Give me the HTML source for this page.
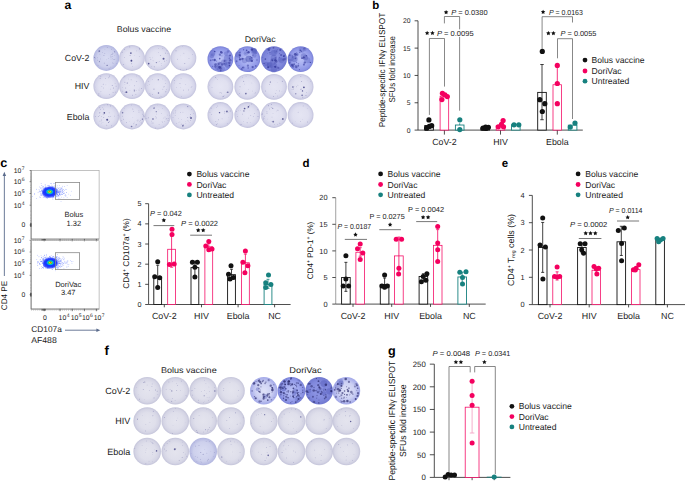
<!DOCTYPE html>
<html><head><meta charset="utf-8"><style>
html,body{margin:0;padding:0;background:#fff;width:685px;height:482px;overflow:hidden}
</style></head><body>
<svg width="685" height="482" viewBox="0 0 685 482" style="display:block">
<defs>
<radialGradient id="gL" cx="50%" cy="50%" r="50%">
 <stop offset="0" stop-color="#e4e4ee"/><stop offset="0.6" stop-color="#dfdfeb"/><stop offset="0.85" stop-color="#d5d5e5"/><stop offset="0.96" stop-color="#c9c9dd"/><stop offset="1" stop-color="#c3c3d9"/>
</radialGradient>
<radialGradient id="gLa" cx="50%" cy="50%" r="50%">
 <stop offset="0" stop-color="#e5e5f3"/><stop offset="0.6" stop-color="#e0e0f0"/><stop offset="0.85" stop-color="#d5d5ea"/><stop offset="0.96" stop-color="#c7c7e0"/><stop offset="1" stop-color="#c1c1dc"/>
</radialGradient>
<radialGradient id="gL2" cx="50%" cy="50%" r="50%">
 <stop offset="0" stop-color="#d8dbf2"/><stop offset="0.7" stop-color="#cdd0ec"/><stop offset="1" stop-color="#b2b6e0"/>
</radialGradient>
<radialGradient id="gB" cx="50%" cy="50%" r="50%">
 <stop offset="0" stop-color="#bcc3f6"/><stop offset="0.5" stop-color="#a3abef"/><stop offset="0.85" stop-color="#8d95e6"/><stop offset="1" stop-color="#7880d6"/>
</radialGradient>
<radialGradient id="gB1" cx="50%" cy="50%" r="50%">
 <stop offset="0" stop-color="#dfe2f8"/><stop offset="0.6" stop-color="#ccd0f3"/><stop offset="1" stop-color="#a2a8e8"/>
</radialGradient>
<radialGradient id="gB3" cx="50%" cy="50%" r="50%">
 <stop offset="0" stop-color="#949ce8"/><stop offset="0.7" stop-color="#8088dc"/><stop offset="1" stop-color="#7078d0"/>
</radialGradient>
<radialGradient id="blob" cx="50%" cy="50%" r="50%">
 <stop offset="0" stop-color="#e81010"/><stop offset="0.1" stop-color="#f0d020"/><stop offset="0.2" stop-color="#40d040"/><stop offset="0.33" stop-color="#00b8e8"/><stop offset="0.5" stop-color="#1038ff"/><stop offset="0.75" stop-color="#1a30ff" stop-opacity="0.85"/><stop offset="1" stop-color="#3050ff" stop-opacity="0"/>
</radialGradient>
</defs>
<g font-family='"Liberation Sans", sans-serif' text-rendering="geometricPrecision">
<text x="64.50" y="8.90" font-size="12.2" text-anchor="start" font-weight="bold" fill="#000">a</text>
<text x="144.00" y="31.70" font-size="8.3" text-anchor="middle" fill="#1c1c1c" textLength="54.3" lengthAdjust="spacingAndGlyphs">Bolus vaccine</text>
<text x="260.20" y="42.00" font-size="8.3" text-anchor="middle" fill="#1c1c1c" textLength="31.1" lengthAdjust="spacingAndGlyphs">DoriVac</text>
<text x="89.30" y="61.30" font-size="8.8" text-anchor="end" fill="#1c1c1c">CoV-2</text>
<text x="89.30" y="88.60" font-size="8.8" text-anchor="end" fill="#1c1c1c">HIV</text>
<text x="89.30" y="119.80" font-size="8.8" text-anchor="end" fill="#1c1c1c">Ebola</text>
<circle cx="106.30" cy="58.00" r="12.90" fill="url(#gL2)"/>
<circle cx="117.54" cy="54.81" r="0.21" fill="#40408a" opacity="0.29"/>
<circle cx="111.57" cy="49.16" r="0.37" fill="#40408a" opacity="0.39"/>
<circle cx="98.95" cy="52.23" r="0.35" fill="#40408a" opacity="0.32"/>
<circle cx="99.48" cy="61.18" r="0.38" fill="#40408a" opacity="0.70"/>
<circle cx="114.71" cy="55.23" r="0.31" fill="#40408a" opacity="0.37"/>
<circle cx="108.24" cy="58.44" r="0.32" fill="#40408a" opacity="0.39"/>
<circle cx="98.04" cy="65.75" r="0.33" fill="#40408a" opacity="0.50"/>
<circle cx="106.46" cy="59.85" r="0.28" fill="#40408a" opacity="0.31"/>
<circle cx="94.34" cy="57.23" r="0.37" fill="#40408a" opacity="0.33"/>
<circle cx="114.70" cy="51.36" r="0.38" fill="#40408a" opacity="0.66"/>
<circle cx="107.16" cy="47.37" r="0.29" fill="#40408a" opacity="0.69"/>
<circle cx="110.98" cy="56.86" r="0.39" fill="#40408a" opacity="0.57"/>
<circle cx="97.82" cy="60.10" r="0.32" fill="#40408a" opacity="0.67"/>
<circle cx="95.36" cy="57.94" r="0.29" fill="#40408a" opacity="0.65"/>
<circle cx="112.88" cy="53.20" r="0.34" fill="#40408a" opacity="0.66"/>
<circle cx="104.93" cy="49.74" r="0.26" fill="#40408a" opacity="0.40"/>
<circle cx="104.78" cy="53.35" r="0.43" fill="#40408a" opacity="0.37"/>
<circle cx="111.97" cy="54.47" r="0.44" fill="#40408a" opacity="0.57"/>
<circle cx="97.67" cy="57.77" r="0.36" fill="#40408a" opacity="0.51"/>
<circle cx="104.23" cy="63.06" r="0.33" fill="#40408a" opacity="0.67"/>
<circle cx="103.95" cy="55.70" r="0.41" fill="#40408a" opacity="0.58"/>
<circle cx="110.69" cy="55.12" r="0.39" fill="#40408a" opacity="0.28"/>
<circle cx="102.71" cy="52.86" r="0.26" fill="#40408a" opacity="0.64"/>
<circle cx="113.11" cy="63.37" r="0.41" fill="#40408a" opacity="0.36"/>
<circle cx="109.07" cy="68.91" r="0.31" fill="#40408a" opacity="0.57"/>
<circle cx="113.38" cy="59.44" r="0.24" fill="#40408a" opacity="0.55"/>
<circle cx="116.47" cy="63.83" r="0.21" fill="#40408a" opacity="0.58"/>
<circle cx="112.31" cy="58.80" r="0.40" fill="#40408a" opacity="0.32"/>
<circle cx="110.33" cy="67.12" r="0.30" fill="#40408a" opacity="0.27"/>
<circle cx="110.96" cy="57.71" r="0.21" fill="#40408a" opacity="0.40"/>
<circle cx="98.56" cy="51.15" r="0.23" fill="#40408a" opacity="0.40"/>
<circle cx="114.19" cy="59.55" r="0.39" fill="#40408a" opacity="0.58"/>
<circle cx="114.81" cy="51.98" r="0.42" fill="#40408a" opacity="0.57"/>
<circle cx="100.69" cy="58.97" r="0.37" fill="#40408a" opacity="0.39"/>
<circle cx="112.73" cy="62.80" r="0.42" fill="#40408a" opacity="0.31"/>
<circle cx="99.83" cy="54.17" r="0.33" fill="#40408a" opacity="0.31"/>
<circle cx="112.21" cy="56.47" r="0.35" fill="#40408a" opacity="0.44"/>
<circle cx="115.20" cy="59.01" r="0.24" fill="#40408a" opacity="0.28"/>
<circle cx="111.01" cy="59.01" r="0.22" fill="#40408a" opacity="0.54"/>
<circle cx="94.42" cy="57.38" r="0.43" fill="#40408a" opacity="0.70"/>
<circle cx="107.10" cy="65.27" r="0.63" fill="#30307a" opacity="0.69"/>
<circle cx="99.33" cy="51.10" r="0.85" fill="#30307a" opacity="0.55"/>
<circle cx="99.26" cy="61.70" r="0.50" fill="#30307a" opacity="0.46"/>
<circle cx="132.00" cy="58.00" r="12.90" fill="url(#gLa)"/>
<circle cx="132.67" cy="66.83" r="0.29" fill="#40408a" opacity="0.52"/>
<circle cx="129.84" cy="55.82" r="0.20" fill="#40408a" opacity="0.63"/>
<circle cx="131.66" cy="63.80" r="0.45" fill="#40408a" opacity="0.46"/>
<circle cx="136.28" cy="50.91" r="0.36" fill="#40408a" opacity="0.32"/>
<circle cx="124.60" cy="49.62" r="0.33" fill="#40408a" opacity="0.58"/>
<circle cx="130.56" cy="55.33" r="0.39" fill="#40408a" opacity="0.52"/>
<circle cx="131.33" cy="60.00" r="0.42" fill="#40408a" opacity="0.46"/>
<circle cx="129.81" cy="46.97" r="0.38" fill="#40408a" opacity="0.66"/>
<circle cx="123.52" cy="64.58" r="0.31" fill="#40408a" opacity="0.67"/>
<circle cx="134.71" cy="55.42" r="0.23" fill="#40408a" opacity="0.35"/>
<circle cx="139.74" cy="56.29" r="0.36" fill="#40408a" opacity="0.39"/>
<circle cx="124.56" cy="57.66" r="0.29" fill="#40408a" opacity="0.51"/>
<circle cx="122.15" cy="52.24" r="0.37" fill="#40408a" opacity="0.67"/>
<circle cx="139.40" cy="48.63" r="0.37" fill="#40408a" opacity="0.32"/>
<circle cx="139.55" cy="48.95" r="0.43" fill="#40408a" opacity="0.51"/>
<circle cx="130.86" cy="53.09" r="0.92" fill="#30307a" opacity="0.68"/>
<circle cx="131.40" cy="60.70" r="0.93" fill="#30307a" opacity="0.85"/>
<circle cx="157.70" cy="58.00" r="12.90" fill="url(#gLa)"/>
<circle cx="158.04" cy="61.84" r="0.30" fill="#40408a" opacity="0.32"/>
<circle cx="164.65" cy="61.09" r="0.43" fill="#40408a" opacity="0.61"/>
<circle cx="158.24" cy="52.37" r="0.33" fill="#40408a" opacity="0.37"/>
<circle cx="159.53" cy="61.46" r="0.25" fill="#40408a" opacity="0.67"/>
<circle cx="162.83" cy="48.52" r="0.40" fill="#40408a" opacity="0.34"/>
<circle cx="154.21" cy="66.84" r="0.38" fill="#40408a" opacity="0.63"/>
<circle cx="160.28" cy="55.58" r="0.35" fill="#40408a" opacity="0.55"/>
<circle cx="152.64" cy="57.81" r="0.32" fill="#40408a" opacity="0.29"/>
<circle cx="167.93" cy="53.54" r="0.34" fill="#40408a" opacity="0.39"/>
<circle cx="165.33" cy="53.08" r="0.42" fill="#40408a" opacity="0.63"/>
<circle cx="149.99" cy="57.59" r="0.35" fill="#40408a" opacity="0.44"/>
<circle cx="161.20" cy="63.62" r="0.40" fill="#40408a" opacity="0.27"/>
<circle cx="166.80" cy="60.72" r="0.27" fill="#40408a" opacity="0.49"/>
<circle cx="150.79" cy="59.26" r="0.45" fill="#40408a" opacity="0.34"/>
<circle cx="153.09" cy="60.81" r="0.36" fill="#40408a" opacity="0.37"/>
<circle cx="151.30" cy="66.16" r="0.28" fill="#40408a" opacity="0.50"/>
<circle cx="160.84" cy="55.84" r="0.22" fill="#40408a" opacity="0.35"/>
<circle cx="158.60" cy="48.63" r="0.26" fill="#40408a" opacity="0.40"/>
<circle cx="161.27" cy="65.30" r="0.21" fill="#40408a" opacity="0.56"/>
<circle cx="167.00" cy="50.87" r="0.38" fill="#40408a" opacity="0.68"/>
<circle cx="163.56" cy="58.67" r="0.98" fill="#30307a" opacity="0.76"/>
<circle cx="148.69" cy="63.68" r="0.81" fill="#30307a" opacity="0.78"/>
<circle cx="156.41" cy="62.62" r="0.72" fill="#30307a" opacity="0.50"/>
<circle cx="183.40" cy="58.00" r="12.90" fill="url(#gLa)"/>
<circle cx="176.00" cy="50.79" r="0.40" fill="#40408a" opacity="0.67"/>
<circle cx="182.67" cy="46.50" r="0.21" fill="#40408a" opacity="0.46"/>
<circle cx="192.46" cy="54.63" r="0.43" fill="#40408a" opacity="0.30"/>
<circle cx="177.55" cy="59.15" r="0.34" fill="#40408a" opacity="0.51"/>
<circle cx="188.97" cy="58.46" r="0.27" fill="#40408a" opacity="0.66"/>
<circle cx="183.87" cy="53.23" r="0.40" fill="#40408a" opacity="0.31"/>
<circle cx="180.24" cy="55.13" r="0.20" fill="#40408a" opacity="0.64"/>
<circle cx="184.80" cy="63.39" r="0.45" fill="#40408a" opacity="0.64"/>
<circle cx="180.52" cy="69.41" r="0.33" fill="#40408a" opacity="0.56"/>
<circle cx="186.66" cy="69.17" r="0.37" fill="#40408a" opacity="0.68"/>
<circle cx="106.30" cy="86.10" r="12.90" fill="url(#gLa)"/>
<circle cx="109.23" cy="75.62" r="0.32" fill="#40408a" opacity="0.37"/>
<circle cx="116.07" cy="86.13" r="0.32" fill="#40408a" opacity="0.59"/>
<circle cx="98.94" cy="93.63" r="0.27" fill="#40408a" opacity="0.61"/>
<circle cx="105.32" cy="78.44" r="0.33" fill="#40408a" opacity="0.56"/>
<circle cx="109.43" cy="94.46" r="0.40" fill="#40408a" opacity="0.37"/>
<circle cx="109.57" cy="76.72" r="0.41" fill="#40408a" opacity="0.40"/>
<circle cx="115.25" cy="92.03" r="0.40" fill="#40408a" opacity="0.45"/>
<circle cx="110.73" cy="89.06" r="0.36" fill="#40408a" opacity="0.38"/>
<circle cx="115.08" cy="83.33" r="0.25" fill="#40408a" opacity="0.54"/>
<circle cx="98.89" cy="95.01" r="0.43" fill="#40408a" opacity="0.48"/>
<circle cx="100.14" cy="78.20" r="0.40" fill="#40408a" opacity="0.69"/>
<circle cx="113.40" cy="87.38" r="0.35" fill="#40408a" opacity="0.39"/>
<circle cx="103.26" cy="84.19" r="0.42" fill="#40408a" opacity="0.49"/>
<circle cx="113.55" cy="92.64" r="0.28" fill="#40408a" opacity="0.34"/>
<circle cx="101.86" cy="86.55" r="0.25" fill="#40408a" opacity="0.64"/>
<circle cx="105.87" cy="84.83" r="0.39" fill="#40408a" opacity="0.26"/>
<circle cx="100.62" cy="96.00" r="0.36" fill="#40408a" opacity="0.39"/>
<circle cx="100.93" cy="91.31" r="0.23" fill="#40408a" opacity="0.70"/>
<circle cx="113.66" cy="88.69" r="0.39" fill="#40408a" opacity="0.43"/>
<circle cx="112.20" cy="85.39" r="0.44" fill="#40408a" opacity="0.65"/>
<circle cx="100.86" cy="76.18" r="0.31" fill="#40408a" opacity="0.62"/>
<circle cx="108.76" cy="77.84" r="0.32" fill="#40408a" opacity="0.57"/>
<circle cx="103.34" cy="88.00" r="0.39" fill="#40408a" opacity="0.37"/>
<circle cx="95.71" cy="86.92" r="0.24" fill="#40408a" opacity="0.26"/>
<circle cx="112.87" cy="92.55" r="0.29" fill="#40408a" opacity="0.37"/>
<circle cx="132.00" cy="86.10" r="12.90" fill="url(#gLa)"/>
<circle cx="129.92" cy="90.27" r="0.36" fill="#40408a" opacity="0.28"/>
<circle cx="124.93" cy="84.48" r="0.21" fill="#40408a" opacity="0.48"/>
<circle cx="139.68" cy="87.94" r="0.22" fill="#40408a" opacity="0.29"/>
<circle cx="122.29" cy="91.08" r="0.23" fill="#40408a" opacity="0.35"/>
<circle cx="123.87" cy="77.72" r="0.34" fill="#40408a" opacity="0.43"/>
<circle cx="134.56" cy="85.72" r="0.41" fill="#40408a" opacity="0.38"/>
<circle cx="134.54" cy="89.34" r="0.28" fill="#40408a" opacity="0.62"/>
<circle cx="135.86" cy="94.40" r="0.36" fill="#40408a" opacity="0.42"/>
<circle cx="129.13" cy="85.21" r="0.21" fill="#40408a" opacity="0.34"/>
<circle cx="128.68" cy="78.99" r="0.28" fill="#40408a" opacity="0.51"/>
<circle cx="125.71" cy="88.00" r="0.40" fill="#40408a" opacity="0.56"/>
<circle cx="132.34" cy="95.19" r="0.33" fill="#40408a" opacity="0.64"/>
<circle cx="131.17" cy="79.72" r="0.45" fill="#40408a" opacity="0.30"/>
<circle cx="122.91" cy="91.24" r="0.24" fill="#40408a" opacity="0.47"/>
<circle cx="141.51" cy="88.49" r="0.39" fill="#40408a" opacity="0.51"/>
<circle cx="136.77" cy="81.36" r="0.37" fill="#40408a" opacity="0.52"/>
<circle cx="124.90" cy="82.20" r="0.41" fill="#40408a" opacity="0.68"/>
<circle cx="122.35" cy="87.68" r="0.22" fill="#40408a" opacity="0.57"/>
<circle cx="124.80" cy="76.56" r="0.41" fill="#40408a" opacity="0.38"/>
<circle cx="124.61" cy="92.55" r="0.21" fill="#40408a" opacity="0.46"/>
<circle cx="134.02" cy="89.67" r="0.21" fill="#40408a" opacity="0.60"/>
<circle cx="136.10" cy="90.43" r="0.30" fill="#40408a" opacity="0.64"/>
<circle cx="139.03" cy="90.00" r="0.34" fill="#40408a" opacity="0.65"/>
<circle cx="136.70" cy="75.99" r="0.27" fill="#40408a" opacity="0.44"/>
<circle cx="124.88" cy="94.85" r="0.44" fill="#40408a" opacity="0.32"/>
<circle cx="134.36" cy="90.82" r="0.62" fill="#30307a" opacity="0.64"/>
<circle cx="127.24" cy="83.11" r="0.50" fill="#30307a" opacity="0.62"/>
<circle cx="126.38" cy="92.14" r="0.98" fill="#30307a" opacity="0.73"/>
<circle cx="157.70" cy="86.10" r="12.90" fill="url(#gLa)"/>
<circle cx="159.42" cy="97.74" r="0.23" fill="#40408a" opacity="0.57"/>
<circle cx="162.83" cy="89.14" r="0.45" fill="#40408a" opacity="0.34"/>
<circle cx="152.59" cy="79.78" r="0.31" fill="#40408a" opacity="0.47"/>
<circle cx="161.58" cy="96.32" r="0.22" fill="#40408a" opacity="0.36"/>
<circle cx="163.85" cy="86.88" r="0.30" fill="#40408a" opacity="0.66"/>
<circle cx="154.77" cy="88.89" r="0.26" fill="#40408a" opacity="0.70"/>
<circle cx="166.42" cy="89.75" r="0.29" fill="#40408a" opacity="0.55"/>
<circle cx="152.44" cy="94.57" r="0.32" fill="#40408a" opacity="0.54"/>
<circle cx="165.15" cy="80.79" r="0.24" fill="#40408a" opacity="0.28"/>
<circle cx="165.61" cy="83.31" r="0.25" fill="#40408a" opacity="0.68"/>
<circle cx="148.69" cy="81.22" r="0.42" fill="#40408a" opacity="0.38"/>
<circle cx="150.72" cy="94.91" r="0.23" fill="#40408a" opacity="0.59"/>
<circle cx="165.85" cy="91.84" r="0.38" fill="#40408a" opacity="0.68"/>
<circle cx="162.42" cy="79.01" r="0.25" fill="#40408a" opacity="0.32"/>
<circle cx="149.27" cy="84.56" r="0.22" fill="#40408a" opacity="0.66"/>
<circle cx="147.66" cy="85.63" r="0.25" fill="#40408a" opacity="0.36"/>
<circle cx="164.71" cy="86.63" r="0.27" fill="#40408a" opacity="0.44"/>
<circle cx="149.86" cy="93.75" r="0.42" fill="#40408a" opacity="0.33"/>
<circle cx="153.81" cy="89.07" r="0.37" fill="#40408a" opacity="0.69"/>
<circle cx="160.83" cy="96.13" r="0.28" fill="#40408a" opacity="0.26"/>
<circle cx="158.28" cy="79.72" r="0.59" fill="#30307a" opacity="0.62"/>
<circle cx="158.50" cy="93.08" r="0.72" fill="#30307a" opacity="0.62"/>
<circle cx="183.40" cy="86.10" r="12.90" fill="url(#gLa)"/>
<circle cx="176.27" cy="87.79" r="0.23" fill="#40408a" opacity="0.64"/>
<circle cx="191.90" cy="86.44" r="0.42" fill="#40408a" opacity="0.29"/>
<circle cx="174.52" cy="82.95" r="0.21" fill="#40408a" opacity="0.42"/>
<circle cx="181.08" cy="78.38" r="0.38" fill="#40408a" opacity="0.32"/>
<circle cx="183.70" cy="90.08" r="0.33" fill="#40408a" opacity="0.67"/>
<circle cx="174.50" cy="80.42" r="0.30" fill="#40408a" opacity="0.59"/>
<circle cx="188.60" cy="89.96" r="0.37" fill="#40408a" opacity="0.58"/>
<circle cx="180.27" cy="87.78" r="0.27" fill="#40408a" opacity="0.34"/>
<circle cx="181.30" cy="96.69" r="0.25" fill="#40408a" opacity="0.65"/>
<circle cx="185.44" cy="84.17" r="0.29" fill="#40408a" opacity="0.47"/>
<circle cx="191.13" cy="87.25" r="0.43" fill="#40408a" opacity="0.30"/>
<circle cx="179.97" cy="83.71" r="0.34" fill="#40408a" opacity="0.65"/>
<circle cx="106.30" cy="116.50" r="12.90" fill="url(#gLa)"/>
<circle cx="99.22" cy="113.09" r="0.34" fill="#40408a" opacity="0.34"/>
<circle cx="110.52" cy="106.46" r="0.36" fill="#40408a" opacity="0.32"/>
<circle cx="99.49" cy="115.61" r="0.26" fill="#40408a" opacity="0.68"/>
<circle cx="108.83" cy="116.45" r="0.42" fill="#40408a" opacity="0.52"/>
<circle cx="101.60" cy="120.83" r="0.37" fill="#40408a" opacity="0.46"/>
<circle cx="102.47" cy="107.52" r="0.23" fill="#40408a" opacity="0.60"/>
<circle cx="118.04" cy="115.20" r="0.35" fill="#40408a" opacity="0.27"/>
<circle cx="110.69" cy="116.61" r="0.44" fill="#40408a" opacity="0.39"/>
<circle cx="98.72" cy="124.97" r="0.28" fill="#40408a" opacity="0.50"/>
<circle cx="103.49" cy="117.70" r="0.35" fill="#40408a" opacity="0.63"/>
<circle cx="109.45" cy="121.23" r="0.30" fill="#40408a" opacity="0.27"/>
<circle cx="95.45" cy="116.73" r="0.36" fill="#40408a" opacity="0.49"/>
<circle cx="109.15" cy="112.83" r="0.34" fill="#40408a" opacity="0.42"/>
<circle cx="103.06" cy="114.10" r="0.39" fill="#40408a" opacity="0.29"/>
<circle cx="111.71" cy="125.83" r="0.44" fill="#40408a" opacity="0.44"/>
<circle cx="101.20" cy="119.56" r="0.27" fill="#40408a" opacity="0.53"/>
<circle cx="108.10" cy="120.23" r="0.31" fill="#40408a" opacity="0.32"/>
<circle cx="99.84" cy="107.76" r="0.39" fill="#40408a" opacity="0.47"/>
<circle cx="101.75" cy="122.97" r="0.20" fill="#40408a" opacity="0.57"/>
<circle cx="102.97" cy="122.41" r="0.22" fill="#40408a" opacity="0.45"/>
<circle cx="99.80" cy="112.77" r="0.42" fill="#40408a" opacity="0.55"/>
<circle cx="106.77" cy="125.18" r="0.43" fill="#40408a" opacity="0.48"/>
<circle cx="103.89" cy="114.70" r="0.32" fill="#40408a" opacity="0.46"/>
<circle cx="99.97" cy="121.03" r="0.35" fill="#40408a" opacity="0.49"/>
<circle cx="101.42" cy="116.81" r="0.31" fill="#40408a" opacity="0.69"/>
<circle cx="104.36" cy="117.65" r="0.20" fill="#40408a" opacity="0.49"/>
<circle cx="109.77" cy="117.64" r="0.23" fill="#40408a" opacity="0.45"/>
<circle cx="114.65" cy="116.12" r="0.31" fill="#40408a" opacity="0.45"/>
<circle cx="98.28" cy="116.44" r="0.38" fill="#40408a" opacity="0.65"/>
<circle cx="103.79" cy="109.11" r="0.36" fill="#40408a" opacity="0.66"/>
<circle cx="109.63" cy="121.31" r="0.35" fill="#40408a" opacity="0.56"/>
<circle cx="100.55" cy="109.31" r="0.41" fill="#40408a" opacity="0.47"/>
<circle cx="110.47" cy="105.49" r="0.31" fill="#40408a" opacity="0.64"/>
<circle cx="104.06" cy="105.41" r="0.21" fill="#40408a" opacity="0.66"/>
<circle cx="107.54" cy="104.80" r="0.45" fill="#40408a" opacity="0.38"/>
<circle cx="104.31" cy="112.89" r="0.80" fill="#30307a" opacity="0.82"/>
<circle cx="108.61" cy="122.56" r="0.54" fill="#30307a" opacity="0.53"/>
<circle cx="107.19" cy="119.78" r="1.00" fill="#30307a" opacity="0.81"/>
<circle cx="132.00" cy="116.50" r="12.90" fill="url(#gLa)"/>
<circle cx="123.42" cy="119.15" r="0.43" fill="#40408a" opacity="0.46"/>
<circle cx="122.82" cy="116.05" r="0.25" fill="#40408a" opacity="0.48"/>
<circle cx="124.68" cy="108.72" r="0.22" fill="#40408a" opacity="0.39"/>
<circle cx="141.09" cy="122.32" r="0.37" fill="#40408a" opacity="0.27"/>
<circle cx="143.71" cy="115.18" r="0.36" fill="#40408a" opacity="0.53"/>
<circle cx="132.81" cy="117.73" r="0.33" fill="#40408a" opacity="0.28"/>
<circle cx="134.17" cy="121.99" r="0.21" fill="#40408a" opacity="0.46"/>
<circle cx="121.75" cy="120.52" r="0.33" fill="#40408a" opacity="0.54"/>
<circle cx="122.24" cy="116.51" r="0.31" fill="#40408a" opacity="0.38"/>
<circle cx="143.97" cy="116.32" r="0.41" fill="#40408a" opacity="0.57"/>
<circle cx="129.71" cy="121.77" r="0.27" fill="#40408a" opacity="0.28"/>
<circle cx="132.78" cy="108.95" r="0.41" fill="#40408a" opacity="0.42"/>
<circle cx="142.66" cy="113.62" r="0.20" fill="#40408a" opacity="0.34"/>
<circle cx="138.95" cy="112.10" r="0.45" fill="#40408a" opacity="0.43"/>
<circle cx="140.53" cy="120.72" r="0.39" fill="#40408a" opacity="0.37"/>
<circle cx="137.91" cy="120.10" r="0.44" fill="#40408a" opacity="0.59"/>
<circle cx="136.39" cy="120.52" r="0.23" fill="#40408a" opacity="0.28"/>
<circle cx="133.47" cy="111.66" r="0.34" fill="#40408a" opacity="0.45"/>
<circle cx="135.74" cy="126.06" r="0.23" fill="#40408a" opacity="0.54"/>
<circle cx="137.79" cy="121.70" r="0.25" fill="#40408a" opacity="0.37"/>
<circle cx="142.57" cy="114.55" r="0.28" fill="#40408a" opacity="0.65"/>
<circle cx="133.84" cy="123.80" r="0.41" fill="#40408a" opacity="0.54"/>
<circle cx="141.64" cy="123.53" r="0.25" fill="#40408a" opacity="0.37"/>
<circle cx="132.98" cy="109.69" r="0.27" fill="#40408a" opacity="0.28"/>
<circle cx="139.73" cy="121.41" r="0.26" fill="#40408a" opacity="0.52"/>
<circle cx="126.41" cy="122.33" r="0.44" fill="#40408a" opacity="0.47"/>
<circle cx="122.04" cy="111.46" r="0.25" fill="#40408a" opacity="0.32"/>
<circle cx="141.10" cy="110.60" r="0.26" fill="#40408a" opacity="0.34"/>
<circle cx="131.23" cy="104.89" r="0.25" fill="#40408a" opacity="0.68"/>
<circle cx="138.88" cy="110.21" r="0.31" fill="#40408a" opacity="0.30"/>
<circle cx="142.44" cy="119.09" r="0.62" fill="#30307a" opacity="0.73"/>
<circle cx="131.56" cy="126.44" r="0.80" fill="#30307a" opacity="0.57"/>
<circle cx="136.20" cy="124.80" r="0.53" fill="#30307a" opacity="0.54"/>
<circle cx="122.57" cy="112.81" r="0.81" fill="#30307a" opacity="0.56"/>
<circle cx="157.70" cy="116.50" r="12.90" fill="url(#gLa)"/>
<circle cx="148.10" cy="118.05" r="0.37" fill="#40408a" opacity="0.31"/>
<circle cx="165.03" cy="117.00" r="0.27" fill="#40408a" opacity="0.61"/>
<circle cx="154.31" cy="107.84" r="0.34" fill="#40408a" opacity="0.55"/>
<circle cx="162.57" cy="122.80" r="0.24" fill="#40408a" opacity="0.66"/>
<circle cx="167.82" cy="120.42" r="0.22" fill="#40408a" opacity="0.56"/>
<circle cx="153.73" cy="123.02" r="0.41" fill="#40408a" opacity="0.26"/>
<circle cx="168.35" cy="120.78" r="0.33" fill="#40408a" opacity="0.29"/>
<circle cx="169.33" cy="115.56" r="0.23" fill="#40408a" opacity="0.44"/>
<circle cx="162.13" cy="121.53" r="0.36" fill="#40408a" opacity="0.32"/>
<circle cx="156.81" cy="113.93" r="0.24" fill="#40408a" opacity="0.62"/>
<circle cx="151.40" cy="121.04" r="0.35" fill="#40408a" opacity="0.46"/>
<circle cx="156.13" cy="117.89" r="0.38" fill="#40408a" opacity="0.69"/>
<circle cx="167.36" cy="115.05" r="0.29" fill="#40408a" opacity="0.41"/>
<circle cx="154.08" cy="107.34" r="0.23" fill="#40408a" opacity="0.36"/>
<circle cx="152.09" cy="122.99" r="0.40" fill="#40408a" opacity="0.48"/>
<circle cx="168.41" cy="118.41" r="0.31" fill="#40408a" opacity="0.48"/>
<circle cx="159.06" cy="124.22" r="0.30" fill="#40408a" opacity="0.60"/>
<circle cx="164.81" cy="121.85" r="0.24" fill="#40408a" opacity="0.56"/>
<circle cx="163.84" cy="117.95" r="0.29" fill="#40408a" opacity="0.54"/>
<circle cx="165.40" cy="119.11" r="0.25" fill="#40408a" opacity="0.38"/>
<circle cx="146.08" cy="118.25" r="0.32" fill="#40408a" opacity="0.68"/>
<circle cx="163.41" cy="126.52" r="0.29" fill="#40408a" opacity="0.34"/>
<circle cx="157.59" cy="105.04" r="0.20" fill="#40408a" opacity="0.37"/>
<circle cx="158.61" cy="109.55" r="0.26" fill="#40408a" opacity="0.25"/>
<circle cx="166.84" cy="118.85" r="0.45" fill="#40408a" opacity="0.70"/>
<circle cx="155.85" cy="116.46" r="0.28" fill="#40408a" opacity="0.60"/>
<circle cx="162.42" cy="108.15" r="0.26" fill="#40408a" opacity="0.49"/>
<circle cx="148.30" cy="117.85" r="0.27" fill="#40408a" opacity="0.68"/>
<circle cx="161.50" cy="113.52" r="0.27" fill="#40408a" opacity="0.64"/>
<circle cx="155.64" cy="127.97" r="0.33" fill="#40408a" opacity="0.56"/>
<circle cx="156.28" cy="111.63" r="0.64" fill="#30307a" opacity="0.55"/>
<circle cx="153.98" cy="108.16" r="0.57" fill="#30307a" opacity="0.80"/>
<circle cx="152.98" cy="119.08" r="0.72" fill="#30307a" opacity="0.84"/>
<circle cx="183.40" cy="116.50" r="12.90" fill="url(#gLa)"/>
<circle cx="182.84" cy="126.42" r="0.37" fill="#40408a" opacity="0.63"/>
<circle cx="185.66" cy="121.80" r="0.24" fill="#40408a" opacity="0.35"/>
<circle cx="182.97" cy="112.19" r="0.33" fill="#40408a" opacity="0.35"/>
<circle cx="181.22" cy="124.07" r="0.41" fill="#40408a" opacity="0.52"/>
<circle cx="189.67" cy="117.07" r="0.24" fill="#40408a" opacity="0.64"/>
<circle cx="187.35" cy="106.48" r="0.41" fill="#40408a" opacity="0.59"/>
<circle cx="193.55" cy="113.15" r="0.26" fill="#40408a" opacity="0.63"/>
<circle cx="173.01" cy="117.36" r="0.34" fill="#40408a" opacity="0.44"/>
<circle cx="178.23" cy="122.43" r="0.28" fill="#40408a" opacity="0.30"/>
<circle cx="187.94" cy="106.79" r="0.45" fill="#40408a" opacity="0.56"/>
<circle cx="173.62" cy="113.03" r="0.23" fill="#40408a" opacity="0.55"/>
<circle cx="178.67" cy="118.26" r="0.25" fill="#40408a" opacity="0.49"/>
<circle cx="183.23" cy="124.63" r="0.35" fill="#40408a" opacity="0.43"/>
<circle cx="189.12" cy="122.66" r="0.26" fill="#40408a" opacity="0.36"/>
<circle cx="185.88" cy="123.32" r="0.22" fill="#40408a" opacity="0.54"/>
<circle cx="190.57" cy="114.35" r="0.38" fill="#40408a" opacity="0.67"/>
<circle cx="187.75" cy="117.71" r="0.40" fill="#40408a" opacity="0.63"/>
<circle cx="180.32" cy="112.82" r="0.30" fill="#40408a" opacity="0.64"/>
<circle cx="191.52" cy="109.45" r="0.25" fill="#40408a" opacity="0.63"/>
<circle cx="176.23" cy="123.69" r="0.23" fill="#40408a" opacity="0.69"/>
<circle cx="175.28" cy="110.33" r="0.25" fill="#40408a" opacity="0.53"/>
<circle cx="175.34" cy="112.01" r="0.29" fill="#40408a" opacity="0.58"/>
<circle cx="179.86" cy="121.98" r="0.24" fill="#40408a" opacity="0.56"/>
<circle cx="187.74" cy="120.19" r="0.22" fill="#40408a" opacity="0.54"/>
<circle cx="175.10" cy="113.44" r="0.21" fill="#40408a" opacity="0.45"/>
<circle cx="181.38" cy="119.55" r="0.20" fill="#40408a" opacity="0.70"/>
<circle cx="188.16" cy="121.05" r="0.27" fill="#40408a" opacity="0.52"/>
<circle cx="190.67" cy="120.34" r="0.29" fill="#40408a" opacity="0.63"/>
<circle cx="190.34" cy="116.75" r="0.32" fill="#40408a" opacity="0.69"/>
<circle cx="175.18" cy="115.64" r="0.37" fill="#40408a" opacity="0.38"/>
<circle cx="191.01" cy="118.04" r="0.96" fill="#30307a" opacity="0.75"/>
<circle cx="182.93" cy="125.56" r="0.92" fill="#30307a" opacity="0.55"/>
<circle cx="220.40" cy="59.10" r="12.90" fill="url(#gB)"/>
<circle cx="227.60" cy="64.82" r="2.84" fill="#5058b8" opacity="0.44"/>
<circle cx="219.67" cy="64.60" r="2.97" fill="#5058b8" opacity="0.38"/>
<circle cx="217.44" cy="67.67" r="2.43" fill="#5058b8" opacity="0.41"/>
<circle cx="224.21" cy="62.61" r="3.24" fill="#5058b8" opacity="0.32"/>
<circle cx="219.76" cy="68.91" r="2.81" fill="#5058b8" opacity="0.28"/>
<circle cx="211.93" cy="56.27" r="2.06" fill="#5058b8" opacity="0.38"/>
<circle cx="224.96" cy="63.55" r="1.93" fill="#5058b8" opacity="0.29"/>
<circle cx="227.30" cy="58.14" r="3.38" fill="#5058b8" opacity="0.34"/>
<circle cx="212.41" cy="52.69" r="2.90" fill="#5058b8" opacity="0.27"/>
<circle cx="213.00" cy="54.47" r="2.09" fill="#5058b8" opacity="0.27"/>
<circle cx="225.95" cy="53.54" r="2.11" fill="#5058b8" opacity="0.34"/>
<circle cx="222.35" cy="68.70" r="2.60" fill="#5058b8" opacity="0.27"/>
<circle cx="221.87" cy="55.87" r="0.65" fill="#34389a" opacity="0.36"/>
<circle cx="220.16" cy="55.10" r="0.87" fill="#34389a" opacity="0.39"/>
<circle cx="210.65" cy="60.30" r="0.88" fill="#34389a" opacity="0.55"/>
<circle cx="212.59" cy="59.84" r="0.94" fill="#34389a" opacity="0.39"/>
<circle cx="214.71" cy="60.02" r="1.18" fill="#34389a" opacity="0.77"/>
<circle cx="224.51" cy="60.92" r="1.03" fill="#34389a" opacity="0.61"/>
<circle cx="230.29" cy="60.29" r="1.25" fill="#34389a" opacity="0.54"/>
<circle cx="215.25" cy="66.43" r="1.25" fill="#34389a" opacity="0.47"/>
<circle cx="218.74" cy="63.98" r="0.97" fill="#34389a" opacity="0.56"/>
<circle cx="220.12" cy="66.49" r="0.43" fill="#34389a" opacity="0.49"/>
<circle cx="229.43" cy="58.13" r="0.65" fill="#34389a" opacity="0.77"/>
<circle cx="216.66" cy="63.73" r="0.43" fill="#34389a" opacity="0.42"/>
<circle cx="222.19" cy="64.50" r="1.19" fill="#34389a" opacity="0.47"/>
<circle cx="220.48" cy="68.32" r="1.23" fill="#34389a" opacity="0.48"/>
<circle cx="220.92" cy="51.91" r="0.91" fill="#34389a" opacity="0.62"/>
<circle cx="230.06" cy="55.44" r="0.86" fill="#34389a" opacity="0.73"/>
<circle cx="215.49" cy="64.57" r="1.26" fill="#34389a" opacity="0.60"/>
<circle cx="221.38" cy="52.52" r="1.22" fill="#34389a" opacity="0.63"/>
<circle cx="220.59" cy="70.57" r="0.82" fill="#34389a" opacity="0.50"/>
<circle cx="220.09" cy="62.90" r="0.58" fill="#34389a" opacity="0.66"/>
<circle cx="224.23" cy="63.77" r="0.80" fill="#34389a" opacity="0.60"/>
<circle cx="212.71" cy="66.27" r="0.63" fill="#34389a" opacity="0.52"/>
<circle cx="216.60" cy="61.03" r="0.60" fill="#34389a" opacity="0.42"/>
<circle cx="219.70" cy="54.61" r="1.00" fill="#34389a" opacity="0.45"/>
<circle cx="214.60" cy="51.43" r="0.72" fill="#34389a" opacity="0.77"/>
<circle cx="215.50" cy="51.72" r="0.44" fill="#34389a" opacity="0.53"/>
<circle cx="219.58" cy="67.19" r="1.24" fill="#34389a" opacity="0.74"/>
<circle cx="229.46" cy="62.81" r="1.24" fill="#34389a" opacity="0.59"/>
<circle cx="229.47" cy="65.41" r="0.78" fill="#34389a" opacity="0.79"/>
<circle cx="228.01" cy="51.43" r="1.24" fill="#34389a" opacity="0.38"/>
<circle cx="222.18" cy="52.79" r="0.52" fill="#34389a" opacity="0.52"/>
<circle cx="219.70" cy="58.66" r="0.80" fill="#34389a" opacity="0.70"/>
<circle cx="247.30" cy="59.10" r="12.90" fill="url(#gB)"/>
<circle cx="248.46" cy="58.84" r="2.98" fill="#5058b8" opacity="0.28"/>
<circle cx="248.72" cy="58.98" r="3.21" fill="#5058b8" opacity="0.39"/>
<circle cx="254.15" cy="50.54" r="2.18" fill="#5058b8" opacity="0.32"/>
<circle cx="245.79" cy="53.49" r="2.22" fill="#5058b8" opacity="0.30"/>
<circle cx="253.73" cy="51.11" r="3.08" fill="#5058b8" opacity="0.29"/>
<circle cx="254.28" cy="55.53" r="2.17" fill="#5058b8" opacity="0.34"/>
<circle cx="244.60" cy="60.59" r="2.70" fill="#5058b8" opacity="0.32"/>
<circle cx="237.72" cy="54.62" r="2.83" fill="#5058b8" opacity="0.33"/>
<circle cx="254.46" cy="50.83" r="2.58" fill="#5058b8" opacity="0.44"/>
<circle cx="251.38" cy="59.58" r="2.08" fill="#5058b8" opacity="0.44"/>
<circle cx="243.62" cy="49.73" r="0.66" fill="#34389a" opacity="0.57"/>
<circle cx="250.15" cy="56.66" r="0.50" fill="#34389a" opacity="0.37"/>
<circle cx="236.63" cy="61.23" r="0.90" fill="#34389a" opacity="0.53"/>
<circle cx="242.28" cy="59.04" r="1.25" fill="#34389a" opacity="0.51"/>
<circle cx="247.91" cy="65.69" r="1.14" fill="#34389a" opacity="0.49"/>
<circle cx="252.99" cy="55.23" r="0.80" fill="#34389a" opacity="0.38"/>
<circle cx="256.15" cy="53.28" r="0.83" fill="#34389a" opacity="0.40"/>
<circle cx="240.03" cy="59.44" r="1.16" fill="#34389a" opacity="0.77"/>
<circle cx="246.94" cy="52.75" r="0.44" fill="#34389a" opacity="0.75"/>
<circle cx="251.74" cy="57.49" r="0.85" fill="#34389a" opacity="0.57"/>
<circle cx="249.74" cy="58.74" r="0.46" fill="#34389a" opacity="0.73"/>
<circle cx="239.99" cy="55.68" r="1.10" fill="#34389a" opacity="0.62"/>
<circle cx="245.18" cy="53.49" r="0.48" fill="#34389a" opacity="0.35"/>
<circle cx="242.53" cy="67.38" r="0.74" fill="#34389a" opacity="0.51"/>
<circle cx="239.97" cy="52.34" r="0.94" fill="#34389a" opacity="0.49"/>
<circle cx="251.93" cy="49.54" r="1.20" fill="#34389a" opacity="0.75"/>
<circle cx="256.97" cy="60.02" r="0.71" fill="#34389a" opacity="0.52"/>
<circle cx="242.83" cy="58.59" r="0.62" fill="#34389a" opacity="0.79"/>
<circle cx="241.77" cy="69.00" r="1.02" fill="#34389a" opacity="0.49"/>
<circle cx="243.44" cy="67.48" r="1.03" fill="#34389a" opacity="0.50"/>
<circle cx="251.89" cy="60.89" r="1.17" fill="#34389a" opacity="0.68"/>
<circle cx="255.73" cy="65.92" r="0.92" fill="#34389a" opacity="0.50"/>
<circle cx="250.65" cy="56.47" r="0.49" fill="#34389a" opacity="0.50"/>
<circle cx="246.62" cy="50.34" r="0.84" fill="#34389a" opacity="0.76"/>
<circle cx="239.02" cy="65.61" r="0.40" fill="#34389a" opacity="0.70"/>
<circle cx="252.68" cy="67.06" r="1.15" fill="#34389a" opacity="0.65"/>
<circle cx="239.56" cy="54.92" r="1.08" fill="#34389a" opacity="0.52"/>
<circle cx="248.21" cy="67.91" r="0.87" fill="#34389a" opacity="0.40"/>
<circle cx="239.34" cy="57.58" r="0.54" fill="#34389a" opacity="0.67"/>
<circle cx="248.53" cy="52.30" r="1.18" fill="#34389a" opacity="0.79"/>
<circle cx="274.00" cy="59.10" r="12.90" fill="url(#gB3)"/>
<circle cx="269.10" cy="64.91" r="2.47" fill="#5058b8" opacity="0.34"/>
<circle cx="266.51" cy="63.89" r="2.21" fill="#5058b8" opacity="0.38"/>
<circle cx="280.01" cy="59.48" r="2.34" fill="#5058b8" opacity="0.28"/>
<circle cx="273.75" cy="53.00" r="3.06" fill="#5058b8" opacity="0.44"/>
<circle cx="273.77" cy="69.46" r="3.09" fill="#5058b8" opacity="0.38"/>
<circle cx="281.30" cy="60.37" r="2.80" fill="#5058b8" opacity="0.31"/>
<circle cx="274.98" cy="65.12" r="2.21" fill="#5058b8" opacity="0.41"/>
<circle cx="269.89" cy="64.93" r="2.83" fill="#5058b8" opacity="0.44"/>
<circle cx="273.39" cy="61.32" r="3.36" fill="#5058b8" opacity="0.42"/>
<circle cx="275.99" cy="51.42" r="2.18" fill="#5058b8" opacity="0.28"/>
<circle cx="271.51" cy="66.12" r="1.91" fill="#5058b8" opacity="0.39"/>
<circle cx="273.83" cy="57.86" r="3.15" fill="#5058b8" opacity="0.35"/>
<circle cx="281.14" cy="55.10" r="1.12" fill="#34389a" opacity="0.55"/>
<circle cx="267.64" cy="53.63" r="0.42" fill="#34389a" opacity="0.41"/>
<circle cx="274.84" cy="66.62" r="0.73" fill="#34389a" opacity="0.59"/>
<circle cx="269.95" cy="52.78" r="0.69" fill="#34389a" opacity="0.58"/>
<circle cx="284.04" cy="56.03" r="0.99" fill="#34389a" opacity="0.72"/>
<circle cx="274.52" cy="62.83" r="0.48" fill="#34389a" opacity="0.40"/>
<circle cx="283.37" cy="59.64" r="1.23" fill="#34389a" opacity="0.40"/>
<circle cx="269.55" cy="48.49" r="1.09" fill="#34389a" opacity="0.42"/>
<circle cx="270.13" cy="54.52" r="0.56" fill="#34389a" opacity="0.36"/>
<circle cx="262.77" cy="57.29" r="0.49" fill="#34389a" opacity="0.42"/>
<circle cx="272.22" cy="60.60" r="0.82" fill="#34389a" opacity="0.68"/>
<circle cx="271.73" cy="59.67" r="0.43" fill="#34389a" opacity="0.44"/>
<circle cx="268.32" cy="49.20" r="0.85" fill="#34389a" opacity="0.40"/>
<circle cx="275.63" cy="66.58" r="0.50" fill="#34389a" opacity="0.40"/>
<circle cx="264.04" cy="63.48" r="0.61" fill="#34389a" opacity="0.75"/>
<circle cx="279.56" cy="53.62" r="0.60" fill="#34389a" opacity="0.43"/>
<circle cx="268.65" cy="49.73" r="1.17" fill="#34389a" opacity="0.44"/>
<circle cx="272.43" cy="59.88" r="0.67" fill="#34389a" opacity="0.48"/>
<circle cx="276.33" cy="61.40" r="1.29" fill="#34389a" opacity="0.49"/>
<circle cx="265.32" cy="59.16" r="0.82" fill="#34389a" opacity="0.62"/>
<circle cx="265.69" cy="58.97" r="0.47" fill="#34389a" opacity="0.63"/>
<circle cx="269.07" cy="50.29" r="0.68" fill="#34389a" opacity="0.56"/>
<circle cx="277.51" cy="49.60" r="0.45" fill="#34389a" opacity="0.50"/>
<circle cx="278.74" cy="67.91" r="0.76" fill="#34389a" opacity="0.53"/>
<circle cx="275.35" cy="66.98" r="1.05" fill="#34389a" opacity="0.63"/>
<circle cx="275.32" cy="66.44" r="0.96" fill="#34389a" opacity="0.37"/>
<circle cx="275.47" cy="58.07" r="0.96" fill="#34389a" opacity="0.42"/>
<circle cx="283.50" cy="56.42" r="0.60" fill="#34389a" opacity="0.58"/>
<circle cx="280.19" cy="50.05" r="1.00" fill="#34389a" opacity="0.64"/>
<circle cx="273.46" cy="47.76" r="0.86" fill="#34389a" opacity="0.63"/>
<circle cx="276.53" cy="51.01" r="0.60" fill="#34389a" opacity="0.61"/>
<circle cx="268.14" cy="67.24" r="1.07" fill="#34389a" opacity="0.76"/>
<circle cx="275.38" cy="60.22" r="1.24" fill="#34389a" opacity="0.68"/>
<circle cx="284.71" cy="58.93" r="1.26" fill="#34389a" opacity="0.42"/>
<circle cx="277.64" cy="67.65" r="1.08" fill="#34389a" opacity="0.40"/>
<circle cx="279.39" cy="57.28" r="0.58" fill="#34389a" opacity="0.55"/>
<circle cx="300.60" cy="59.10" r="12.90" fill="url(#gB)"/>
<circle cx="290.85" cy="57.74" r="3.34" fill="#5058b8" opacity="0.31"/>
<circle cx="301.53" cy="49.95" r="2.86" fill="#5058b8" opacity="0.27"/>
<circle cx="307.30" cy="60.24" r="2.99" fill="#5058b8" opacity="0.30"/>
<circle cx="294.42" cy="59.04" r="3.15" fill="#5058b8" opacity="0.44"/>
<circle cx="291.67" cy="65.45" r="1.90" fill="#5058b8" opacity="0.41"/>
<circle cx="303.62" cy="56.09" r="2.93" fill="#5058b8" opacity="0.36"/>
<circle cx="305.43" cy="57.70" r="2.66" fill="#5058b8" opacity="0.43"/>
<circle cx="296.68" cy="54.43" r="1.93" fill="#5058b8" opacity="0.44"/>
<circle cx="289.80" cy="60.87" r="2.03" fill="#5058b8" opacity="0.41"/>
<circle cx="304.68" cy="49.41" r="1.83" fill="#5058b8" opacity="0.32"/>
<circle cx="310.35" cy="62.38" r="0.72" fill="#34389a" opacity="0.78"/>
<circle cx="293.22" cy="66.49" r="1.18" fill="#34389a" opacity="0.46"/>
<circle cx="289.72" cy="55.04" r="0.87" fill="#34389a" opacity="0.51"/>
<circle cx="299.46" cy="69.56" r="0.57" fill="#34389a" opacity="0.62"/>
<circle cx="292.30" cy="56.08" r="0.52" fill="#34389a" opacity="0.65"/>
<circle cx="306.40" cy="55.74" r="0.70" fill="#34389a" opacity="0.76"/>
<circle cx="295.14" cy="56.17" r="0.41" fill="#34389a" opacity="0.69"/>
<circle cx="295.91" cy="65.72" r="0.65" fill="#34389a" opacity="0.63"/>
<circle cx="299.73" cy="52.55" r="0.47" fill="#34389a" opacity="0.79"/>
<circle cx="302.04" cy="58.19" r="0.91" fill="#34389a" opacity="0.66"/>
<circle cx="292.28" cy="64.91" r="1.26" fill="#34389a" opacity="0.62"/>
<circle cx="296.52" cy="62.41" r="0.63" fill="#34389a" opacity="0.42"/>
<circle cx="304.81" cy="62.60" r="1.16" fill="#34389a" opacity="0.59"/>
<circle cx="304.45" cy="48.39" r="1.13" fill="#34389a" opacity="0.37"/>
<circle cx="303.83" cy="57.48" r="1.09" fill="#34389a" opacity="0.73"/>
<circle cx="296.46" cy="52.80" r="0.47" fill="#34389a" opacity="0.39"/>
<circle cx="296.78" cy="54.69" r="0.88" fill="#34389a" opacity="0.47"/>
<circle cx="303.94" cy="64.62" r="1.05" fill="#34389a" opacity="0.57"/>
<circle cx="294.13" cy="64.26" r="0.90" fill="#34389a" opacity="0.58"/>
<circle cx="289.62" cy="63.05" r="1.08" fill="#34389a" opacity="0.45"/>
<circle cx="298.46" cy="63.79" r="0.73" fill="#34389a" opacity="0.36"/>
<circle cx="300.29" cy="50.16" r="0.78" fill="#34389a" opacity="0.75"/>
<circle cx="296.31" cy="67.04" r="1.24" fill="#34389a" opacity="0.60"/>
<circle cx="295.14" cy="54.41" r="1.30" fill="#34389a" opacity="0.69"/>
<circle cx="298.27" cy="65.78" r="0.93" fill="#34389a" opacity="0.58"/>
<circle cx="295.45" cy="58.34" r="0.92" fill="#34389a" opacity="0.67"/>
<circle cx="301.35" cy="51.18" r="0.80" fill="#34389a" opacity="0.58"/>
<circle cx="292.63" cy="57.25" r="0.41" fill="#34389a" opacity="0.47"/>
<circle cx="220.40" cy="86.80" r="12.90" fill="url(#gLa)"/>
<circle cx="224.48" cy="95.66" r="0.28" fill="#40408a" opacity="0.34"/>
<circle cx="211.99" cy="87.36" r="0.32" fill="#40408a" opacity="0.46"/>
<circle cx="219.85" cy="92.82" r="0.37" fill="#40408a" opacity="0.40"/>
<circle cx="215.56" cy="77.32" r="0.42" fill="#40408a" opacity="0.67"/>
<circle cx="220.97" cy="92.62" r="0.38" fill="#40408a" opacity="0.51"/>
<circle cx="223.34" cy="96.23" r="0.42" fill="#40408a" opacity="0.63"/>
<circle cx="221.79" cy="93.21" r="0.20" fill="#40408a" opacity="0.69"/>
<circle cx="222.29" cy="96.85" r="0.33" fill="#40408a" opacity="0.52"/>
<circle cx="209.65" cy="84.98" r="0.35" fill="#40408a" opacity="0.39"/>
<circle cx="226.62" cy="92.28" r="0.43" fill="#40408a" opacity="0.32"/>
<circle cx="216.56" cy="78.08" r="0.24" fill="#40408a" opacity="0.34"/>
<circle cx="217.31" cy="79.50" r="0.30" fill="#40408a" opacity="0.47"/>
<circle cx="227.80" cy="92.27" r="0.79" fill="#30307a" opacity="0.66"/>
<circle cx="247.30" cy="86.80" r="12.90" fill="url(#gLa)"/>
<circle cx="242.60" cy="77.27" r="0.33" fill="#40408a" opacity="0.48"/>
<circle cx="237.90" cy="94.23" r="0.27" fill="#40408a" opacity="0.32"/>
<circle cx="246.87" cy="92.91" r="0.28" fill="#40408a" opacity="0.37"/>
<circle cx="252.64" cy="91.08" r="0.28" fill="#40408a" opacity="0.51"/>
<circle cx="248.26" cy="89.85" r="0.25" fill="#40408a" opacity="0.49"/>
<circle cx="239.44" cy="93.42" r="0.40" fill="#40408a" opacity="0.44"/>
<circle cx="255.61" cy="92.78" r="0.39" fill="#40408a" opacity="0.43"/>
<circle cx="243.73" cy="81.30" r="0.43" fill="#40408a" opacity="0.63"/>
<circle cx="250.35" cy="75.49" r="0.26" fill="#40408a" opacity="0.50"/>
<circle cx="246.05" cy="76.13" r="0.30" fill="#40408a" opacity="0.31"/>
<circle cx="244.58" cy="84.03" r="0.38" fill="#40408a" opacity="0.25"/>
<circle cx="239.33" cy="89.14" r="0.23" fill="#40408a" opacity="0.47"/>
<circle cx="240.01" cy="86.80" r="0.42" fill="#40408a" opacity="0.64"/>
<circle cx="251.89" cy="83.03" r="0.21" fill="#40408a" opacity="0.42"/>
<circle cx="254.91" cy="93.40" r="0.27" fill="#40408a" opacity="0.31"/>
<circle cx="245.84" cy="93.61" r="0.87" fill="#30307a" opacity="0.63"/>
<circle cx="274.00" cy="86.80" r="12.90" fill="url(#gLa)"/>
<circle cx="282.24" cy="81.25" r="0.39" fill="#40408a" opacity="0.66"/>
<circle cx="273.41" cy="96.35" r="0.43" fill="#40408a" opacity="0.64"/>
<circle cx="269.57" cy="84.62" r="0.30" fill="#40408a" opacity="0.70"/>
<circle cx="279.40" cy="90.89" r="0.44" fill="#40408a" opacity="0.45"/>
<circle cx="275.73" cy="93.33" r="0.43" fill="#40408a" opacity="0.40"/>
<circle cx="265.47" cy="90.99" r="0.40" fill="#40408a" opacity="0.47"/>
<circle cx="281.92" cy="91.25" r="0.21" fill="#40408a" opacity="0.29"/>
<circle cx="277.66" cy="96.10" r="0.27" fill="#40408a" opacity="0.56"/>
<circle cx="276.13" cy="90.32" r="0.21" fill="#40408a" opacity="0.57"/>
<circle cx="277.56" cy="82.45" r="0.26" fill="#40408a" opacity="0.26"/>
<circle cx="270.31" cy="82.05" r="0.57" fill="#30307a" opacity="0.71"/>
<circle cx="300.60" cy="86.80" r="12.90" fill="url(#gLa)"/>
<circle cx="305.67" cy="95.37" r="0.36" fill="#40408a" opacity="0.47"/>
<circle cx="302.86" cy="97.24" r="0.40" fill="#40408a" opacity="0.48"/>
<circle cx="294.77" cy="86.61" r="0.20" fill="#40408a" opacity="0.42"/>
<circle cx="297.89" cy="85.19" r="0.40" fill="#40408a" opacity="0.35"/>
<circle cx="300.87" cy="89.25" r="0.45" fill="#40408a" opacity="0.58"/>
<circle cx="307.26" cy="80.14" r="0.21" fill="#40408a" opacity="0.40"/>
<circle cx="296.52" cy="86.86" r="0.44" fill="#40408a" opacity="0.42"/>
<circle cx="306.71" cy="95.76" r="0.23" fill="#40408a" opacity="0.67"/>
<circle cx="292.07" cy="89.39" r="0.29" fill="#40408a" opacity="0.47"/>
<circle cx="301.49" cy="88.93" r="0.42" fill="#40408a" opacity="0.36"/>
<circle cx="301.64" cy="81.42" r="0.44" fill="#40408a" opacity="0.65"/>
<circle cx="300.92" cy="76.33" r="0.35" fill="#40408a" opacity="0.58"/>
<circle cx="306.55" cy="92.56" r="0.41" fill="#40408a" opacity="0.34"/>
<circle cx="310.61" cy="81.55" r="0.30" fill="#40408a" opacity="0.41"/>
<circle cx="293.49" cy="89.04" r="0.45" fill="#40408a" opacity="0.42"/>
<circle cx="303.90" cy="87.36" r="0.86" fill="#30307a" opacity="0.85"/>
<circle cx="292.91" cy="86.99" r="0.78" fill="#30307a" opacity="0.75"/>
<circle cx="302.10" cy="95.22" r="0.78" fill="#30307a" opacity="0.70"/>
<circle cx="302.51" cy="90.90" r="0.67" fill="#30307a" opacity="0.82"/>
<circle cx="295.77" cy="93.76" r="0.65" fill="#30307a" opacity="0.49"/>
<circle cx="220.40" cy="115.00" r="12.90" fill="url(#gLa)"/>
<circle cx="224.74" cy="113.83" r="0.21" fill="#40408a" opacity="0.70"/>
<circle cx="222.07" cy="118.82" r="0.36" fill="#40408a" opacity="0.41"/>
<circle cx="224.84" cy="111.31" r="0.44" fill="#40408a" opacity="0.39"/>
<circle cx="211.08" cy="108.12" r="0.37" fill="#40408a" opacity="0.67"/>
<circle cx="219.71" cy="112.45" r="0.42" fill="#40408a" opacity="0.52"/>
<circle cx="218.45" cy="119.86" r="0.41" fill="#40408a" opacity="0.51"/>
<circle cx="230.16" cy="110.99" r="0.44" fill="#40408a" opacity="0.50"/>
<circle cx="217.41" cy="106.10" r="0.26" fill="#40408a" opacity="0.68"/>
<circle cx="216.34" cy="124.80" r="0.44" fill="#40408a" opacity="0.54"/>
<circle cx="227.23" cy="123.49" r="0.37" fill="#40408a" opacity="0.33"/>
<circle cx="228.74" cy="117.66" r="0.21" fill="#40408a" opacity="0.67"/>
<circle cx="211.78" cy="114.66" r="0.30" fill="#40408a" opacity="0.55"/>
<circle cx="226.16" cy="111.67" r="0.29" fill="#40408a" opacity="0.51"/>
<circle cx="217.69" cy="123.85" r="0.34" fill="#40408a" opacity="0.45"/>
<circle cx="216.36" cy="107.28" r="0.22" fill="#40408a" opacity="0.70"/>
<circle cx="215.54" cy="121.21" r="0.30" fill="#40408a" opacity="0.67"/>
<circle cx="228.60" cy="112.46" r="0.30" fill="#40408a" opacity="0.29"/>
<circle cx="224.33" cy="111.97" r="0.34" fill="#40408a" opacity="0.41"/>
<circle cx="217.01" cy="121.32" r="0.25" fill="#40408a" opacity="0.27"/>
<circle cx="209.96" cy="112.64" r="0.36" fill="#40408a" opacity="0.34"/>
<circle cx="219.53" cy="112.65" r="0.71" fill="#30307a" opacity="0.78"/>
<circle cx="226.94" cy="111.46" r="0.92" fill="#30307a" opacity="0.65"/>
<circle cx="247.30" cy="115.00" r="12.90" fill="url(#gLa)"/>
<circle cx="257.71" cy="109.69" r="0.42" fill="#40408a" opacity="0.29"/>
<circle cx="240.76" cy="110.73" r="0.33" fill="#40408a" opacity="0.31"/>
<circle cx="250.15" cy="122.47" r="0.26" fill="#40408a" opacity="0.45"/>
<circle cx="250.77" cy="115.54" r="0.38" fill="#40408a" opacity="0.44"/>
<circle cx="237.05" cy="114.18" r="0.29" fill="#40408a" opacity="0.28"/>
<circle cx="249.20" cy="105.99" r="0.36" fill="#40408a" opacity="0.53"/>
<circle cx="254.40" cy="113.68" r="0.39" fill="#40408a" opacity="0.42"/>
<circle cx="238.53" cy="110.74" r="0.28" fill="#40408a" opacity="0.29"/>
<circle cx="237.27" cy="116.65" r="0.35" fill="#40408a" opacity="0.45"/>
<circle cx="244.10" cy="111.01" r="0.24" fill="#40408a" opacity="0.40"/>
<circle cx="249.43" cy="110.14" r="0.23" fill="#40408a" opacity="0.29"/>
<circle cx="253.41" cy="116.53" r="0.34" fill="#40408a" opacity="0.62"/>
<circle cx="243.75" cy="121.37" r="0.27" fill="#40408a" opacity="0.39"/>
<circle cx="248.83" cy="106.24" r="0.26" fill="#40408a" opacity="0.30"/>
<circle cx="249.43" cy="105.14" r="0.41" fill="#40408a" opacity="0.36"/>
<circle cx="236.27" cy="111.76" r="0.35" fill="#40408a" opacity="0.68"/>
<circle cx="253.18" cy="125.28" r="0.21" fill="#40408a" opacity="0.44"/>
<circle cx="257.98" cy="116.58" r="0.37" fill="#40408a" opacity="0.69"/>
<circle cx="251.26" cy="104.00" r="0.33" fill="#40408a" opacity="0.69"/>
<circle cx="247.26" cy="107.94" r="0.44" fill="#40408a" opacity="0.42"/>
<circle cx="248.45" cy="118.10" r="0.32" fill="#40408a" opacity="0.34"/>
<circle cx="257.99" cy="110.26" r="0.25" fill="#40408a" opacity="0.30"/>
<circle cx="242.44" cy="114.11" r="0.34" fill="#40408a" opacity="0.62"/>
<circle cx="247.15" cy="122.79" r="0.43" fill="#40408a" opacity="0.45"/>
<circle cx="241.06" cy="124.46" r="0.40" fill="#40408a" opacity="0.65"/>
<circle cx="244.61" cy="108.49" r="0.85" fill="#30307a" opacity="0.78"/>
<circle cx="243.87" cy="110.89" r="0.65" fill="#30307a" opacity="0.61"/>
<circle cx="248.41" cy="106.89" r="0.77" fill="#30307a" opacity="0.78"/>
<circle cx="274.00" cy="115.00" r="12.90" fill="url(#gLa)"/>
<circle cx="271.42" cy="104.31" r="0.25" fill="#40408a" opacity="0.70"/>
<circle cx="277.38" cy="124.23" r="0.22" fill="#40408a" opacity="0.59"/>
<circle cx="279.86" cy="123.21" r="0.38" fill="#40408a" opacity="0.59"/>
<circle cx="263.59" cy="119.02" r="0.45" fill="#40408a" opacity="0.30"/>
<circle cx="262.32" cy="113.76" r="0.38" fill="#40408a" opacity="0.45"/>
<circle cx="270.06" cy="126.03" r="0.22" fill="#40408a" opacity="0.59"/>
<circle cx="276.63" cy="111.03" r="0.28" fill="#40408a" opacity="0.39"/>
<circle cx="266.98" cy="113.10" r="0.42" fill="#40408a" opacity="0.67"/>
<circle cx="269.42" cy="125.38" r="0.22" fill="#40408a" opacity="0.29"/>
<circle cx="268.55" cy="105.76" r="0.40" fill="#40408a" opacity="0.70"/>
<circle cx="277.94" cy="110.22" r="0.39" fill="#40408a" opacity="0.67"/>
<circle cx="281.02" cy="119.68" r="0.24" fill="#40408a" opacity="0.31"/>
<circle cx="264.26" cy="116.26" r="0.44" fill="#40408a" opacity="0.31"/>
<circle cx="262.03" cy="114.59" r="0.39" fill="#40408a" opacity="0.49"/>
<circle cx="274.44" cy="124.52" r="0.27" fill="#40408a" opacity="0.54"/>
<circle cx="269.54" cy="108.97" r="0.40" fill="#40408a" opacity="0.43"/>
<circle cx="263.27" cy="117.13" r="0.26" fill="#40408a" opacity="0.33"/>
<circle cx="266.94" cy="111.44" r="0.42" fill="#40408a" opacity="0.36"/>
<circle cx="272.01" cy="117.09" r="0.31" fill="#40408a" opacity="0.39"/>
<circle cx="264.05" cy="118.32" r="0.21" fill="#40408a" opacity="0.70"/>
<circle cx="271.41" cy="104.51" r="0.33" fill="#40408a" opacity="0.51"/>
<circle cx="267.64" cy="119.06" r="0.26" fill="#40408a" opacity="0.39"/>
<circle cx="272.11" cy="121.69" r="0.43" fill="#40408a" opacity="0.61"/>
<circle cx="273.01" cy="113.78" r="0.27" fill="#40408a" opacity="0.49"/>
<circle cx="271.24" cy="107.74" r="0.36" fill="#40408a" opacity="0.66"/>
<circle cx="273.26" cy="121.74" r="0.88" fill="#30307a" opacity="0.58"/>
<circle cx="272.76" cy="108.20" r="0.51" fill="#30307a" opacity="0.64"/>
<circle cx="282.84" cy="119.03" r="0.92" fill="#30307a" opacity="0.66"/>
<circle cx="300.60" cy="115.00" r="12.90" fill="url(#gLa)"/>
<circle cx="292.33" cy="123.07" r="0.41" fill="#40408a" opacity="0.35"/>
<circle cx="307.23" cy="108.09" r="0.21" fill="#40408a" opacity="0.68"/>
<circle cx="300.36" cy="121.63" r="0.31" fill="#40408a" opacity="0.51"/>
<circle cx="307.66" cy="122.00" r="0.41" fill="#40408a" opacity="0.48"/>
<circle cx="303.22" cy="105.88" r="0.41" fill="#40408a" opacity="0.33"/>
<circle cx="295.41" cy="121.38" r="0.23" fill="#40408a" opacity="0.69"/>
<circle cx="298.13" cy="112.16" r="0.35" fill="#40408a" opacity="0.44"/>
<circle cx="302.39" cy="119.47" r="0.32" fill="#40408a" opacity="0.28"/>
<text x="372.30" y="9.30" font-size="11.5" text-anchor="start" font-weight="bold" fill="#000">b</text>
<line x1="418.00" y1="20.80" x2="418.00" y2="130.10" stroke="#222222" stroke-width="0.8"/>
<line x1="418.00" y1="130.10" x2="582.80" y2="130.10" stroke="#222222" stroke-width="0.8"/>
<line x1="414.60" y1="130.10" x2="418.00" y2="130.10" stroke="#222222" stroke-width="0.8"/>
<text x="410.60" y="132.55" font-size="6.8" text-anchor="end" fill="#1c1c1c">0</text>
<line x1="414.60" y1="102.77" x2="418.00" y2="102.77" stroke="#222222" stroke-width="0.8"/>
<text x="410.60" y="105.22" font-size="6.8" text-anchor="end" fill="#1c1c1c">5</text>
<line x1="414.60" y1="75.45" x2="418.00" y2="75.45" stroke="#222222" stroke-width="0.8"/>
<text x="410.60" y="77.90" font-size="6.8" text-anchor="end" fill="#1c1c1c">10</text>
<line x1="414.60" y1="48.12" x2="418.00" y2="48.12" stroke="#222222" stroke-width="0.8"/>
<text x="410.60" y="50.57" font-size="6.8" text-anchor="end" fill="#1c1c1c">15</text>
<line x1="414.60" y1="20.80" x2="418.00" y2="20.80" stroke="#222222" stroke-width="0.8"/>
<text x="410.60" y="23.25" font-size="6.8" text-anchor="end" fill="#1c1c1c">20</text>
<line x1="444.40" y1="130.10" x2="444.40" y2="134.60" stroke="#222222" stroke-width="0.8"/>
<text x="444.40" y="144.80" font-size="8.8" text-anchor="middle" fill="#1c1c1c">CoV-2</text>
<line x1="500.50" y1="130.10" x2="500.50" y2="134.60" stroke="#222222" stroke-width="0.8"/>
<text x="500.50" y="144.80" font-size="8.8" text-anchor="middle" fill="#1c1c1c">HIV</text>
<line x1="557.30" y1="130.10" x2="557.30" y2="134.60" stroke="#222222" stroke-width="0.8"/>
<text x="557.30" y="144.80" font-size="8.8" text-anchor="middle" fill="#1c1c1c">Ebola</text>
<text transform="translate(385.3,70) rotate(-90)" font-size="8.5" text-anchor="middle" fill="#111" textLength="114.5" lengthAdjust="spacingAndGlyphs">Peptide-specific IFNγ ELISPOT</text>
<text transform="translate(395.3,69.3) rotate(-90)" font-size="8.5" text-anchor="middle" fill="#111" textLength="66.5" lengthAdjust="spacingAndGlyphs">SFUs fold increase</text>
<line x1="429.40" y1="38.50" x2="444.50" y2="38.50" stroke="#555" stroke-width="0.7"/>
<line x1="429.40" y1="38.50" x2="429.40" y2="114.90" stroke="#555" stroke-width="0.7"/>
<line x1="444.50" y1="38.50" x2="444.50" y2="86.60" stroke="#555" stroke-width="0.7"/>
<line x1="444.40" y1="16.50" x2="459.60" y2="16.50" stroke="#555" stroke-width="0.7"/>
<line x1="444.40" y1="16.50" x2="444.40" y2="23.40" stroke="#555" stroke-width="0.7"/>
<line x1="459.60" y1="16.50" x2="459.60" y2="110.70" stroke="#555" stroke-width="0.7"/>
<line x1="542.10" y1="16.70" x2="572.50" y2="16.70" stroke="#555" stroke-width="0.7"/>
<line x1="542.10" y1="16.70" x2="542.10" y2="48.80" stroke="#555" stroke-width="0.7"/>
<line x1="572.50" y1="16.70" x2="572.50" y2="22.50" stroke="#555" stroke-width="0.7"/>
<line x1="557.50" y1="38.70" x2="572.50" y2="38.70" stroke="#555" stroke-width="0.7"/>
<line x1="557.50" y1="38.70" x2="557.50" y2="58.30" stroke="#555" stroke-width="0.7"/>
<line x1="572.50" y1="38.70" x2="572.50" y2="119.00" stroke="#555" stroke-width="0.7"/>
<polygon points="446.10,9.95 446.79,11.35 448.33,11.57 447.22,12.66 447.48,14.20 446.10,13.48 444.72,14.20 444.98,12.66 443.87,11.57 445.41,11.35" fill="#111"/>
<text x="451.20" y="15.20" font-size="7.3" text-anchor="start" fill="#1c1c1c" textLength="36.4" lengthAdjust="spacingAndGlyphs"><tspan font-style="italic">P</tspan> = 0.0380</text>
<rect x="436.5" y="29.3" width="37.8" height="7.6" fill="#fff"/>
<polygon points="427.15,30.75 427.84,32.15 429.38,32.37 428.27,33.46 428.53,35.00 427.15,34.27 425.77,35.00 426.03,33.46 424.92,32.37 426.46,32.15" fill="#111"/>
<polygon points="432.45,30.75 433.14,32.15 434.68,32.37 433.57,33.46 433.83,35.00 432.45,34.27 431.07,35.00 431.33,33.46 430.22,32.37 431.76,32.15" fill="#111"/>
<text x="436.90" y="35.70" font-size="7.3" text-anchor="start" fill="#1c1c1c" textLength="36.7" lengthAdjust="spacingAndGlyphs"><tspan font-style="italic">P</tspan> = 0.0095</text>
<polygon points="543.10,9.65 543.79,11.05 545.33,11.27 544.22,12.36 544.48,13.90 543.10,13.18 541.72,13.90 541.98,12.36 540.87,11.27 542.41,11.05" fill="#111"/>
<text x="548.90" y="14.60" font-size="7.3" text-anchor="start" fill="#1c1c1c" textLength="34.0" lengthAdjust="spacingAndGlyphs"><tspan font-style="italic">P</tspan> = 0.0163</text>
<polygon points="548.40,30.95 549.09,32.35 550.63,32.57 549.52,33.66 549.78,35.20 548.40,34.47 547.02,35.20 547.28,33.66 546.17,32.57 547.71,32.35" fill="#111"/>
<polygon points="553.40,30.95 554.09,32.35 555.63,32.57 554.52,33.66 554.78,35.20 553.40,34.47 552.02,35.20 552.28,33.66 551.17,32.57 552.71,32.35" fill="#111"/>
<text x="560.60" y="35.80" font-size="7.3" text-anchor="start" fill="#1c1c1c" textLength="35.8" lengthAdjust="spacingAndGlyphs"><tspan font-style="italic">P</tspan> = 0.0055</text>
<rect x="424.80" y="125.45" width="8.60" height="4.65" fill="#fff" stroke="#111111" stroke-width="0.9"/>
<rect x="440.10" y="96.22" width="8.60" height="33.88" fill="#fff" stroke="#f4005f" stroke-width="0.75"/>
<rect x="455.40" y="125.02" width="8.60" height="5.08" fill="#fff" stroke="#17817f" stroke-width="0.9"/>
<line x1="459.70" y1="125.02" x2="459.70" y2="123.27" stroke="#17817f" stroke-width="0.8"/>
<circle cx="428.90" cy="119.90" r="2.6" fill="#111111"/>
<circle cx="426.60" cy="128.20" r="2.6" fill="#111111"/>
<circle cx="429.30" cy="126.40" r="2.6" fill="#111111"/>
<circle cx="431.70" cy="125.70" r="2.6" fill="#111111"/>
<circle cx="442.40" cy="93.30" r="2.6" fill="#f4005f"/>
<circle cx="444.90" cy="94.90" r="2.6" fill="#f4005f"/>
<circle cx="447.30" cy="96.60" r="2.6" fill="#f4005f"/>
<circle cx="441.90" cy="99.60" r="2.6" fill="#f4005f"/>
<circle cx="459.80" cy="119.80" r="2.6" fill="#17817f"/>
<circle cx="459.80" cy="129.60" r="2.6" fill="#17817f"/>
<rect x="480.90" y="127.91" width="8.60" height="2.19" fill="#fff" stroke="#111111" stroke-width="0.9"/>
<rect x="496.20" y="125.73" width="8.60" height="4.37" fill="#fff" stroke="#f4005f" stroke-width="0.75"/>
<rect x="511.50" y="124.74" width="8.60" height="5.36" fill="#fff" stroke="#17817f" stroke-width="0.9"/>
<circle cx="483.00" cy="128.20" r="2.6" fill="#111111"/>
<circle cx="485.60" cy="127.00" r="2.6" fill="#111111"/>
<circle cx="488.40" cy="127.30" r="2.6" fill="#111111"/>
<circle cx="486.00" cy="128.50" r="2.6" fill="#111111"/>
<circle cx="503.10" cy="120.50" r="2.6" fill="#f4005f"/>
<circle cx="501.50" cy="124.30" r="2.6" fill="#f4005f"/>
<circle cx="498.30" cy="126.80" r="2.6" fill="#f4005f"/>
<circle cx="503.50" cy="126.80" r="2.6" fill="#f4005f"/>
<circle cx="514.00" cy="124.80" r="2.6" fill="#17817f"/>
<circle cx="518.80" cy="124.80" r="2.6" fill="#17817f"/>
<rect x="537.70" y="92.39" width="8.60" height="37.71" fill="#fff" stroke="#111111" stroke-width="0.9"/>
<line x1="542.00" y1="64.52" x2="542.00" y2="119.72" stroke="#111111" stroke-width="0.8"/>
<line x1="540.25" y1="64.52" x2="543.75" y2="64.52" stroke="#111111" stroke-width="0.8"/>
<line x1="540.25" y1="119.72" x2="543.75" y2="119.72" stroke="#111111" stroke-width="0.8"/>
<rect x="553.00" y="84.74" width="8.60" height="45.36" fill="#fff" stroke="#f4005f" stroke-width="0.75"/>
<line x1="557.30" y1="64.52" x2="557.30" y2="84.74" stroke="#f4005f" stroke-width="0.8"/>
<line x1="555.55" y1="64.52" x2="559.05" y2="64.52" stroke="#f4005f" stroke-width="0.8"/>
<rect x="568.30" y="125.18" width="8.60" height="4.92" fill="#fff" stroke="#17817f" stroke-width="0.9"/>
<circle cx="542.30" cy="51.40" r="2.6" fill="#111111"/>
<circle cx="539.80" cy="99.70" r="2.6" fill="#111111"/>
<circle cx="544.80" cy="103.70" r="2.6" fill="#111111"/>
<circle cx="542.30" cy="111.50" r="2.6" fill="#111111"/>
<circle cx="557.30" cy="65.40" r="2.6" fill="#f4005f"/>
<circle cx="557.30" cy="83.50" r="2.6" fill="#f4005f"/>
<circle cx="557.30" cy="103.70" r="2.6" fill="#f4005f"/>
<circle cx="570.30" cy="127.10" r="2.6" fill="#17817f"/>
<circle cx="575.00" cy="123.00" r="2.6" fill="#17817f"/>
<circle cx="585.00" cy="60.10" r="2.4" fill="#111111"/>
<text x="591.60" y="63.20" font-size="8.6" text-anchor="start" fill="#1c1c1c">Bolus vaccine</text>
<circle cx="585.00" cy="71.00" r="2.4" fill="#f4005f"/>
<text x="591.60" y="74.10" font-size="8.6" text-anchor="start" fill="#1c1c1c">DoriVac</text>
<circle cx="585.00" cy="81.20" r="2.4" fill="#17817f"/>
<text x="591.60" y="84.30" font-size="8.6" text-anchor="start" fill="#1c1c1c">Untreated</text>
<text x="0.30" y="167.40" font-size="12.6" text-anchor="start" font-weight="bold" fill="#000">c</text>
<line x1="4.35" y1="174.50" x2="4.35" y2="276.00" stroke="#5a6b8c" stroke-width="0.9"/>
<path d="M4.35,171.8 L2.6,176 L6.1,176 Z" fill="#5a6b8c"/>
<text transform="translate(7.3,295.5) rotate(-90)" font-size="8.2" text-anchor="middle" fill="#111">CD4 PE</text>
<rect x="31.1" y="170.50" width="68.0" height="68.90" fill="none" stroke="#9a9a9a" stroke-width="0.6"/>
<line x1="31.10" y1="170.50" x2="31.10" y2="239.40" stroke="#666" stroke-width="0.7"/>
<line x1="29.60" y1="170.50" x2="31.10" y2="170.50" stroke="#444" stroke-width="0.6"/>
<line x1="29.60" y1="181.70" x2="31.10" y2="181.70" stroke="#444" stroke-width="0.6"/>
<line x1="29.60" y1="193.50" x2="31.10" y2="193.50" stroke="#444" stroke-width="0.6"/>
<line x1="29.60" y1="205.20" x2="31.10" y2="205.20" stroke="#444" stroke-width="0.6"/>
<line x1="29.60" y1="225.00" x2="31.10" y2="225.00" stroke="#444" stroke-width="0.6"/>
<rect x="30.0" y="223.20" width="1.6" height="3.6" fill="#333" opacity="0.7"/>
<line x1="30.30" y1="173.86" x2="31.10" y2="173.86" stroke="#777" stroke-width="0.4"/>
<line x1="30.30" y1="176.10" x2="31.10" y2="176.10" stroke="#777" stroke-width="0.4"/>
<line x1="30.30" y1="177.78" x2="31.10" y2="177.78" stroke="#777" stroke-width="0.4"/>
<line x1="30.30" y1="179.24" x2="31.10" y2="179.24" stroke="#777" stroke-width="0.4"/>
<line x1="30.30" y1="180.36" x2="31.10" y2="180.36" stroke="#777" stroke-width="0.4"/>
<line x1="30.30" y1="185.24" x2="31.10" y2="185.24" stroke="#777" stroke-width="0.4"/>
<line x1="30.30" y1="187.60" x2="31.10" y2="187.60" stroke="#777" stroke-width="0.4"/>
<line x1="30.30" y1="189.37" x2="31.10" y2="189.37" stroke="#777" stroke-width="0.4"/>
<line x1="30.30" y1="190.90" x2="31.10" y2="190.90" stroke="#777" stroke-width="0.4"/>
<line x1="30.30" y1="192.08" x2="31.10" y2="192.08" stroke="#777" stroke-width="0.4"/>
<line x1="30.30" y1="197.01" x2="31.10" y2="197.01" stroke="#777" stroke-width="0.4"/>
<line x1="30.30" y1="199.35" x2="31.10" y2="199.35" stroke="#777" stroke-width="0.4"/>
<line x1="30.30" y1="201.10" x2="31.10" y2="201.10" stroke="#777" stroke-width="0.4"/>
<line x1="30.30" y1="202.63" x2="31.10" y2="202.63" stroke="#777" stroke-width="0.4"/>
<line x1="30.30" y1="203.80" x2="31.10" y2="203.80" stroke="#777" stroke-width="0.4"/>
<line x1="30.30" y1="211.14" x2="31.10" y2="211.14" stroke="#777" stroke-width="0.4"/>
<line x1="30.30" y1="215.10" x2="31.10" y2="215.10" stroke="#777" stroke-width="0.4"/>
<line x1="30.30" y1="218.07" x2="31.10" y2="218.07" stroke="#777" stroke-width="0.4"/>
<line x1="30.30" y1="220.64" x2="31.10" y2="220.64" stroke="#777" stroke-width="0.4"/>
<line x1="30.30" y1="222.62" x2="31.10" y2="222.62" stroke="#777" stroke-width="0.4"/>
<line x1="31.10" y1="238.90" x2="99.10" y2="238.90" stroke="#666" stroke-width="0.6"/>
<line x1="31.60" y1="238.90" x2="31.60" y2="241.00" stroke="#999" stroke-width="0.4"/>
<line x1="33.65" y1="238.90" x2="33.65" y2="241.00" stroke="#999" stroke-width="0.4"/>
<line x1="35.70" y1="238.90" x2="35.70" y2="241.00" stroke="#999" stroke-width="0.4"/>
<line x1="37.75" y1="238.90" x2="37.75" y2="241.00" stroke="#999" stroke-width="0.4"/>
<line x1="39.80" y1="238.90" x2="39.80" y2="241.00" stroke="#999" stroke-width="0.4"/>
<line x1="41.85" y1="238.90" x2="41.85" y2="241.00" stroke="#999" stroke-width="0.4"/>
<line x1="43.90" y1="238.90" x2="43.90" y2="241.00" stroke="#999" stroke-width="0.4"/>
<line x1="45.95" y1="238.90" x2="45.95" y2="241.00" stroke="#999" stroke-width="0.4"/>
<line x1="48.00" y1="238.90" x2="48.00" y2="241.00" stroke="#999" stroke-width="0.4"/>
<line x1="50.05" y1="238.90" x2="50.05" y2="241.00" stroke="#999" stroke-width="0.4"/>
<line x1="52.10" y1="238.90" x2="52.10" y2="241.00" stroke="#999" stroke-width="0.4"/>
<line x1="54.15" y1="238.90" x2="54.15" y2="241.00" stroke="#999" stroke-width="0.4"/>
<line x1="56.20" y1="238.90" x2="56.20" y2="241.00" stroke="#999" stroke-width="0.4"/>
<line x1="58.25" y1="238.90" x2="58.25" y2="241.00" stroke="#999" stroke-width="0.4"/>
<line x1="60.30" y1="238.90" x2="60.30" y2="241.00" stroke="#999" stroke-width="0.4"/>
<line x1="62.35" y1="238.90" x2="62.35" y2="241.00" stroke="#999" stroke-width="0.4"/>
<line x1="64.40" y1="238.90" x2="64.40" y2="241.00" stroke="#999" stroke-width="0.4"/>
<line x1="66.45" y1="238.90" x2="66.45" y2="241.00" stroke="#999" stroke-width="0.4"/>
<line x1="68.50" y1="238.90" x2="68.50" y2="241.00" stroke="#999" stroke-width="0.4"/>
<line x1="70.55" y1="238.90" x2="70.55" y2="241.00" stroke="#999" stroke-width="0.4"/>
<line x1="72.60" y1="238.90" x2="72.60" y2="241.00" stroke="#999" stroke-width="0.4"/>
<line x1="74.65" y1="238.90" x2="74.65" y2="241.00" stroke="#999" stroke-width="0.4"/>
<line x1="76.70" y1="238.90" x2="76.70" y2="241.00" stroke="#999" stroke-width="0.4"/>
<line x1="78.75" y1="238.90" x2="78.75" y2="241.00" stroke="#999" stroke-width="0.4"/>
<line x1="80.80" y1="238.90" x2="80.80" y2="241.00" stroke="#999" stroke-width="0.4"/>
<line x1="82.85" y1="238.90" x2="82.85" y2="241.00" stroke="#999" stroke-width="0.4"/>
<line x1="84.90" y1="238.90" x2="84.90" y2="241.00" stroke="#999" stroke-width="0.4"/>
<line x1="86.95" y1="238.90" x2="86.95" y2="241.00" stroke="#999" stroke-width="0.4"/>
<line x1="89.00" y1="238.90" x2="89.00" y2="241.00" stroke="#999" stroke-width="0.4"/>
<line x1="91.05" y1="238.90" x2="91.05" y2="241.00" stroke="#999" stroke-width="0.4"/>
<line x1="93.10" y1="238.90" x2="93.10" y2="241.00" stroke="#999" stroke-width="0.4"/>
<line x1="95.15" y1="238.90" x2="95.15" y2="241.00" stroke="#999" stroke-width="0.4"/>
<line x1="97.20" y1="238.90" x2="97.20" y2="241.00" stroke="#999" stroke-width="0.4"/>
<line x1="44.20" y1="238.90" x2="44.20" y2="241.30" stroke="#444" stroke-width="0.7"/>
<line x1="60.00" y1="238.90" x2="60.00" y2="241.30" stroke="#444" stroke-width="0.7"/>
<line x1="72.20" y1="238.90" x2="72.20" y2="241.30" stroke="#444" stroke-width="0.7"/>
<line x1="84.40" y1="238.90" x2="84.40" y2="241.30" stroke="#444" stroke-width="0.7"/>
<line x1="96.40" y1="238.90" x2="96.40" y2="241.30" stroke="#444" stroke-width="0.7"/>
<rect x="41.5" y="239.00" width="4.5" height="1.8" fill="#333" opacity="0.55"/>
<circle cx="51.85" cy="185.10" r="0.4" fill="#2244ff" opacity="0.55"/>
<circle cx="45.58" cy="190.15" r="0.4" fill="#2244ff" opacity="0.55"/>
<circle cx="49.49" cy="193.85" r="0.4" fill="#2244ff" opacity="0.55"/>
<circle cx="55.74" cy="195.20" r="0.4" fill="#2244ff" opacity="0.55"/>
<circle cx="60.15" cy="192.12" r="0.4" fill="#2244ff" opacity="0.55"/>
<circle cx="47.34" cy="194.82" r="0.4" fill="#2244ff" opacity="0.55"/>
<circle cx="42.80" cy="191.07" r="0.4" fill="#2244ff" opacity="0.55"/>
<circle cx="58.58" cy="191.72" r="0.4" fill="#2244ff" opacity="0.55"/>
<circle cx="46.28" cy="191.97" r="0.4" fill="#2244ff" opacity="0.55"/>
<circle cx="46.25" cy="191.92" r="0.4" fill="#2244ff" opacity="0.55"/>
<circle cx="49.46" cy="191.68" r="0.4" fill="#2244ff" opacity="0.55"/>
<circle cx="48.50" cy="191.68" r="0.4" fill="#2244ff" opacity="0.55"/>
<circle cx="43.22" cy="192.44" r="0.4" fill="#2244ff" opacity="0.55"/>
<circle cx="45.12" cy="190.23" r="0.4" fill="#2244ff" opacity="0.55"/>
<circle cx="55.29" cy="192.35" r="0.4" fill="#2244ff" opacity="0.55"/>
<circle cx="54.30" cy="191.78" r="0.4" fill="#2244ff" opacity="0.55"/>
<circle cx="53.49" cy="192.62" r="0.4" fill="#2244ff" opacity="0.55"/>
<circle cx="51.35" cy="191.32" r="0.4" fill="#2244ff" opacity="0.55"/>
<circle cx="48.35" cy="189.67" r="0.4" fill="#2244ff" opacity="0.55"/>
<circle cx="46.85" cy="194.95" r="0.4" fill="#2244ff" opacity="0.55"/>
<circle cx="52.11" cy="193.61" r="0.4" fill="#2244ff" opacity="0.55"/>
<circle cx="46.90" cy="192.58" r="0.4" fill="#2244ff" opacity="0.55"/>
<circle cx="52.77" cy="190.14" r="0.4" fill="#2244ff" opacity="0.55"/>
<circle cx="42.67" cy="191.39" r="0.4" fill="#2244ff" opacity="0.55"/>
<circle cx="50.74" cy="187.74" r="0.4" fill="#2244ff" opacity="0.55"/>
<circle cx="60.95" cy="191.63" r="0.4" fill="#2244ff" opacity="0.55"/>
<circle cx="56.39" cy="189.40" r="0.4" fill="#2244ff" opacity="0.55"/>
<circle cx="56.43" cy="193.33" r="0.4" fill="#2244ff" opacity="0.55"/>
<circle cx="58.86" cy="196.75" r="0.4" fill="#2244ff" opacity="0.55"/>
<circle cx="52.78" cy="192.51" r="0.4" fill="#2244ff" opacity="0.55"/>
<circle cx="46.66" cy="191.24" r="0.4" fill="#2244ff" opacity="0.55"/>
<circle cx="48.31" cy="191.05" r="0.4" fill="#2244ff" opacity="0.55"/>
<circle cx="45.43" cy="195.39" r="0.4" fill="#2244ff" opacity="0.55"/>
<circle cx="52.07" cy="192.79" r="0.4" fill="#2244ff" opacity="0.55"/>
<circle cx="41.60" cy="185.41" r="0.4" fill="#2244ff" opacity="0.55"/>
<circle cx="54.66" cy="193.25" r="0.4" fill="#2244ff" opacity="0.55"/>
<circle cx="50.07" cy="190.60" r="0.4" fill="#2244ff" opacity="0.55"/>
<circle cx="43.13" cy="196.93" r="0.4" fill="#2244ff" opacity="0.55"/>
<circle cx="48.60" cy="196.03" r="0.4" fill="#2244ff" opacity="0.55"/>
<circle cx="47.24" cy="190.41" r="0.4" fill="#2244ff" opacity="0.55"/>
<circle cx="50.97" cy="192.49" r="0.4" fill="#2244ff" opacity="0.55"/>
<circle cx="54.27" cy="187.96" r="0.4" fill="#2244ff" opacity="0.55"/>
<circle cx="48.82" cy="192.52" r="0.4" fill="#2244ff" opacity="0.55"/>
<circle cx="49.34" cy="187.81" r="0.4" fill="#2244ff" opacity="0.55"/>
<circle cx="46.25" cy="192.40" r="0.4" fill="#2244ff" opacity="0.55"/>
<circle cx="55.25" cy="191.52" r="0.4" fill="#2244ff" opacity="0.55"/>
<circle cx="50.00" cy="191.20" r="0.4" fill="#2244ff" opacity="0.55"/>
<circle cx="49.27" cy="196.08" r="0.4" fill="#2244ff" opacity="0.55"/>
<circle cx="44.90" cy="190.88" r="0.4" fill="#2244ff" opacity="0.55"/>
<circle cx="45.58" cy="191.20" r="0.4" fill="#2244ff" opacity="0.55"/>
<circle cx="51.53" cy="193.18" r="0.4" fill="#2244ff" opacity="0.55"/>
<circle cx="49.93" cy="190.64" r="0.4" fill="#2244ff" opacity="0.55"/>
<circle cx="58.66" cy="192.63" r="0.4" fill="#2244ff" opacity="0.55"/>
<circle cx="50.26" cy="195.33" r="0.4" fill="#2244ff" opacity="0.55"/>
<circle cx="50.49" cy="192.76" r="0.4" fill="#2244ff" opacity="0.55"/>
<circle cx="47.42" cy="191.03" r="0.4" fill="#2244ff" opacity="0.55"/>
<circle cx="48.19" cy="191.66" r="0.4" fill="#2244ff" opacity="0.55"/>
<circle cx="52.07" cy="192.29" r="0.4" fill="#2244ff" opacity="0.55"/>
<circle cx="43.93" cy="194.49" r="0.4" fill="#2244ff" opacity="0.55"/>
<circle cx="44.76" cy="192.64" r="0.4" fill="#2244ff" opacity="0.55"/>
<circle cx="56.47" cy="190.58" r="0.4" fill="#2244ff" opacity="0.55"/>
<circle cx="41.99" cy="190.39" r="0.4" fill="#2244ff" opacity="0.55"/>
<circle cx="39.80" cy="197.02" r="0.4" fill="#2244ff" opacity="0.55"/>
<circle cx="48.82" cy="188.78" r="0.4" fill="#2244ff" opacity="0.55"/>
<circle cx="48.84" cy="191.67" r="0.4" fill="#2244ff" opacity="0.55"/>
<circle cx="47.79" cy="185.71" r="0.4" fill="#2244ff" opacity="0.55"/>
<circle cx="48.84" cy="191.81" r="0.4" fill="#2244ff" opacity="0.55"/>
<circle cx="40.69" cy="193.09" r="0.4" fill="#2244ff" opacity="0.55"/>
<circle cx="39.13" cy="191.79" r="0.4" fill="#2244ff" opacity="0.55"/>
<circle cx="47.23" cy="190.30" r="0.4" fill="#2244ff" opacity="0.55"/>
<circle cx="42.85" cy="188.81" r="0.4" fill="#2244ff" opacity="0.55"/>
<circle cx="56.32" cy="196.11" r="0.4" fill="#2244ff" opacity="0.55"/>
<circle cx="50.10" cy="195.32" r="0.4" fill="#2244ff" opacity="0.55"/>
<circle cx="45.56" cy="195.01" r="0.4" fill="#2244ff" opacity="0.55"/>
<circle cx="52.30" cy="190.54" r="0.4" fill="#2244ff" opacity="0.55"/>
<circle cx="45.13" cy="185.78" r="0.4" fill="#2244ff" opacity="0.55"/>
<circle cx="52.89" cy="189.90" r="0.4" fill="#2244ff" opacity="0.55"/>
<circle cx="47.98" cy="194.46" r="0.4" fill="#2244ff" opacity="0.55"/>
<circle cx="46.37" cy="191.33" r="0.4" fill="#2244ff" opacity="0.55"/>
<circle cx="57.03" cy="189.56" r="0.4" fill="#2244ff" opacity="0.55"/>
<circle cx="54.40" cy="189.32" r="0.4" fill="#2244ff" opacity="0.55"/>
<circle cx="45.56" cy="188.53" r="0.4" fill="#2244ff" opacity="0.55"/>
<circle cx="52.29" cy="188.05" r="0.4" fill="#2244ff" opacity="0.55"/>
<circle cx="48.50" cy="193.80" r="0.4" fill="#2244ff" opacity="0.55"/>
<circle cx="49.40" cy="188.29" r="0.4" fill="#2244ff" opacity="0.55"/>
<circle cx="47.21" cy="195.54" r="0.4" fill="#2244ff" opacity="0.55"/>
<circle cx="45.09" cy="191.21" r="0.4" fill="#2244ff" opacity="0.55"/>
<circle cx="47.60" cy="189.30" r="0.4" fill="#2244ff" opacity="0.55"/>
<circle cx="54.21" cy="190.13" r="0.4" fill="#2244ff" opacity="0.55"/>
<circle cx="52.02" cy="192.61" r="0.4" fill="#2244ff" opacity="0.55"/>
<circle cx="45.45" cy="189.87" r="0.4" fill="#2244ff" opacity="0.55"/>
<circle cx="52.19" cy="190.81" r="0.4" fill="#2244ff" opacity="0.55"/>
<circle cx="53.80" cy="193.27" r="0.4" fill="#2244ff" opacity="0.55"/>
<circle cx="48.49" cy="192.80" r="0.4" fill="#2244ff" opacity="0.55"/>
<circle cx="52.72" cy="189.11" r="0.4" fill="#2244ff" opacity="0.55"/>
<circle cx="46.73" cy="188.96" r="0.4" fill="#2244ff" opacity="0.55"/>
<circle cx="55.14" cy="189.64" r="0.4" fill="#2244ff" opacity="0.55"/>
<circle cx="51.97" cy="191.26" r="0.4" fill="#2244ff" opacity="0.55"/>
<circle cx="50.64" cy="192.28" r="0.4" fill="#2244ff" opacity="0.55"/>
<circle cx="48.47" cy="190.72" r="0.4" fill="#2244ff" opacity="0.55"/>
<circle cx="59.52" cy="190.97" r="0.4" fill="#2244ff" opacity="0.55"/>
<circle cx="45.88" cy="190.49" r="0.4" fill="#2244ff" opacity="0.55"/>
<circle cx="45.87" cy="189.13" r="0.4" fill="#2244ff" opacity="0.55"/>
<circle cx="49.89" cy="193.61" r="0.4" fill="#2244ff" opacity="0.55"/>
<circle cx="57.10" cy="190.04" r="0.4" fill="#2244ff" opacity="0.55"/>
<circle cx="47.51" cy="196.41" r="0.4" fill="#2244ff" opacity="0.55"/>
<circle cx="49.70" cy="195.67" r="0.4" fill="#2244ff" opacity="0.55"/>
<circle cx="46.87" cy="191.06" r="0.4" fill="#2244ff" opacity="0.55"/>
<circle cx="49.27" cy="194.57" r="0.4" fill="#2244ff" opacity="0.55"/>
<circle cx="34.64" cy="194.26" r="0.4" fill="#2244ff" opacity="0.55"/>
<circle cx="57.55" cy="191.00" r="0.4" fill="#2244ff" opacity="0.55"/>
<circle cx="46.89" cy="192.12" r="0.4" fill="#2244ff" opacity="0.55"/>
<circle cx="41.29" cy="189.00" r="0.4" fill="#2244ff" opacity="0.55"/>
<circle cx="48.12" cy="192.62" r="0.4" fill="#2244ff" opacity="0.55"/>
<circle cx="45.90" cy="191.74" r="0.4" fill="#2244ff" opacity="0.55"/>
<circle cx="50.88" cy="192.70" r="0.4" fill="#2244ff" opacity="0.55"/>
<circle cx="51.65" cy="190.08" r="0.4" fill="#2244ff" opacity="0.55"/>
<circle cx="43.47" cy="192.04" r="0.4" fill="#2244ff" opacity="0.55"/>
<circle cx="52.57" cy="187.11" r="0.4" fill="#2244ff" opacity="0.55"/>
<circle cx="39.05" cy="189.29" r="0.4" fill="#2244ff" opacity="0.55"/>
<circle cx="43.02" cy="193.89" r="0.4" fill="#2244ff" opacity="0.55"/>
<circle cx="65.29" cy="194.75" r="0.4" fill="#2244ff" opacity="0.55"/>
<circle cx="54.64" cy="187.09" r="0.4" fill="#2244ff" opacity="0.55"/>
<circle cx="52.83" cy="197.09" r="0.4" fill="#2244ff" opacity="0.55"/>
<circle cx="41.17" cy="183.66" r="0.4" fill="#2244ff" opacity="0.55"/>
<circle cx="51.21" cy="191.62" r="0.4" fill="#2244ff" opacity="0.55"/>
<circle cx="54.64" cy="190.66" r="0.4" fill="#2244ff" opacity="0.55"/>
<circle cx="47.31" cy="192.13" r="0.4" fill="#2244ff" opacity="0.55"/>
<circle cx="50.47" cy="193.99" r="0.4" fill="#2244ff" opacity="0.55"/>
<circle cx="43.78" cy="188.74" r="0.4" fill="#2244ff" opacity="0.55"/>
<circle cx="56.03" cy="193.84" r="0.4" fill="#2244ff" opacity="0.55"/>
<circle cx="51.09" cy="189.44" r="0.4" fill="#2244ff" opacity="0.55"/>
<circle cx="40.28" cy="191.40" r="0.4" fill="#2244ff" opacity="0.55"/>
<circle cx="46.35" cy="188.79" r="0.4" fill="#2244ff" opacity="0.55"/>
<circle cx="51.48" cy="192.97" r="0.4" fill="#2244ff" opacity="0.55"/>
<circle cx="50.70" cy="192.48" r="0.4" fill="#2244ff" opacity="0.55"/>
<circle cx="53.42" cy="196.35" r="0.4" fill="#2244ff" opacity="0.55"/>
<circle cx="36.68" cy="198.35" r="0.4" fill="#2244ff" opacity="0.55"/>
<circle cx="57.66" cy="194.30" r="0.4" fill="#2244ff" opacity="0.55"/>
<circle cx="45.33" cy="187.62" r="0.4" fill="#2244ff" opacity="0.55"/>
<circle cx="42.26" cy="192.88" r="0.4" fill="#2244ff" opacity="0.55"/>
<circle cx="45.59" cy="195.93" r="0.4" fill="#2244ff" opacity="0.55"/>
<circle cx="52.76" cy="190.28" r="0.4" fill="#2244ff" opacity="0.55"/>
<circle cx="48.84" cy="187.49" r="0.4" fill="#2244ff" opacity="0.55"/>
<circle cx="50.84" cy="193.15" r="0.4" fill="#2244ff" opacity="0.55"/>
<circle cx="51.54" cy="190.03" r="0.4" fill="#2244ff" opacity="0.55"/>
<circle cx="41.28" cy="195.53" r="0.4" fill="#2244ff" opacity="0.55"/>
<circle cx="57.26" cy="192.78" r="0.4" fill="#2244ff" opacity="0.55"/>
<circle cx="48.45" cy="190.94" r="0.4" fill="#2244ff" opacity="0.55"/>
<circle cx="44.83" cy="193.94" r="0.4" fill="#2244ff" opacity="0.55"/>
<circle cx="50.58" cy="191.33" r="0.4" fill="#2244ff" opacity="0.55"/>
<circle cx="45.81" cy="187.33" r="0.4" fill="#2244ff" opacity="0.55"/>
<circle cx="50.99" cy="192.98" r="0.4" fill="#2244ff" opacity="0.55"/>
<circle cx="51.46" cy="187.49" r="0.4" fill="#2244ff" opacity="0.55"/>
<circle cx="47.48" cy="193.08" r="0.4" fill="#2244ff" opacity="0.55"/>
<circle cx="53.26" cy="191.53" r="0.4" fill="#2244ff" opacity="0.55"/>
<circle cx="49.02" cy="192.45" r="0.4" fill="#2244ff" opacity="0.55"/>
<circle cx="40.76" cy="188.70" r="0.4" fill="#2244ff" opacity="0.55"/>
<circle cx="58.27" cy="192.63" r="0.4" fill="#2244ff" opacity="0.55"/>
<circle cx="55.80" cy="186.26" r="0.4" fill="#2244ff" opacity="0.55"/>
<circle cx="47.05" cy="188.41" r="0.4" fill="#2244ff" opacity="0.55"/>
<circle cx="46.84" cy="196.02" r="0.4" fill="#2244ff" opacity="0.55"/>
<circle cx="49.46" cy="193.98" r="0.4" fill="#2244ff" opacity="0.55"/>
<circle cx="46.93" cy="190.84" r="0.4" fill="#2244ff" opacity="0.55"/>
<circle cx="54.01" cy="189.41" r="0.4" fill="#2244ff" opacity="0.55"/>
<circle cx="60.47" cy="194.10" r="0.4" fill="#2244ff" opacity="0.55"/>
<circle cx="45.91" cy="189.54" r="0.4" fill="#2244ff" opacity="0.55"/>
<circle cx="52.85" cy="188.53" r="0.4" fill="#2244ff" opacity="0.55"/>
<circle cx="53.02" cy="188.38" r="0.4" fill="#2244ff" opacity="0.55"/>
<circle cx="52.97" cy="193.69" r="0.4" fill="#2244ff" opacity="0.55"/>
<circle cx="44.68" cy="192.59" r="0.4" fill="#2244ff" opacity="0.55"/>
<circle cx="52.37" cy="195.31" r="0.4" fill="#2244ff" opacity="0.55"/>
<circle cx="51.61" cy="191.19" r="0.4" fill="#2244ff" opacity="0.55"/>
<circle cx="41.66" cy="194.75" r="0.4" fill="#2244ff" opacity="0.55"/>
<circle cx="51.24" cy="193.51" r="0.4" fill="#2244ff" opacity="0.55"/>
<circle cx="40.73" cy="194.05" r="0.4" fill="#2244ff" opacity="0.55"/>
<circle cx="50.28" cy="189.85" r="0.4" fill="#2244ff" opacity="0.55"/>
<circle cx="44.05" cy="189.67" r="0.4" fill="#2244ff" opacity="0.55"/>
<circle cx="49.61" cy="189.60" r="0.4" fill="#2244ff" opacity="0.55"/>
<circle cx="62.73" cy="192.29" r="0.4" fill="#2244ff" opacity="0.55"/>
<circle cx="45.59" cy="192.08" r="0.4" fill="#2244ff" opacity="0.55"/>
<circle cx="41.48" cy="190.37" r="0.4" fill="#2244ff" opacity="0.55"/>
<circle cx="59.41" cy="193.93" r="0.4" fill="#2244ff" opacity="0.55"/>
<circle cx="49.80" cy="191.21" r="0.4" fill="#2244ff" opacity="0.55"/>
<circle cx="46.23" cy="189.47" r="0.4" fill="#2244ff" opacity="0.55"/>
<circle cx="53.21" cy="187.52" r="0.4" fill="#2244ff" opacity="0.55"/>
<circle cx="41.70" cy="191.35" r="0.4" fill="#2244ff" opacity="0.55"/>
<circle cx="53.71" cy="193.10" r="0.4" fill="#2244ff" opacity="0.55"/>
<circle cx="61.00" cy="191.44" r="0.4" fill="#2244ff" opacity="0.55"/>
<circle cx="47.49" cy="193.01" r="0.4" fill="#2244ff" opacity="0.55"/>
<circle cx="47.28" cy="193.53" r="0.4" fill="#2244ff" opacity="0.55"/>
<circle cx="50.41" cy="194.45" r="0.4" fill="#2244ff" opacity="0.55"/>
<circle cx="42.14" cy="187.27" r="0.4" fill="#2244ff" opacity="0.55"/>
<circle cx="50.73" cy="190.77" r="0.4" fill="#2244ff" opacity="0.55"/>
<circle cx="45.17" cy="184.66" r="0.4" fill="#2244ff" opacity="0.55"/>
<circle cx="47.89" cy="193.11" r="0.4" fill="#2244ff" opacity="0.55"/>
<circle cx="48.40" cy="194.64" r="0.4" fill="#2244ff" opacity="0.55"/>
<circle cx="46.81" cy="191.47" r="0.4" fill="#2244ff" opacity="0.55"/>
<circle cx="50.50" cy="191.59" r="0.4" fill="#2244ff" opacity="0.55"/>
<circle cx="52.84" cy="191.24" r="0.4" fill="#2244ff" opacity="0.55"/>
<circle cx="47.83" cy="194.29" r="0.4" fill="#2244ff" opacity="0.55"/>
<circle cx="47.10" cy="195.82" r="0.4" fill="#2244ff" opacity="0.55"/>
<circle cx="47.39" cy="197.82" r="0.4" fill="#2244ff" opacity="0.55"/>
<circle cx="52.48" cy="186.19" r="0.4" fill="#2244ff" opacity="0.55"/>
<circle cx="57.58" cy="190.95" r="0.4" fill="#2244ff" opacity="0.55"/>
<circle cx="57.95" cy="195.09" r="0.4" fill="#2244ff" opacity="0.55"/>
<circle cx="52.17" cy="194.24" r="0.4" fill="#2244ff" opacity="0.55"/>
<circle cx="53.51" cy="195.93" r="0.4" fill="#2244ff" opacity="0.55"/>
<circle cx="56.81" cy="192.65" r="0.4" fill="#2244ff" opacity="0.55"/>
<circle cx="44.30" cy="191.88" r="0.4" fill="#2244ff" opacity="0.55"/>
<circle cx="44.40" cy="188.99" r="0.4" fill="#2244ff" opacity="0.55"/>
<circle cx="47.83" cy="193.11" r="0.4" fill="#2244ff" opacity="0.55"/>
<circle cx="49.69" cy="186.82" r="0.4" fill="#2244ff" opacity="0.55"/>
<circle cx="53.27" cy="192.82" r="0.4" fill="#2244ff" opacity="0.55"/>
<circle cx="45.86" cy="197.79" r="0.4" fill="#2244ff" opacity="0.55"/>
<circle cx="49.49" cy="185.42" r="0.4" fill="#2244ff" opacity="0.55"/>
<circle cx="36.58" cy="189.27" r="0.4" fill="#2244ff" opacity="0.55"/>
<circle cx="50.42" cy="183.43" r="0.4" fill="#2244ff" opacity="0.55"/>
<circle cx="53.96" cy="193.71" r="0.4" fill="#2244ff" opacity="0.55"/>
<circle cx="48.96" cy="192.24" r="0.4" fill="#2244ff" opacity="0.55"/>
<circle cx="52.91" cy="190.78" r="0.4" fill="#2244ff" opacity="0.55"/>
<circle cx="48.22" cy="185.44" r="0.4" fill="#2244ff" opacity="0.55"/>
<circle cx="47.42" cy="193.02" r="0.4" fill="#2244ff" opacity="0.55"/>
<circle cx="53.46" cy="191.20" r="0.4" fill="#2244ff" opacity="0.55"/>
<circle cx="53.10" cy="197.18" r="0.4" fill="#2244ff" opacity="0.55"/>
<circle cx="52.96" cy="196.13" r="0.4" fill="#2244ff" opacity="0.55"/>
<circle cx="46.93" cy="193.46" r="0.4" fill="#2244ff" opacity="0.55"/>
<circle cx="48.53" cy="196.27" r="0.4" fill="#2244ff" opacity="0.55"/>
<circle cx="46.58" cy="191.35" r="0.4" fill="#2244ff" opacity="0.55"/>
<circle cx="48.72" cy="185.97" r="0.4" fill="#2244ff" opacity="0.55"/>
<circle cx="53.45" cy="192.09" r="0.4" fill="#2244ff" opacity="0.55"/>
<circle cx="50.18" cy="188.68" r="0.4" fill="#2244ff" opacity="0.55"/>
<circle cx="45.68" cy="188.53" r="0.4" fill="#2244ff" opacity="0.55"/>
<circle cx="53.82" cy="190.58" r="0.4" fill="#2244ff" opacity="0.55"/>
<circle cx="55.43" cy="195.23" r="0.4" fill="#2244ff" opacity="0.55"/>
<circle cx="55.94" cy="191.42" r="0.4" fill="#2244ff" opacity="0.55"/>
<circle cx="51.11" cy="190.34" r="0.4" fill="#2244ff" opacity="0.55"/>
<circle cx="51.32" cy="191.07" r="0.4" fill="#2244ff" opacity="0.55"/>
<circle cx="42.64" cy="191.84" r="0.4" fill="#2244ff" opacity="0.55"/>
<circle cx="48.97" cy="195.29" r="0.4" fill="#2244ff" opacity="0.55"/>
<circle cx="56.80" cy="190.30" r="0.4" fill="#2244ff" opacity="0.55"/>
<circle cx="52.05" cy="191.56" r="0.4" fill="#2244ff" opacity="0.55"/>
<circle cx="48.41" cy="193.93" r="0.4" fill="#2244ff" opacity="0.55"/>
<circle cx="45.32" cy="188.88" r="0.4" fill="#2244ff" opacity="0.55"/>
<circle cx="57.01" cy="194.26" r="0.4" fill="#2244ff" opacity="0.55"/>
<circle cx="40.75" cy="195.18" r="0.4" fill="#2244ff" opacity="0.55"/>
<circle cx="45.28" cy="195.36" r="0.4" fill="#2244ff" opacity="0.55"/>
<circle cx="50.97" cy="193.55" r="0.4" fill="#2244ff" opacity="0.55"/>
<circle cx="59.59" cy="194.63" r="0.4" fill="#2244ff" opacity="0.55"/>
<circle cx="52.65" cy="192.73" r="0.4" fill="#2244ff" opacity="0.55"/>
<circle cx="53.09" cy="194.19" r="0.4" fill="#2244ff" opacity="0.55"/>
<circle cx="32.46" cy="196.30" r="0.4" fill="#2244ff" opacity="0.55"/>
<circle cx="45.02" cy="189.61" r="0.4" fill="#2244ff" opacity="0.55"/>
<circle cx="53.77" cy="190.19" r="0.4" fill="#2244ff" opacity="0.55"/>
<circle cx="59.48" cy="191.70" r="0.4" fill="#2244ff" opacity="0.55"/>
<circle cx="52.30" cy="190.17" r="0.4" fill="#2244ff" opacity="0.55"/>
<circle cx="54.43" cy="189.13" r="0.4" fill="#2244ff" opacity="0.55"/>
<circle cx="41.87" cy="193.77" r="0.4" fill="#2244ff" opacity="0.55"/>
<circle cx="59.33" cy="192.95" r="0.4" fill="#2244ff" opacity="0.55"/>
<circle cx="45.30" cy="193.95" r="0.4" fill="#2244ff" opacity="0.55"/>
<circle cx="51.61" cy="187.44" r="0.4" fill="#2244ff" opacity="0.55"/>
<circle cx="50.65" cy="190.20" r="0.4" fill="#2244ff" opacity="0.55"/>
<circle cx="51.20" cy="190.46" r="0.4" fill="#2244ff" opacity="0.55"/>
<circle cx="53.04" cy="191.31" r="0.4" fill="#2244ff" opacity="0.55"/>
<circle cx="48.07" cy="189.44" r="0.4" fill="#2244ff" opacity="0.55"/>
<circle cx="48.83" cy="192.61" r="0.4" fill="#2244ff" opacity="0.55"/>
<circle cx="43.84" cy="192.49" r="0.4" fill="#2244ff" opacity="0.55"/>
<circle cx="49.06" cy="190.23" r="0.4" fill="#2244ff" opacity="0.55"/>
<circle cx="50.80" cy="190.07" r="0.4" fill="#2244ff" opacity="0.55"/>
<circle cx="50.34" cy="192.37" r="0.4" fill="#2244ff" opacity="0.55"/>
<circle cx="45.40" cy="190.52" r="0.4" fill="#2244ff" opacity="0.55"/>
<circle cx="60.55" cy="192.06" r="0.4" fill="#2244ff" opacity="0.55"/>
<circle cx="45.15" cy="190.10" r="0.4" fill="#2244ff" opacity="0.55"/>
<circle cx="42.69" cy="186.04" r="0.4" fill="#2244ff" opacity="0.55"/>
<circle cx="49.61" cy="194.42" r="0.4" fill="#2244ff" opacity="0.55"/>
<circle cx="52.68" cy="194.84" r="0.4" fill="#2244ff" opacity="0.55"/>
<circle cx="53.49" cy="196.68" r="0.4" fill="#2244ff" opacity="0.55"/>
<circle cx="51.39" cy="191.12" r="0.4" fill="#2244ff" opacity="0.55"/>
<circle cx="46.56" cy="197.75" r="0.4" fill="#2244ff" opacity="0.55"/>
<circle cx="52.54" cy="192.64" r="0.4" fill="#2244ff" opacity="0.55"/>
<circle cx="49.03" cy="191.62" r="0.4" fill="#2244ff" opacity="0.55"/>
<circle cx="53.55" cy="183.55" r="0.4" fill="#2244ff" opacity="0.55"/>
<circle cx="47.21" cy="198.68" r="0.4" fill="#2244ff" opacity="0.55"/>
<circle cx="40.45" cy="197.35" r="0.4" fill="#2244ff" opacity="0.55"/>
<circle cx="51.11" cy="191.60" r="0.4" fill="#2244ff" opacity="0.55"/>
<circle cx="43.13" cy="192.80" r="0.4" fill="#2244ff" opacity="0.55"/>
<circle cx="60.00" cy="189.79" r="0.4" fill="#2244ff" opacity="0.55"/>
<circle cx="52.83" cy="192.89" r="0.4" fill="#2244ff" opacity="0.55"/>
<circle cx="57.09" cy="196.17" r="0.4" fill="#2244ff" opacity="0.55"/>
<circle cx="49.60" cy="193.66" r="0.4" fill="#2244ff" opacity="0.55"/>
<circle cx="52.14" cy="189.42" r="0.4" fill="#2244ff" opacity="0.55"/>
<circle cx="47.25" cy="193.73" r="0.4" fill="#2244ff" opacity="0.55"/>
<circle cx="58.92" cy="192.29" r="0.4" fill="#2244ff" opacity="0.55"/>
<circle cx="51.47" cy="191.44" r="0.4" fill="#2244ff" opacity="0.55"/>
<circle cx="48.57" cy="192.01" r="0.4" fill="#2244ff" opacity="0.55"/>
<circle cx="43.59" cy="186.81" r="0.4" fill="#2244ff" opacity="0.55"/>
<circle cx="54.75" cy="190.28" r="0.4" fill="#2244ff" opacity="0.55"/>
<circle cx="49.83" cy="191.11" r="0.4" fill="#2244ff" opacity="0.55"/>
<circle cx="48.95" cy="195.08" r="0.4" fill="#2244ff" opacity="0.55"/>
<circle cx="50.93" cy="189.52" r="0.4" fill="#2244ff" opacity="0.55"/>
<circle cx="49.47" cy="192.45" r="0.4" fill="#2244ff" opacity="0.55"/>
<circle cx="58.53" cy="195.08" r="0.4" fill="#2244ff" opacity="0.55"/>
<circle cx="52.66" cy="188.02" r="0.4" fill="#2244ff" opacity="0.55"/>
<circle cx="48.69" cy="194.87" r="0.4" fill="#2244ff" opacity="0.55"/>
<circle cx="34.66" cy="193.66" r="0.4" fill="#2244ff" opacity="0.55"/>
<circle cx="52.03" cy="193.81" r="0.4" fill="#2244ff" opacity="0.55"/>
<circle cx="52.74" cy="193.16" r="0.4" fill="#2244ff" opacity="0.55"/>
<circle cx="46.20" cy="192.59" r="0.4" fill="#2244ff" opacity="0.55"/>
<circle cx="44.77" cy="194.87" r="0.4" fill="#2244ff" opacity="0.55"/>
<circle cx="50.77" cy="189.84" r="0.4" fill="#2244ff" opacity="0.55"/>
<circle cx="50.57" cy="188.98" r="0.4" fill="#2244ff" opacity="0.55"/>
<circle cx="47.77" cy="195.09" r="0.4" fill="#2244ff" opacity="0.55"/>
<circle cx="55.06" cy="188.70" r="0.4" fill="#2244ff" opacity="0.55"/>
<circle cx="51.82" cy="190.33" r="0.4" fill="#2244ff" opacity="0.55"/>
<circle cx="49.54" cy="190.85" r="0.4" fill="#2244ff" opacity="0.55"/>
<circle cx="53.06" cy="197.19" r="0.4" fill="#2244ff" opacity="0.55"/>
<circle cx="50.44" cy="192.35" r="0.4" fill="#2244ff" opacity="0.55"/>
<circle cx="44.22" cy="192.20" r="0.4" fill="#2244ff" opacity="0.55"/>
<circle cx="40.07" cy="191.76" r="0.4" fill="#2244ff" opacity="0.55"/>
<circle cx="42.07" cy="195.69" r="0.4" fill="#2244ff" opacity="0.55"/>
<circle cx="52.74" cy="192.98" r="0.4" fill="#2244ff" opacity="0.55"/>
<circle cx="57.84" cy="191.21" r="0.4" fill="#2244ff" opacity="0.55"/>
<circle cx="49.36" cy="189.82" r="0.4" fill="#2244ff" opacity="0.55"/>
<circle cx="57.25" cy="189.19" r="0.4" fill="#2244ff" opacity="0.55"/>
<circle cx="52.43" cy="187.48" r="0.4" fill="#2244ff" opacity="0.55"/>
<circle cx="55.52" cy="192.93" r="0.4" fill="#2244ff" opacity="0.55"/>
<circle cx="45.92" cy="186.25" r="0.4" fill="#2244ff" opacity="0.55"/>
<circle cx="63.63" cy="193.18" r="0.4" fill="#2244ff" opacity="0.55"/>
<circle cx="57.67" cy="192.71" r="0.4" fill="#2244ff" opacity="0.55"/>
<circle cx="51.28" cy="194.06" r="0.4" fill="#2244ff" opacity="0.55"/>
<circle cx="49.66" cy="194.87" r="0.4" fill="#2244ff" opacity="0.55"/>
<circle cx="55.67" cy="188.55" r="0.4" fill="#2244ff" opacity="0.55"/>
<circle cx="54.35" cy="188.88" r="0.4" fill="#2244ff" opacity="0.55"/>
<circle cx="51.22" cy="186.91" r="0.4" fill="#2244ff" opacity="0.55"/>
<circle cx="45.57" cy="191.95" r="0.4" fill="#2244ff" opacity="0.55"/>
<circle cx="49.03" cy="189.55" r="0.4" fill="#2244ff" opacity="0.55"/>
<circle cx="61.93" cy="188.79" r="0.4" fill="#2244ff" opacity="0.55"/>
<circle cx="43.77" cy="193.00" r="0.4" fill="#2244ff" opacity="0.55"/>
<circle cx="43.28" cy="186.97" r="0.4" fill="#2244ff" opacity="0.55"/>
<circle cx="45.77" cy="193.42" r="0.4" fill="#2244ff" opacity="0.55"/>
<circle cx="52.39" cy="191.95" r="0.4" fill="#2244ff" opacity="0.55"/>
<circle cx="41.91" cy="190.59" r="0.4" fill="#2244ff" opacity="0.55"/>
<circle cx="54.04" cy="192.77" r="0.4" fill="#2244ff" opacity="0.55"/>
<circle cx="47.16" cy="191.60" r="0.4" fill="#2244ff" opacity="0.55"/>
<circle cx="55.14" cy="188.93" r="0.4" fill="#2244ff" opacity="0.55"/>
<circle cx="45.81" cy="192.90" r="0.4" fill="#2244ff" opacity="0.55"/>
<circle cx="50.09" cy="191.19" r="0.4" fill="#2244ff" opacity="0.55"/>
<circle cx="45.41" cy="193.92" r="0.4" fill="#2244ff" opacity="0.55"/>
<circle cx="58.10" cy="191.12" r="0.4" fill="#2244ff" opacity="0.55"/>
<circle cx="54.47" cy="190.02" r="0.4" fill="#2244ff" opacity="0.55"/>
<circle cx="47.13" cy="195.94" r="0.4" fill="#2244ff" opacity="0.55"/>
<circle cx="44.43" cy="188.56" r="0.4" fill="#2244ff" opacity="0.55"/>
<circle cx="49.62" cy="195.21" r="0.4" fill="#2244ff" opacity="0.55"/>
<circle cx="53.26" cy="190.48" r="0.4" fill="#2244ff" opacity="0.55"/>
<circle cx="51.65" cy="186.40" r="0.4" fill="#2244ff" opacity="0.55"/>
<circle cx="50.74" cy="191.80" r="0.4" fill="#2244ff" opacity="0.55"/>
<circle cx="43.88" cy="197.65" r="0.4" fill="#2244ff" opacity="0.55"/>
<circle cx="51.03" cy="189.40" r="0.4" fill="#2244ff" opacity="0.55"/>
<circle cx="50.85" cy="195.39" r="0.4" fill="#2244ff" opacity="0.55"/>
<circle cx="54.01" cy="192.47" r="0.4" fill="#2244ff" opacity="0.55"/>
<circle cx="48.87" cy="189.20" r="0.4" fill="#2244ff" opacity="0.55"/>
<circle cx="50.82" cy="188.54" r="0.4" fill="#2244ff" opacity="0.55"/>
<circle cx="54.36" cy="183.71" r="0.4" fill="#2244ff" opacity="0.55"/>
<circle cx="50.65" cy="190.38" r="0.4" fill="#2244ff" opacity="0.55"/>
<circle cx="59.35" cy="193.74" r="0.4" fill="#2244ff" opacity="0.55"/>
<circle cx="55.87" cy="190.22" r="0.4" fill="#2244ff" opacity="0.55"/>
<circle cx="55.07" cy="194.13" r="0.4" fill="#2244ff" opacity="0.55"/>
<circle cx="51.84" cy="191.29" r="0.4" fill="#2244ff" opacity="0.55"/>
<circle cx="51.09" cy="192.58" r="0.4" fill="#2244ff" opacity="0.55"/>
<circle cx="47.15" cy="192.66" r="0.4" fill="#2244ff" opacity="0.55"/>
<circle cx="42.36" cy="191.94" r="0.4" fill="#2244ff" opacity="0.55"/>
<circle cx="49.90" cy="186.35" r="0.4" fill="#2244ff" opacity="0.55"/>
<circle cx="55.94" cy="194.25" r="0.4" fill="#2244ff" opacity="0.55"/>
<circle cx="45.04" cy="194.51" r="0.4" fill="#2244ff" opacity="0.55"/>
<circle cx="44.50" cy="197.12" r="0.4" fill="#2244ff" opacity="0.55"/>
<circle cx="51.48" cy="191.29" r="0.4" fill="#2244ff" opacity="0.55"/>
<circle cx="47.83" cy="188.29" r="0.4" fill="#2244ff" opacity="0.55"/>
<circle cx="52.27" cy="186.62" r="0.4" fill="#2244ff" opacity="0.55"/>
<circle cx="56.51" cy="188.07" r="0.4" fill="#2244ff" opacity="0.55"/>
<circle cx="39.50" cy="190.88" r="0.4" fill="#2244ff" opacity="0.55"/>
<circle cx="50.59" cy="186.64" r="0.4" fill="#2244ff" opacity="0.55"/>
<circle cx="49.38" cy="193.18" r="0.4" fill="#2244ff" opacity="0.55"/>
<circle cx="44.18" cy="187.45" r="0.4" fill="#2244ff" opacity="0.55"/>
<circle cx="48.21" cy="193.22" r="0.4" fill="#2244ff" opacity="0.55"/>
<circle cx="50.77" cy="189.52" r="0.4" fill="#2244ff" opacity="0.55"/>
<circle cx="46.06" cy="191.24" r="0.4" fill="#2244ff" opacity="0.55"/>
<circle cx="46.53" cy="194.02" r="0.4" fill="#2244ff" opacity="0.55"/>
<circle cx="45.72" cy="192.17" r="0.4" fill="#2244ff" opacity="0.55"/>
<circle cx="54.00" cy="186.54" r="0.4" fill="#2244ff" opacity="0.55"/>
<circle cx="52.33" cy="192.12" r="0.4" fill="#2244ff" opacity="0.55"/>
<circle cx="49.95" cy="190.50" r="0.4" fill="#2244ff" opacity="0.55"/>
<circle cx="50.01" cy="190.29" r="0.4" fill="#2244ff" opacity="0.55"/>
<circle cx="49.41" cy="189.46" r="0.4" fill="#2244ff" opacity="0.55"/>
<circle cx="61.00" cy="187.65" r="0.4" fill="#2244ff" opacity="0.55"/>
<circle cx="60.36" cy="189.70" r="0.4" fill="#2244ff" opacity="0.55"/>
<circle cx="50.94" cy="189.16" r="0.4" fill="#2244ff" opacity="0.55"/>
<circle cx="39.62" cy="186.94" r="0.4" fill="#2244ff" opacity="0.55"/>
<circle cx="51.37" cy="183.68" r="0.4" fill="#2244ff" opacity="0.55"/>
<circle cx="50.06" cy="194.32" r="0.4" fill="#2244ff" opacity="0.55"/>
<circle cx="47.98" cy="195.31" r="0.4" fill="#2244ff" opacity="0.55"/>
<circle cx="47.32" cy="191.79" r="0.4" fill="#2244ff" opacity="0.55"/>
<circle cx="57.22" cy="185.87" r="0.4" fill="#2244ff" opacity="0.55"/>
<circle cx="53.28" cy="189.79" r="0.4" fill="#2244ff" opacity="0.55"/>
<circle cx="50.35" cy="194.05" r="0.4" fill="#2244ff" opacity="0.55"/>
<circle cx="51.18" cy="190.42" r="0.4" fill="#2244ff" opacity="0.55"/>
<circle cx="48.34" cy="196.69" r="0.4" fill="#2244ff" opacity="0.55"/>
<circle cx="45.63" cy="188.18" r="0.4" fill="#2244ff" opacity="0.55"/>
<circle cx="38.05" cy="192.32" r="0.4" fill="#2244ff" opacity="0.55"/>
<circle cx="53.77" cy="187.28" r="0.4" fill="#2244ff" opacity="0.55"/>
<circle cx="48.62" cy="192.43" r="0.4" fill="#2244ff" opacity="0.55"/>
<circle cx="48.06" cy="191.89" r="0.4" fill="#2244ff" opacity="0.55"/>
<circle cx="40.87" cy="187.33" r="0.4" fill="#2244ff" opacity="0.55"/>
<circle cx="60.44" cy="191.86" r="0.4" fill="#2244ff" opacity="0.55"/>
<circle cx="48.84" cy="188.12" r="0.4" fill="#2244ff" opacity="0.55"/>
<circle cx="48.27" cy="188.57" r="0.4" fill="#2244ff" opacity="0.55"/>
<circle cx="53.51" cy="190.67" r="0.4" fill="#2244ff" opacity="0.55"/>
<circle cx="45.74" cy="192.67" r="0.4" fill="#2244ff" opacity="0.55"/>
<circle cx="47.44" cy="189.54" r="0.4" fill="#2244ff" opacity="0.55"/>
<circle cx="55.30" cy="191.99" r="0.4" fill="#2244ff" opacity="0.55"/>
<circle cx="46.62" cy="190.85" r="0.4" fill="#2244ff" opacity="0.55"/>
<circle cx="64.53" cy="192.91" r="0.4" fill="#3355ff" opacity="0.5"/>
<circle cx="52.39" cy="190.47" r="0.4" fill="#3355ff" opacity="0.5"/>
<circle cx="53.94" cy="196.29" r="0.4" fill="#3355ff" opacity="0.5"/>
<circle cx="54.74" cy="194.77" r="0.4" fill="#3355ff" opacity="0.5"/>
<circle cx="52.53" cy="192.67" r="0.4" fill="#3355ff" opacity="0.5"/>
<circle cx="57.08" cy="192.14" r="0.4" fill="#3355ff" opacity="0.5"/>
<circle cx="64.93" cy="195.31" r="0.4" fill="#3355ff" opacity="0.5"/>
<circle cx="61.69" cy="188.51" r="0.4" fill="#3355ff" opacity="0.5"/>
<circle cx="58.83" cy="195.58" r="0.4" fill="#3355ff" opacity="0.5"/>
<circle cx="55.14" cy="194.58" r="0.4" fill="#3355ff" opacity="0.5"/>
<circle cx="58.82" cy="191.22" r="0.4" fill="#3355ff" opacity="0.5"/>
<circle cx="56.88" cy="188.25" r="0.4" fill="#3355ff" opacity="0.5"/>
<circle cx="60.00" cy="189.62" r="0.4" fill="#3355ff" opacity="0.5"/>
<circle cx="59.92" cy="198.46" r="0.4" fill="#3355ff" opacity="0.5"/>
<circle cx="53.90" cy="195.75" r="0.4" fill="#3355ff" opacity="0.5"/>
<circle cx="53.22" cy="186.64" r="0.4" fill="#3355ff" opacity="0.5"/>
<circle cx="53.64" cy="192.88" r="0.4" fill="#3355ff" opacity="0.5"/>
<circle cx="55.11" cy="192.17" r="0.4" fill="#3355ff" opacity="0.5"/>
<circle cx="61.88" cy="194.01" r="0.4" fill="#3355ff" opacity="0.5"/>
<circle cx="52.85" cy="191.84" r="0.4" fill="#3355ff" opacity="0.5"/>
<circle cx="58.61" cy="192.82" r="0.4" fill="#3355ff" opacity="0.5"/>
<circle cx="62.04" cy="194.38" r="0.4" fill="#3355ff" opacity="0.5"/>
<circle cx="58.26" cy="198.74" r="0.4" fill="#3355ff" opacity="0.5"/>
<circle cx="53.22" cy="190.32" r="0.4" fill="#3355ff" opacity="0.5"/>
<circle cx="59.37" cy="194.14" r="0.4" fill="#3355ff" opacity="0.5"/>
<circle cx="53.83" cy="196.98" r="0.4" fill="#3355ff" opacity="0.5"/>
<circle cx="56.78" cy="194.59" r="0.4" fill="#3355ff" opacity="0.5"/>
<circle cx="55.14" cy="189.74" r="0.4" fill="#3355ff" opacity="0.5"/>
<circle cx="61.03" cy="201.43" r="0.4" fill="#3355ff" opacity="0.5"/>
<circle cx="54.29" cy="196.92" r="0.4" fill="#3355ff" opacity="0.5"/>
<circle cx="59.12" cy="189.12" r="0.4" fill="#3355ff" opacity="0.5"/>
<circle cx="55.95" cy="191.65" r="0.4" fill="#3355ff" opacity="0.5"/>
<circle cx="63.44" cy="191.52" r="0.4" fill="#3355ff" opacity="0.5"/>
<circle cx="54.54" cy="185.87" r="0.4" fill="#3355ff" opacity="0.5"/>
<circle cx="65.39" cy="189.23" r="0.4" fill="#3355ff" opacity="0.5"/>
<circle cx="53.24" cy="193.09" r="0.4" fill="#3355ff" opacity="0.5"/>
<circle cx="56.20" cy="195.95" r="0.4" fill="#3355ff" opacity="0.5"/>
<circle cx="56.15" cy="189.19" r="0.4" fill="#3355ff" opacity="0.5"/>
<circle cx="52.32" cy="187.53" r="0.4" fill="#3355ff" opacity="0.5"/>
<circle cx="54.80" cy="188.51" r="0.4" fill="#3355ff" opacity="0.5"/>
<circle cx="62.66" cy="186.26" r="0.4" fill="#3355ff" opacity="0.5"/>
<circle cx="60.25" cy="195.65" r="0.4" fill="#3355ff" opacity="0.5"/>
<circle cx="67.14" cy="185.39" r="0.4" fill="#3355ff" opacity="0.5"/>
<circle cx="54.18" cy="191.70" r="0.4" fill="#3355ff" opacity="0.5"/>
<circle cx="55.48" cy="199.14" r="0.4" fill="#3355ff" opacity="0.5"/>
<circle cx="62.61" cy="190.19" r="0.4" fill="#3355ff" opacity="0.5"/>
<circle cx="55.69" cy="192.30" r="0.4" fill="#3355ff" opacity="0.5"/>
<circle cx="56.61" cy="189.62" r="0.4" fill="#3355ff" opacity="0.5"/>
<circle cx="56.06" cy="192.46" r="0.4" fill="#3355ff" opacity="0.5"/>
<circle cx="57.80" cy="193.98" r="0.4" fill="#3355ff" opacity="0.5"/>
<circle cx="62.74" cy="192.65" r="0.4" fill="#3355ff" opacity="0.5"/>
<circle cx="58.49" cy="190.92" r="0.4" fill="#3355ff" opacity="0.5"/>
<circle cx="56.30" cy="191.32" r="0.4" fill="#3355ff" opacity="0.5"/>
<circle cx="59.28" cy="194.09" r="0.4" fill="#3355ff" opacity="0.5"/>
<circle cx="64.08" cy="193.51" r="0.4" fill="#3355ff" opacity="0.5"/>
<circle cx="70.53" cy="195.19" r="0.4" fill="#3355ff" opacity="0.5"/>
<circle cx="55.01" cy="192.97" r="0.4" fill="#3355ff" opacity="0.5"/>
<circle cx="61.07" cy="190.28" r="0.4" fill="#3355ff" opacity="0.5"/>
<circle cx="55.19" cy="191.11" r="0.4" fill="#3355ff" opacity="0.5"/>
<circle cx="64.64" cy="186.51" r="0.4" fill="#3355ff" opacity="0.5"/>
<circle cx="55.78" cy="192.59" r="0.4" fill="#3355ff" opacity="0.5"/>
<circle cx="57.70" cy="190.31" r="0.4" fill="#3355ff" opacity="0.5"/>
<circle cx="64.54" cy="190.52" r="0.4" fill="#3355ff" opacity="0.5"/>
<circle cx="58.41" cy="195.72" r="0.4" fill="#3355ff" opacity="0.5"/>
<circle cx="55.27" cy="188.77" r="0.4" fill="#3355ff" opacity="0.5"/>
<circle cx="60.35" cy="188.70" r="0.4" fill="#3355ff" opacity="0.5"/>
<circle cx="53.80" cy="195.40" r="0.4" fill="#3355ff" opacity="0.5"/>
<circle cx="54.90" cy="190.74" r="0.4" fill="#3355ff" opacity="0.5"/>
<circle cx="53.01" cy="188.63" r="0.4" fill="#3355ff" opacity="0.5"/>
<circle cx="71.30" cy="191.19" r="0.4" fill="#3355ff" opacity="0.5"/>
<circle cx="58.93" cy="190.20" r="0.4" fill="#3355ff" opacity="0.5"/>
<circle cx="62.08" cy="187.97" r="0.4" fill="#3355ff" opacity="0.5"/>
<circle cx="54.19" cy="193.28" r="0.4" fill="#3355ff" opacity="0.5"/>
<circle cx="54.70" cy="188.32" r="0.4" fill="#3355ff" opacity="0.5"/>
<circle cx="62.98" cy="189.76" r="0.4" fill="#3355ff" opacity="0.5"/>
<circle cx="59.48" cy="191.41" r="0.4" fill="#3355ff" opacity="0.5"/>
<circle cx="59.60" cy="194.60" r="0.4" fill="#3355ff" opacity="0.5"/>
<circle cx="62.55" cy="191.71" r="0.4" fill="#3355ff" opacity="0.5"/>
<circle cx="59.32" cy="192.56" r="0.4" fill="#3355ff" opacity="0.5"/>
<circle cx="57.30" cy="193.09" r="0.4" fill="#3355ff" opacity="0.5"/>
<circle cx="61.97" cy="194.42" r="0.4" fill="#3355ff" opacity="0.5"/>
<circle cx="57.48" cy="192.69" r="0.4" fill="#3355ff" opacity="0.5"/>
<circle cx="63.46" cy="189.66" r="0.4" fill="#3355ff" opacity="0.5"/>
<circle cx="56.69" cy="191.83" r="0.4" fill="#3355ff" opacity="0.5"/>
<circle cx="53.12" cy="192.18" r="0.4" fill="#3355ff" opacity="0.5"/>
<circle cx="56.89" cy="191.84" r="0.4" fill="#3355ff" opacity="0.5"/>
<circle cx="54.19" cy="191.68" r="0.4" fill="#3355ff" opacity="0.5"/>
<circle cx="56.89" cy="195.85" r="0.4" fill="#3355ff" opacity="0.5"/>
<circle cx="53.61" cy="195.92" r="0.4" fill="#3355ff" opacity="0.5"/>
<circle cx="52.53" cy="192.92" r="0.4" fill="#3355ff" opacity="0.5"/>
<circle cx="52.52" cy="187.18" r="0.4" fill="#3355ff" opacity="0.5"/>
<circle cx="56.58" cy="193.76" r="0.4" fill="#3355ff" opacity="0.5"/>
<circle cx="55.57" cy="192.73" r="0.4" fill="#3355ff" opacity="0.5"/>
<circle cx="53.69" cy="188.63" r="0.4" fill="#3355ff" opacity="0.5"/>
<circle cx="53.07" cy="193.18" r="0.4" fill="#3355ff" opacity="0.5"/>
<circle cx="56.76" cy="191.33" r="0.4" fill="#3355ff" opacity="0.5"/>
<circle cx="63.92" cy="197.82" r="0.4" fill="#3355ff" opacity="0.5"/>
<circle cx="53.68" cy="193.42" r="0.4" fill="#3355ff" opacity="0.5"/>
<circle cx="61.01" cy="194.57" r="0.4" fill="#3355ff" opacity="0.5"/>
<circle cx="55.81" cy="193.77" r="0.4" fill="#3355ff" opacity="0.5"/>
<circle cx="55.91" cy="188.71" r="0.4" fill="#3355ff" opacity="0.5"/>
<circle cx="59.54" cy="185.34" r="0.4" fill="#3355ff" opacity="0.5"/>
<circle cx="53.97" cy="189.05" r="0.4" fill="#3355ff" opacity="0.5"/>
<circle cx="63.49" cy="193.64" r="0.4" fill="#3355ff" opacity="0.5"/>
<circle cx="61.43" cy="189.10" r="0.4" fill="#3355ff" opacity="0.5"/>
<circle cx="58.32" cy="188.34" r="0.4" fill="#3355ff" opacity="0.5"/>
<circle cx="66.67" cy="189.44" r="0.4" fill="#3355ff" opacity="0.5"/>
<circle cx="65.83" cy="196.66" r="0.4" fill="#3355ff" opacity="0.5"/>
<circle cx="57.55" cy="194.33" r="0.4" fill="#3355ff" opacity="0.5"/>
<circle cx="52.86" cy="191.41" r="0.4" fill="#3355ff" opacity="0.5"/>
<circle cx="59.68" cy="187.79" r="0.4" fill="#3355ff" opacity="0.5"/>
<circle cx="58.37" cy="188.15" r="0.4" fill="#3355ff" opacity="0.5"/>
<circle cx="55.95" cy="191.92" r="0.4" fill="#3355ff" opacity="0.5"/>
<circle cx="57.11" cy="189.84" r="0.4" fill="#3355ff" opacity="0.5"/>
<circle cx="53.04" cy="190.13" r="0.4" fill="#3355ff" opacity="0.5"/>
<circle cx="61.62" cy="192.96" r="0.4" fill="#3355ff" opacity="0.5"/>
<circle cx="53.96" cy="193.49" r="0.4" fill="#3355ff" opacity="0.5"/>
<circle cx="54.95" cy="194.22" r="0.4" fill="#3355ff" opacity="0.5"/>
<circle cx="55.77" cy="193.46" r="0.4" fill="#3355ff" opacity="0.5"/>
<circle cx="57.89" cy="195.42" r="0.4" fill="#3355ff" opacity="0.5"/>
<circle cx="66.34" cy="192.31" r="0.4" fill="#3355ff" opacity="0.5"/>
<circle cx="56.52" cy="191.68" r="0.4" fill="#3355ff" opacity="0.5"/>
<circle cx="55.05" cy="189.12" r="0.4" fill="#3355ff" opacity="0.5"/>
<circle cx="62.19" cy="189.97" r="0.4" fill="#3355ff" opacity="0.5"/>
<circle cx="53.28" cy="188.86" r="0.4" fill="#3355ff" opacity="0.5"/>
<circle cx="53.39" cy="191.86" r="0.4" fill="#3355ff" opacity="0.5"/>
<circle cx="52.95" cy="199.63" r="0.4" fill="#3355ff" opacity="0.5"/>
<circle cx="56.96" cy="189.66" r="0.4" fill="#3355ff" opacity="0.5"/>
<circle cx="65.93" cy="195.52" r="0.4" fill="#3355ff" opacity="0.5"/>
<circle cx="68.37" cy="194.05" r="0.4" fill="#3355ff" opacity="0.5"/>
<circle cx="59.15" cy="192.37" r="0.4" fill="#3355ff" opacity="0.5"/>
<circle cx="57.86" cy="187.59" r="0.4" fill="#3355ff" opacity="0.5"/>
<circle cx="66.58" cy="192.38" r="0.4" fill="#3355ff" opacity="0.5"/>
<circle cx="67.13" cy="197.38" r="0.4" fill="#3355ff" opacity="0.5"/>
<circle cx="55.49" cy="185.65" r="0.4" fill="#3355ff" opacity="0.5"/>
<circle cx="59.97" cy="193.98" r="0.4" fill="#3355ff" opacity="0.5"/>
<circle cx="60.14" cy="190.65" r="0.4" fill="#3355ff" opacity="0.5"/>
<circle cx="52.80" cy="193.96" r="0.4" fill="#3355ff" opacity="0.5"/>
<circle cx="62.40" cy="190.62" r="0.4" fill="#3355ff" opacity="0.5"/>
<circle cx="62.19" cy="192.02" r="0.4" fill="#3355ff" opacity="0.5"/>
<circle cx="57.36" cy="194.02" r="0.4" fill="#3355ff" opacity="0.5"/>
<circle cx="57.03" cy="196.82" r="0.4" fill="#3355ff" opacity="0.5"/>
<circle cx="58.83" cy="192.89" r="0.4" fill="#3355ff" opacity="0.5"/>
<circle cx="55.98" cy="192.89" r="0.4" fill="#3355ff" opacity="0.5"/>
<circle cx="54.37" cy="192.37" r="0.4" fill="#3355ff" opacity="0.5"/>
<circle cx="55.17" cy="192.04" r="0.4" fill="#3355ff" opacity="0.5"/>
<circle cx="61.61" cy="197.12" r="0.4" fill="#3355ff" opacity="0.5"/>
<circle cx="55.89" cy="193.34" r="0.4" fill="#3355ff" opacity="0.5"/>
<circle cx="62.40" cy="194.18" r="0.4" fill="#3355ff" opacity="0.5"/>
<circle cx="52.52" cy="197.95" r="0.4" fill="#3355ff" opacity="0.5"/>
<circle cx="59.02" cy="195.75" r="0.4" fill="#3355ff" opacity="0.5"/>
<circle cx="54.51" cy="187.72" r="0.4" fill="#3355ff" opacity="0.5"/>
<circle cx="53.66" cy="194.28" r="0.4" fill="#3355ff" opacity="0.5"/>
<circle cx="54.43" cy="188.76" r="0.4" fill="#3355ff" opacity="0.5"/>
<circle cx="52.41" cy="190.62" r="0.4" fill="#3355ff" opacity="0.5"/>
<circle cx="54.46" cy="190.30" r="0.4" fill="#3355ff" opacity="0.5"/>
<circle cx="53.15" cy="190.78" r="0.4" fill="#3355ff" opacity="0.5"/>
<circle cx="53.29" cy="189.82" r="0.4" fill="#3355ff" opacity="0.5"/>
<circle cx="55.35" cy="191.27" r="0.4" fill="#3355ff" opacity="0.5"/>
<circle cx="57.49" cy="191.35" r="0.4" fill="#3355ff" opacity="0.5"/>
<ellipse cx="48.80" cy="193.70" rx="6.5" ry="4.2" fill="#1a2cff" opacity="0.55"/>
<ellipse cx="49.60" cy="191.80" rx="8.4" ry="5.8" fill="url(#blob)"/>
<rect x="55.40" y="182.40" width="24.20" height="17.10" fill="none" stroke="#8a8a8a" stroke-width="0.8"/>
<text x="73.90" y="217.20" font-size="7.5" text-anchor="middle" fill="#1c1c1c">Bolus</text>
<text x="73.90" y="225.70" font-size="7.5" text-anchor="middle" fill="#1c1c1c">1.32</text>
<rect x="31.1" y="240.70" width="68.0" height="68.60" fill="none" stroke="#9a9a9a" stroke-width="0.6"/>
<line x1="31.10" y1="240.70" x2="31.10" y2="309.30" stroke="#666" stroke-width="0.7"/>
<line x1="29.60" y1="240.30" x2="31.10" y2="240.30" stroke="#444" stroke-width="0.6"/>
<line x1="29.60" y1="252.00" x2="31.10" y2="252.00" stroke="#444" stroke-width="0.6"/>
<line x1="29.60" y1="263.60" x2="31.10" y2="263.60" stroke="#444" stroke-width="0.6"/>
<line x1="29.60" y1="275.30" x2="31.10" y2="275.30" stroke="#444" stroke-width="0.6"/>
<line x1="29.60" y1="294.70" x2="31.10" y2="294.70" stroke="#444" stroke-width="0.6"/>
<rect x="30.0" y="292.90" width="1.6" height="3.6" fill="#333" opacity="0.7"/>
<line x1="30.30" y1="243.81" x2="31.10" y2="243.81" stroke="#777" stroke-width="0.4"/>
<line x1="30.30" y1="246.15" x2="31.10" y2="246.15" stroke="#777" stroke-width="0.4"/>
<line x1="30.30" y1="247.91" x2="31.10" y2="247.91" stroke="#777" stroke-width="0.4"/>
<line x1="30.30" y1="249.43" x2="31.10" y2="249.43" stroke="#777" stroke-width="0.4"/>
<line x1="30.30" y1="250.60" x2="31.10" y2="250.60" stroke="#777" stroke-width="0.4"/>
<line x1="30.30" y1="255.48" x2="31.10" y2="255.48" stroke="#777" stroke-width="0.4"/>
<line x1="30.30" y1="257.80" x2="31.10" y2="257.80" stroke="#777" stroke-width="0.4"/>
<line x1="30.30" y1="259.54" x2="31.10" y2="259.54" stroke="#777" stroke-width="0.4"/>
<line x1="30.30" y1="261.05" x2="31.10" y2="261.05" stroke="#777" stroke-width="0.4"/>
<line x1="30.30" y1="262.21" x2="31.10" y2="262.21" stroke="#777" stroke-width="0.4"/>
<line x1="30.30" y1="267.11" x2="31.10" y2="267.11" stroke="#777" stroke-width="0.4"/>
<line x1="30.30" y1="269.45" x2="31.10" y2="269.45" stroke="#777" stroke-width="0.4"/>
<line x1="30.30" y1="271.21" x2="31.10" y2="271.21" stroke="#777" stroke-width="0.4"/>
<line x1="30.30" y1="272.73" x2="31.10" y2="272.73" stroke="#777" stroke-width="0.4"/>
<line x1="30.30" y1="273.90" x2="31.10" y2="273.90" stroke="#777" stroke-width="0.4"/>
<line x1="30.30" y1="281.12" x2="31.10" y2="281.12" stroke="#777" stroke-width="0.4"/>
<line x1="30.30" y1="285.00" x2="31.10" y2="285.00" stroke="#777" stroke-width="0.4"/>
<line x1="30.30" y1="287.91" x2="31.10" y2="287.91" stroke="#777" stroke-width="0.4"/>
<line x1="30.30" y1="290.43" x2="31.10" y2="290.43" stroke="#777" stroke-width="0.4"/>
<line x1="30.30" y1="292.37" x2="31.10" y2="292.37" stroke="#777" stroke-width="0.4"/>
<line x1="31.10" y1="308.80" x2="99.10" y2="308.80" stroke="#666" stroke-width="0.6"/>
<line x1="31.60" y1="308.80" x2="31.60" y2="310.90" stroke="#999" stroke-width="0.4"/>
<line x1="33.65" y1="308.80" x2="33.65" y2="310.90" stroke="#999" stroke-width="0.4"/>
<line x1="35.70" y1="308.80" x2="35.70" y2="310.90" stroke="#999" stroke-width="0.4"/>
<line x1="37.75" y1="308.80" x2="37.75" y2="310.90" stroke="#999" stroke-width="0.4"/>
<line x1="39.80" y1="308.80" x2="39.80" y2="310.90" stroke="#999" stroke-width="0.4"/>
<line x1="41.85" y1="308.80" x2="41.85" y2="310.90" stroke="#999" stroke-width="0.4"/>
<line x1="43.90" y1="308.80" x2="43.90" y2="310.90" stroke="#999" stroke-width="0.4"/>
<line x1="45.95" y1="308.80" x2="45.95" y2="310.90" stroke="#999" stroke-width="0.4"/>
<line x1="48.00" y1="308.80" x2="48.00" y2="310.90" stroke="#999" stroke-width="0.4"/>
<line x1="50.05" y1="308.80" x2="50.05" y2="310.90" stroke="#999" stroke-width="0.4"/>
<line x1="52.10" y1="308.80" x2="52.10" y2="310.90" stroke="#999" stroke-width="0.4"/>
<line x1="54.15" y1="308.80" x2="54.15" y2="310.90" stroke="#999" stroke-width="0.4"/>
<line x1="56.20" y1="308.80" x2="56.20" y2="310.90" stroke="#999" stroke-width="0.4"/>
<line x1="58.25" y1="308.80" x2="58.25" y2="310.90" stroke="#999" stroke-width="0.4"/>
<line x1="60.30" y1="308.80" x2="60.30" y2="310.90" stroke="#999" stroke-width="0.4"/>
<line x1="62.35" y1="308.80" x2="62.35" y2="310.90" stroke="#999" stroke-width="0.4"/>
<line x1="64.40" y1="308.80" x2="64.40" y2="310.90" stroke="#999" stroke-width="0.4"/>
<line x1="66.45" y1="308.80" x2="66.45" y2="310.90" stroke="#999" stroke-width="0.4"/>
<line x1="68.50" y1="308.80" x2="68.50" y2="310.90" stroke="#999" stroke-width="0.4"/>
<line x1="70.55" y1="308.80" x2="70.55" y2="310.90" stroke="#999" stroke-width="0.4"/>
<line x1="72.60" y1="308.80" x2="72.60" y2="310.90" stroke="#999" stroke-width="0.4"/>
<line x1="74.65" y1="308.80" x2="74.65" y2="310.90" stroke="#999" stroke-width="0.4"/>
<line x1="76.70" y1="308.80" x2="76.70" y2="310.90" stroke="#999" stroke-width="0.4"/>
<line x1="78.75" y1="308.80" x2="78.75" y2="310.90" stroke="#999" stroke-width="0.4"/>
<line x1="80.80" y1="308.80" x2="80.80" y2="310.90" stroke="#999" stroke-width="0.4"/>
<line x1="82.85" y1="308.80" x2="82.85" y2="310.90" stroke="#999" stroke-width="0.4"/>
<line x1="84.90" y1="308.80" x2="84.90" y2="310.90" stroke="#999" stroke-width="0.4"/>
<line x1="86.95" y1="308.80" x2="86.95" y2="310.90" stroke="#999" stroke-width="0.4"/>
<line x1="89.00" y1="308.80" x2="89.00" y2="310.90" stroke="#999" stroke-width="0.4"/>
<line x1="91.05" y1="308.80" x2="91.05" y2="310.90" stroke="#999" stroke-width="0.4"/>
<line x1="93.10" y1="308.80" x2="93.10" y2="310.90" stroke="#999" stroke-width="0.4"/>
<line x1="95.15" y1="308.80" x2="95.15" y2="310.90" stroke="#999" stroke-width="0.4"/>
<line x1="97.20" y1="308.80" x2="97.20" y2="310.90" stroke="#999" stroke-width="0.4"/>
<line x1="44.20" y1="308.80" x2="44.20" y2="311.20" stroke="#444" stroke-width="0.7"/>
<line x1="60.00" y1="308.80" x2="60.00" y2="311.20" stroke="#444" stroke-width="0.7"/>
<line x1="72.20" y1="308.80" x2="72.20" y2="311.20" stroke="#444" stroke-width="0.7"/>
<line x1="84.40" y1="308.80" x2="84.40" y2="311.20" stroke="#444" stroke-width="0.7"/>
<line x1="96.40" y1="308.80" x2="96.40" y2="311.20" stroke="#444" stroke-width="0.7"/>
<rect x="41.5" y="308.90" width="4.5" height="1.8" fill="#333" opacity="0.55"/>
<circle cx="51.14" cy="261.61" r="0.4" fill="#2244ff" opacity="0.55"/>
<circle cx="54.18" cy="261.66" r="0.4" fill="#2244ff" opacity="0.55"/>
<circle cx="45.50" cy="259.91" r="0.4" fill="#2244ff" opacity="0.55"/>
<circle cx="47.26" cy="260.33" r="0.4" fill="#2244ff" opacity="0.55"/>
<circle cx="47.37" cy="264.03" r="0.4" fill="#2244ff" opacity="0.55"/>
<circle cx="50.59" cy="259.05" r="0.4" fill="#2244ff" opacity="0.55"/>
<circle cx="51.51" cy="258.75" r="0.4" fill="#2244ff" opacity="0.55"/>
<circle cx="47.86" cy="261.15" r="0.4" fill="#2244ff" opacity="0.55"/>
<circle cx="46.28" cy="262.06" r="0.4" fill="#2244ff" opacity="0.55"/>
<circle cx="36.81" cy="259.45" r="0.4" fill="#2244ff" opacity="0.55"/>
<circle cx="52.67" cy="259.83" r="0.4" fill="#2244ff" opacity="0.55"/>
<circle cx="43.44" cy="262.06" r="0.4" fill="#2244ff" opacity="0.55"/>
<circle cx="54.10" cy="259.04" r="0.4" fill="#2244ff" opacity="0.55"/>
<circle cx="41.61" cy="268.55" r="0.4" fill="#2244ff" opacity="0.55"/>
<circle cx="50.55" cy="256.94" r="0.4" fill="#2244ff" opacity="0.55"/>
<circle cx="55.80" cy="262.89" r="0.4" fill="#2244ff" opacity="0.55"/>
<circle cx="47.40" cy="265.77" r="0.4" fill="#2244ff" opacity="0.55"/>
<circle cx="49.31" cy="263.05" r="0.4" fill="#2244ff" opacity="0.55"/>
<circle cx="52.97" cy="263.17" r="0.4" fill="#2244ff" opacity="0.55"/>
<circle cx="43.61" cy="258.34" r="0.4" fill="#2244ff" opacity="0.55"/>
<circle cx="55.14" cy="262.93" r="0.4" fill="#2244ff" opacity="0.55"/>
<circle cx="65.28" cy="263.56" r="0.4" fill="#2244ff" opacity="0.55"/>
<circle cx="52.72" cy="264.78" r="0.4" fill="#2244ff" opacity="0.55"/>
<circle cx="44.79" cy="262.94" r="0.4" fill="#2244ff" opacity="0.55"/>
<circle cx="57.07" cy="266.28" r="0.4" fill="#2244ff" opacity="0.55"/>
<circle cx="47.58" cy="265.42" r="0.4" fill="#2244ff" opacity="0.55"/>
<circle cx="56.24" cy="266.89" r="0.4" fill="#2244ff" opacity="0.55"/>
<circle cx="42.27" cy="258.22" r="0.4" fill="#2244ff" opacity="0.55"/>
<circle cx="46.56" cy="265.53" r="0.4" fill="#2244ff" opacity="0.55"/>
<circle cx="53.75" cy="261.47" r="0.4" fill="#2244ff" opacity="0.55"/>
<circle cx="40.00" cy="259.92" r="0.4" fill="#2244ff" opacity="0.55"/>
<circle cx="49.55" cy="257.69" r="0.4" fill="#2244ff" opacity="0.55"/>
<circle cx="51.09" cy="259.95" r="0.4" fill="#2244ff" opacity="0.55"/>
<circle cx="53.43" cy="261.42" r="0.4" fill="#2244ff" opacity="0.55"/>
<circle cx="44.65" cy="261.44" r="0.4" fill="#2244ff" opacity="0.55"/>
<circle cx="54.05" cy="263.90" r="0.4" fill="#2244ff" opacity="0.55"/>
<circle cx="50.00" cy="265.54" r="0.4" fill="#2244ff" opacity="0.55"/>
<circle cx="47.86" cy="257.13" r="0.4" fill="#2244ff" opacity="0.55"/>
<circle cx="48.33" cy="265.79" r="0.4" fill="#2244ff" opacity="0.55"/>
<circle cx="47.23" cy="261.17" r="0.4" fill="#2244ff" opacity="0.55"/>
<circle cx="63.88" cy="259.79" r="0.4" fill="#2244ff" opacity="0.55"/>
<circle cx="46.77" cy="263.93" r="0.4" fill="#2244ff" opacity="0.55"/>
<circle cx="54.14" cy="261.38" r="0.4" fill="#2244ff" opacity="0.55"/>
<circle cx="56.36" cy="257.67" r="0.4" fill="#2244ff" opacity="0.55"/>
<circle cx="45.41" cy="266.42" r="0.4" fill="#2244ff" opacity="0.55"/>
<circle cx="46.52" cy="254.75" r="0.4" fill="#2244ff" opacity="0.55"/>
<circle cx="48.33" cy="267.62" r="0.4" fill="#2244ff" opacity="0.55"/>
<circle cx="56.77" cy="262.48" r="0.4" fill="#2244ff" opacity="0.55"/>
<circle cx="51.83" cy="265.87" r="0.4" fill="#2244ff" opacity="0.55"/>
<circle cx="45.93" cy="257.22" r="0.4" fill="#2244ff" opacity="0.55"/>
<circle cx="45.42" cy="266.62" r="0.4" fill="#2244ff" opacity="0.55"/>
<circle cx="48.23" cy="267.35" r="0.4" fill="#2244ff" opacity="0.55"/>
<circle cx="51.01" cy="261.29" r="0.4" fill="#2244ff" opacity="0.55"/>
<circle cx="54.33" cy="261.17" r="0.4" fill="#2244ff" opacity="0.55"/>
<circle cx="48.53" cy="260.75" r="0.4" fill="#2244ff" opacity="0.55"/>
<circle cx="49.62" cy="261.42" r="0.4" fill="#2244ff" opacity="0.55"/>
<circle cx="54.32" cy="266.04" r="0.4" fill="#2244ff" opacity="0.55"/>
<circle cx="48.09" cy="261.00" r="0.4" fill="#2244ff" opacity="0.55"/>
<circle cx="50.93" cy="260.04" r="0.4" fill="#2244ff" opacity="0.55"/>
<circle cx="44.44" cy="255.14" r="0.4" fill="#2244ff" opacity="0.55"/>
<circle cx="49.20" cy="263.55" r="0.4" fill="#2244ff" opacity="0.55"/>
<circle cx="53.34" cy="262.96" r="0.4" fill="#2244ff" opacity="0.55"/>
<circle cx="63.81" cy="259.18" r="0.4" fill="#2244ff" opacity="0.55"/>
<circle cx="54.97" cy="262.17" r="0.4" fill="#2244ff" opacity="0.55"/>
<circle cx="54.86" cy="264.86" r="0.4" fill="#2244ff" opacity="0.55"/>
<circle cx="39.75" cy="263.11" r="0.4" fill="#2244ff" opacity="0.55"/>
<circle cx="43.11" cy="256.42" r="0.4" fill="#2244ff" opacity="0.55"/>
<circle cx="50.60" cy="266.78" r="0.4" fill="#2244ff" opacity="0.55"/>
<circle cx="47.39" cy="263.13" r="0.4" fill="#2244ff" opacity="0.55"/>
<circle cx="57.14" cy="256.29" r="0.4" fill="#2244ff" opacity="0.55"/>
<circle cx="53.49" cy="264.04" r="0.4" fill="#2244ff" opacity="0.55"/>
<circle cx="49.14" cy="259.96" r="0.4" fill="#2244ff" opacity="0.55"/>
<circle cx="57.12" cy="265.78" r="0.4" fill="#2244ff" opacity="0.55"/>
<circle cx="52.86" cy="264.21" r="0.4" fill="#2244ff" opacity="0.55"/>
<circle cx="54.71" cy="261.99" r="0.4" fill="#2244ff" opacity="0.55"/>
<circle cx="40.84" cy="261.34" r="0.4" fill="#2244ff" opacity="0.55"/>
<circle cx="49.10" cy="259.11" r="0.4" fill="#2244ff" opacity="0.55"/>
<circle cx="48.70" cy="258.81" r="0.4" fill="#2244ff" opacity="0.55"/>
<circle cx="46.18" cy="259.85" r="0.4" fill="#2244ff" opacity="0.55"/>
<circle cx="51.26" cy="263.94" r="0.4" fill="#2244ff" opacity="0.55"/>
<circle cx="55.65" cy="263.24" r="0.4" fill="#2244ff" opacity="0.55"/>
<circle cx="50.25" cy="261.45" r="0.4" fill="#2244ff" opacity="0.55"/>
<circle cx="56.82" cy="261.74" r="0.4" fill="#2244ff" opacity="0.55"/>
<circle cx="45.27" cy="265.22" r="0.4" fill="#2244ff" opacity="0.55"/>
<circle cx="49.13" cy="267.48" r="0.4" fill="#2244ff" opacity="0.55"/>
<circle cx="43.24" cy="259.65" r="0.4" fill="#2244ff" opacity="0.55"/>
<circle cx="46.73" cy="261.41" r="0.4" fill="#2244ff" opacity="0.55"/>
<circle cx="46.11" cy="262.96" r="0.4" fill="#2244ff" opacity="0.55"/>
<circle cx="67.66" cy="264.06" r="0.4" fill="#2244ff" opacity="0.55"/>
<circle cx="52.19" cy="259.57" r="0.4" fill="#2244ff" opacity="0.55"/>
<circle cx="58.80" cy="261.27" r="0.4" fill="#2244ff" opacity="0.55"/>
<circle cx="51.23" cy="261.41" r="0.4" fill="#2244ff" opacity="0.55"/>
<circle cx="52.63" cy="261.40" r="0.4" fill="#2244ff" opacity="0.55"/>
<circle cx="41.07" cy="261.84" r="0.4" fill="#2244ff" opacity="0.55"/>
<circle cx="50.10" cy="262.25" r="0.4" fill="#2244ff" opacity="0.55"/>
<circle cx="51.36" cy="262.62" r="0.4" fill="#2244ff" opacity="0.55"/>
<circle cx="45.01" cy="261.52" r="0.4" fill="#2244ff" opacity="0.55"/>
<circle cx="45.22" cy="262.24" r="0.4" fill="#2244ff" opacity="0.55"/>
<circle cx="52.53" cy="267.87" r="0.4" fill="#2244ff" opacity="0.55"/>
<circle cx="52.61" cy="259.25" r="0.4" fill="#2244ff" opacity="0.55"/>
<circle cx="46.92" cy="263.85" r="0.4" fill="#2244ff" opacity="0.55"/>
<circle cx="44.93" cy="257.70" r="0.4" fill="#2244ff" opacity="0.55"/>
<circle cx="46.95" cy="262.43" r="0.4" fill="#2244ff" opacity="0.55"/>
<circle cx="49.89" cy="265.32" r="0.4" fill="#2244ff" opacity="0.55"/>
<circle cx="43.83" cy="260.74" r="0.4" fill="#2244ff" opacity="0.55"/>
<circle cx="46.05" cy="264.71" r="0.4" fill="#2244ff" opacity="0.55"/>
<circle cx="50.27" cy="262.29" r="0.4" fill="#2244ff" opacity="0.55"/>
<circle cx="40.34" cy="259.67" r="0.4" fill="#2244ff" opacity="0.55"/>
<circle cx="48.69" cy="264.71" r="0.4" fill="#2244ff" opacity="0.55"/>
<circle cx="46.70" cy="260.93" r="0.4" fill="#2244ff" opacity="0.55"/>
<circle cx="46.17" cy="260.85" r="0.4" fill="#2244ff" opacity="0.55"/>
<circle cx="53.13" cy="264.58" r="0.4" fill="#2244ff" opacity="0.55"/>
<circle cx="42.72" cy="267.70" r="0.4" fill="#2244ff" opacity="0.55"/>
<circle cx="43.99" cy="257.17" r="0.4" fill="#2244ff" opacity="0.55"/>
<circle cx="56.64" cy="258.70" r="0.4" fill="#2244ff" opacity="0.55"/>
<circle cx="44.62" cy="266.12" r="0.4" fill="#2244ff" opacity="0.55"/>
<circle cx="39.70" cy="263.82" r="0.4" fill="#2244ff" opacity="0.55"/>
<circle cx="37.28" cy="255.22" r="0.4" fill="#2244ff" opacity="0.55"/>
<circle cx="47.45" cy="260.72" r="0.4" fill="#2244ff" opacity="0.55"/>
<circle cx="47.35" cy="260.11" r="0.4" fill="#2244ff" opacity="0.55"/>
<circle cx="53.80" cy="261.11" r="0.4" fill="#2244ff" opacity="0.55"/>
<circle cx="47.10" cy="263.07" r="0.4" fill="#2244ff" opacity="0.55"/>
<circle cx="42.37" cy="263.31" r="0.4" fill="#2244ff" opacity="0.55"/>
<circle cx="49.07" cy="263.64" r="0.4" fill="#2244ff" opacity="0.55"/>
<circle cx="49.02" cy="261.49" r="0.4" fill="#2244ff" opacity="0.55"/>
<circle cx="45.19" cy="262.56" r="0.4" fill="#2244ff" opacity="0.55"/>
<circle cx="41.72" cy="257.73" r="0.4" fill="#2244ff" opacity="0.55"/>
<circle cx="55.16" cy="259.17" r="0.4" fill="#2244ff" opacity="0.55"/>
<circle cx="47.18" cy="261.42" r="0.4" fill="#2244ff" opacity="0.55"/>
<circle cx="50.95" cy="262.38" r="0.4" fill="#2244ff" opacity="0.55"/>
<circle cx="56.71" cy="260.19" r="0.4" fill="#2244ff" opacity="0.55"/>
<circle cx="41.69" cy="261.24" r="0.4" fill="#2244ff" opacity="0.55"/>
<circle cx="46.60" cy="255.78" r="0.4" fill="#2244ff" opacity="0.55"/>
<circle cx="41.65" cy="261.52" r="0.4" fill="#2244ff" opacity="0.55"/>
<circle cx="45.84" cy="261.12" r="0.4" fill="#2244ff" opacity="0.55"/>
<circle cx="58.17" cy="265.21" r="0.4" fill="#2244ff" opacity="0.55"/>
<circle cx="51.66" cy="259.62" r="0.4" fill="#2244ff" opacity="0.55"/>
<circle cx="52.06" cy="269.68" r="0.4" fill="#2244ff" opacity="0.55"/>
<circle cx="37.47" cy="263.79" r="0.4" fill="#2244ff" opacity="0.55"/>
<circle cx="50.54" cy="259.20" r="0.4" fill="#2244ff" opacity="0.55"/>
<circle cx="57.96" cy="267.70" r="0.4" fill="#2244ff" opacity="0.55"/>
<circle cx="55.69" cy="261.66" r="0.4" fill="#2244ff" opacity="0.55"/>
<circle cx="53.11" cy="263.07" r="0.4" fill="#2244ff" opacity="0.55"/>
<circle cx="54.91" cy="257.91" r="0.4" fill="#2244ff" opacity="0.55"/>
<circle cx="51.18" cy="260.52" r="0.4" fill="#2244ff" opacity="0.55"/>
<circle cx="58.17" cy="259.40" r="0.4" fill="#2244ff" opacity="0.55"/>
<circle cx="45.55" cy="264.09" r="0.4" fill="#2244ff" opacity="0.55"/>
<circle cx="54.82" cy="261.82" r="0.4" fill="#2244ff" opacity="0.55"/>
<circle cx="45.92" cy="268.41" r="0.4" fill="#2244ff" opacity="0.55"/>
<circle cx="43.53" cy="265.09" r="0.4" fill="#2244ff" opacity="0.55"/>
<circle cx="45.12" cy="261.76" r="0.4" fill="#2244ff" opacity="0.55"/>
<circle cx="53.11" cy="257.78" r="0.4" fill="#2244ff" opacity="0.55"/>
<circle cx="46.31" cy="265.72" r="0.4" fill="#2244ff" opacity="0.55"/>
<circle cx="50.21" cy="257.16" r="0.4" fill="#2244ff" opacity="0.55"/>
<circle cx="44.65" cy="261.28" r="0.4" fill="#2244ff" opacity="0.55"/>
<circle cx="53.82" cy="259.09" r="0.4" fill="#2244ff" opacity="0.55"/>
<circle cx="50.73" cy="261.00" r="0.4" fill="#2244ff" opacity="0.55"/>
<circle cx="54.59" cy="267.16" r="0.4" fill="#2244ff" opacity="0.55"/>
<circle cx="51.42" cy="261.38" r="0.4" fill="#2244ff" opacity="0.55"/>
<circle cx="47.21" cy="260.87" r="0.4" fill="#2244ff" opacity="0.55"/>
<circle cx="43.72" cy="260.59" r="0.4" fill="#2244ff" opacity="0.55"/>
<circle cx="48.45" cy="262.66" r="0.4" fill="#2244ff" opacity="0.55"/>
<circle cx="53.20" cy="266.10" r="0.4" fill="#2244ff" opacity="0.55"/>
<circle cx="52.75" cy="267.21" r="0.4" fill="#2244ff" opacity="0.55"/>
<circle cx="50.71" cy="257.63" r="0.4" fill="#2244ff" opacity="0.55"/>
<circle cx="53.26" cy="260.88" r="0.4" fill="#2244ff" opacity="0.55"/>
<circle cx="53.60" cy="256.56" r="0.4" fill="#2244ff" opacity="0.55"/>
<circle cx="55.06" cy="261.45" r="0.4" fill="#2244ff" opacity="0.55"/>
<circle cx="47.96" cy="261.20" r="0.4" fill="#2244ff" opacity="0.55"/>
<circle cx="46.31" cy="260.00" r="0.4" fill="#2244ff" opacity="0.55"/>
<circle cx="48.05" cy="259.36" r="0.4" fill="#2244ff" opacity="0.55"/>
<circle cx="61.34" cy="259.20" r="0.4" fill="#2244ff" opacity="0.55"/>
<circle cx="47.94" cy="260.87" r="0.4" fill="#2244ff" opacity="0.55"/>
<circle cx="52.75" cy="257.55" r="0.4" fill="#2244ff" opacity="0.55"/>
<circle cx="51.63" cy="263.25" r="0.4" fill="#2244ff" opacity="0.55"/>
<circle cx="57.27" cy="258.62" r="0.4" fill="#2244ff" opacity="0.55"/>
<circle cx="42.38" cy="262.01" r="0.4" fill="#2244ff" opacity="0.55"/>
<circle cx="49.78" cy="260.76" r="0.4" fill="#2244ff" opacity="0.55"/>
<circle cx="48.92" cy="262.91" r="0.4" fill="#2244ff" opacity="0.55"/>
<circle cx="52.38" cy="262.70" r="0.4" fill="#2244ff" opacity="0.55"/>
<circle cx="52.48" cy="267.72" r="0.4" fill="#2244ff" opacity="0.55"/>
<circle cx="53.31" cy="258.32" r="0.4" fill="#2244ff" opacity="0.55"/>
<circle cx="43.48" cy="263.36" r="0.4" fill="#2244ff" opacity="0.55"/>
<circle cx="48.60" cy="262.46" r="0.4" fill="#2244ff" opacity="0.55"/>
<circle cx="56.89" cy="263.29" r="0.4" fill="#2244ff" opacity="0.55"/>
<circle cx="47.43" cy="263.78" r="0.4" fill="#2244ff" opacity="0.55"/>
<circle cx="43.13" cy="267.07" r="0.4" fill="#2244ff" opacity="0.55"/>
<circle cx="47.49" cy="261.63" r="0.4" fill="#2244ff" opacity="0.55"/>
<circle cx="40.32" cy="264.58" r="0.4" fill="#2244ff" opacity="0.55"/>
<circle cx="58.39" cy="263.33" r="0.4" fill="#2244ff" opacity="0.55"/>
<circle cx="42.26" cy="261.13" r="0.4" fill="#2244ff" opacity="0.55"/>
<circle cx="52.62" cy="260.60" r="0.4" fill="#2244ff" opacity="0.55"/>
<circle cx="41.07" cy="255.87" r="0.4" fill="#2244ff" opacity="0.55"/>
<circle cx="52.44" cy="269.25" r="0.4" fill="#2244ff" opacity="0.55"/>
<circle cx="43.04" cy="260.02" r="0.4" fill="#2244ff" opacity="0.55"/>
<circle cx="48.24" cy="264.20" r="0.4" fill="#2244ff" opacity="0.55"/>
<circle cx="50.52" cy="262.32" r="0.4" fill="#2244ff" opacity="0.55"/>
<circle cx="47.47" cy="264.00" r="0.4" fill="#2244ff" opacity="0.55"/>
<circle cx="49.34" cy="261.92" r="0.4" fill="#2244ff" opacity="0.55"/>
<circle cx="52.46" cy="259.07" r="0.4" fill="#2244ff" opacity="0.55"/>
<circle cx="49.95" cy="256.62" r="0.4" fill="#2244ff" opacity="0.55"/>
<circle cx="37.65" cy="261.63" r="0.4" fill="#2244ff" opacity="0.55"/>
<circle cx="50.15" cy="263.14" r="0.4" fill="#2244ff" opacity="0.55"/>
<circle cx="51.76" cy="259.72" r="0.4" fill="#2244ff" opacity="0.55"/>
<circle cx="44.64" cy="266.63" r="0.4" fill="#2244ff" opacity="0.55"/>
<circle cx="51.02" cy="257.31" r="0.4" fill="#2244ff" opacity="0.55"/>
<circle cx="46.69" cy="266.55" r="0.4" fill="#2244ff" opacity="0.55"/>
<circle cx="52.94" cy="256.68" r="0.4" fill="#2244ff" opacity="0.55"/>
<circle cx="39.42" cy="264.45" r="0.4" fill="#2244ff" opacity="0.55"/>
<circle cx="53.59" cy="265.04" r="0.4" fill="#2244ff" opacity="0.55"/>
<circle cx="53.98" cy="261.33" r="0.4" fill="#2244ff" opacity="0.55"/>
<circle cx="42.54" cy="267.41" r="0.4" fill="#2244ff" opacity="0.55"/>
<circle cx="47.62" cy="264.62" r="0.4" fill="#2244ff" opacity="0.55"/>
<circle cx="53.53" cy="261.57" r="0.4" fill="#2244ff" opacity="0.55"/>
<circle cx="56.36" cy="265.66" r="0.4" fill="#2244ff" opacity="0.55"/>
<circle cx="55.77" cy="261.30" r="0.4" fill="#2244ff" opacity="0.55"/>
<circle cx="50.59" cy="265.07" r="0.4" fill="#2244ff" opacity="0.55"/>
<circle cx="47.55" cy="261.97" r="0.4" fill="#2244ff" opacity="0.55"/>
<circle cx="58.05" cy="263.75" r="0.4" fill="#2244ff" opacity="0.55"/>
<circle cx="54.68" cy="264.10" r="0.4" fill="#2244ff" opacity="0.55"/>
<circle cx="43.14" cy="258.88" r="0.4" fill="#2244ff" opacity="0.55"/>
<circle cx="51.85" cy="262.96" r="0.4" fill="#2244ff" opacity="0.55"/>
<circle cx="43.22" cy="258.88" r="0.4" fill="#2244ff" opacity="0.55"/>
<circle cx="51.79" cy="261.56" r="0.4" fill="#2244ff" opacity="0.55"/>
<circle cx="54.65" cy="260.58" r="0.4" fill="#2244ff" opacity="0.55"/>
<circle cx="46.00" cy="259.64" r="0.4" fill="#2244ff" opacity="0.55"/>
<circle cx="49.36" cy="261.85" r="0.4" fill="#2244ff" opacity="0.55"/>
<circle cx="60.27" cy="263.76" r="0.4" fill="#2244ff" opacity="0.55"/>
<circle cx="39.52" cy="268.71" r="0.4" fill="#2244ff" opacity="0.55"/>
<circle cx="49.59" cy="260.40" r="0.4" fill="#2244ff" opacity="0.55"/>
<circle cx="55.35" cy="259.74" r="0.4" fill="#2244ff" opacity="0.55"/>
<circle cx="47.16" cy="259.62" r="0.4" fill="#2244ff" opacity="0.55"/>
<circle cx="43.58" cy="259.71" r="0.4" fill="#2244ff" opacity="0.55"/>
<circle cx="48.55" cy="263.29" r="0.4" fill="#2244ff" opacity="0.55"/>
<circle cx="46.24" cy="261.85" r="0.4" fill="#2244ff" opacity="0.55"/>
<circle cx="44.08" cy="263.84" r="0.4" fill="#2244ff" opacity="0.55"/>
<circle cx="51.23" cy="262.67" r="0.4" fill="#2244ff" opacity="0.55"/>
<circle cx="49.99" cy="263.60" r="0.4" fill="#2244ff" opacity="0.55"/>
<circle cx="48.31" cy="262.67" r="0.4" fill="#2244ff" opacity="0.55"/>
<circle cx="46.81" cy="257.07" r="0.4" fill="#2244ff" opacity="0.55"/>
<circle cx="50.78" cy="260.25" r="0.4" fill="#2244ff" opacity="0.55"/>
<circle cx="54.98" cy="266.78" r="0.4" fill="#2244ff" opacity="0.55"/>
<circle cx="52.88" cy="263.32" r="0.4" fill="#2244ff" opacity="0.55"/>
<circle cx="37.77" cy="265.48" r="0.4" fill="#2244ff" opacity="0.55"/>
<circle cx="48.80" cy="259.88" r="0.4" fill="#2244ff" opacity="0.55"/>
<circle cx="51.46" cy="266.21" r="0.4" fill="#2244ff" opacity="0.55"/>
<circle cx="54.65" cy="261.86" r="0.4" fill="#2244ff" opacity="0.55"/>
<circle cx="44.31" cy="262.32" r="0.4" fill="#2244ff" opacity="0.55"/>
<circle cx="48.62" cy="264.50" r="0.4" fill="#2244ff" opacity="0.55"/>
<circle cx="47.61" cy="265.47" r="0.4" fill="#2244ff" opacity="0.55"/>
<circle cx="56.07" cy="262.33" r="0.4" fill="#2244ff" opacity="0.55"/>
<circle cx="55.64" cy="261.29" r="0.4" fill="#2244ff" opacity="0.55"/>
<circle cx="47.57" cy="261.03" r="0.4" fill="#2244ff" opacity="0.55"/>
<circle cx="53.21" cy="263.95" r="0.4" fill="#2244ff" opacity="0.55"/>
<circle cx="47.02" cy="260.59" r="0.4" fill="#2244ff" opacity="0.55"/>
<circle cx="51.30" cy="261.38" r="0.4" fill="#2244ff" opacity="0.55"/>
<circle cx="55.96" cy="261.13" r="0.4" fill="#2244ff" opacity="0.55"/>
<circle cx="52.48" cy="264.90" r="0.4" fill="#2244ff" opacity="0.55"/>
<circle cx="47.39" cy="267.18" r="0.4" fill="#2244ff" opacity="0.55"/>
<circle cx="47.42" cy="267.93" r="0.4" fill="#2244ff" opacity="0.55"/>
<circle cx="52.77" cy="258.92" r="0.4" fill="#2244ff" opacity="0.55"/>
<circle cx="47.03" cy="262.70" r="0.4" fill="#2244ff" opacity="0.55"/>
<circle cx="56.98" cy="257.84" r="0.4" fill="#2244ff" opacity="0.55"/>
<circle cx="50.89" cy="264.02" r="0.4" fill="#2244ff" opacity="0.55"/>
<circle cx="47.26" cy="267.12" r="0.4" fill="#2244ff" opacity="0.55"/>
<circle cx="49.86" cy="263.10" r="0.4" fill="#2244ff" opacity="0.55"/>
<circle cx="54.64" cy="260.34" r="0.4" fill="#2244ff" opacity="0.55"/>
<circle cx="54.54" cy="260.80" r="0.4" fill="#2244ff" opacity="0.55"/>
<circle cx="43.33" cy="268.69" r="0.4" fill="#2244ff" opacity="0.55"/>
<circle cx="42.58" cy="260.19" r="0.4" fill="#2244ff" opacity="0.55"/>
<circle cx="50.62" cy="264.09" r="0.4" fill="#2244ff" opacity="0.55"/>
<circle cx="52.18" cy="262.06" r="0.4" fill="#2244ff" opacity="0.55"/>
<circle cx="51.83" cy="262.29" r="0.4" fill="#2244ff" opacity="0.55"/>
<circle cx="47.06" cy="264.28" r="0.4" fill="#2244ff" opacity="0.55"/>
<circle cx="53.96" cy="264.17" r="0.4" fill="#2244ff" opacity="0.55"/>
<circle cx="49.37" cy="264.27" r="0.4" fill="#2244ff" opacity="0.55"/>
<circle cx="46.94" cy="263.88" r="0.4" fill="#2244ff" opacity="0.55"/>
<circle cx="55.84" cy="260.28" r="0.4" fill="#2244ff" opacity="0.55"/>
<circle cx="50.75" cy="263.17" r="0.4" fill="#2244ff" opacity="0.55"/>
<circle cx="46.33" cy="263.16" r="0.4" fill="#2244ff" opacity="0.55"/>
<circle cx="43.70" cy="265.28" r="0.4" fill="#2244ff" opacity="0.55"/>
<circle cx="51.90" cy="262.52" r="0.4" fill="#2244ff" opacity="0.55"/>
<circle cx="47.94" cy="268.17" r="0.4" fill="#2244ff" opacity="0.55"/>
<circle cx="55.34" cy="264.90" r="0.4" fill="#2244ff" opacity="0.55"/>
<circle cx="55.63" cy="260.86" r="0.4" fill="#2244ff" opacity="0.55"/>
<circle cx="44.49" cy="255.27" r="0.4" fill="#2244ff" opacity="0.55"/>
<circle cx="56.91" cy="262.73" r="0.4" fill="#2244ff" opacity="0.55"/>
<circle cx="48.90" cy="262.69" r="0.4" fill="#2244ff" opacity="0.55"/>
<circle cx="55.08" cy="265.09" r="0.4" fill="#2244ff" opacity="0.55"/>
<circle cx="57.83" cy="266.09" r="0.4" fill="#2244ff" opacity="0.55"/>
<circle cx="48.92" cy="259.06" r="0.4" fill="#2244ff" opacity="0.55"/>
<circle cx="55.38" cy="261.91" r="0.4" fill="#2244ff" opacity="0.55"/>
<circle cx="48.50" cy="259.58" r="0.4" fill="#2244ff" opacity="0.55"/>
<circle cx="51.50" cy="262.36" r="0.4" fill="#2244ff" opacity="0.55"/>
<circle cx="44.20" cy="258.08" r="0.4" fill="#2244ff" opacity="0.55"/>
<circle cx="50.79" cy="261.33" r="0.4" fill="#2244ff" opacity="0.55"/>
<circle cx="46.02" cy="258.89" r="0.4" fill="#2244ff" opacity="0.55"/>
<circle cx="56.58" cy="259.54" r="0.4" fill="#2244ff" opacity="0.55"/>
<circle cx="49.82" cy="265.21" r="0.4" fill="#2244ff" opacity="0.55"/>
<circle cx="48.58" cy="263.11" r="0.4" fill="#2244ff" opacity="0.55"/>
<circle cx="58.03" cy="265.28" r="0.4" fill="#2244ff" opacity="0.55"/>
<circle cx="54.59" cy="258.70" r="0.4" fill="#2244ff" opacity="0.55"/>
<circle cx="37.67" cy="262.27" r="0.4" fill="#2244ff" opacity="0.55"/>
<circle cx="50.07" cy="263.51" r="0.4" fill="#2244ff" opacity="0.55"/>
<circle cx="48.12" cy="266.94" r="0.4" fill="#2244ff" opacity="0.55"/>
<circle cx="49.27" cy="265.84" r="0.4" fill="#2244ff" opacity="0.55"/>
<circle cx="47.38" cy="267.55" r="0.4" fill="#2244ff" opacity="0.55"/>
<circle cx="47.72" cy="259.92" r="0.4" fill="#2244ff" opacity="0.55"/>
<circle cx="52.70" cy="260.69" r="0.4" fill="#2244ff" opacity="0.55"/>
<circle cx="52.83" cy="263.11" r="0.4" fill="#2244ff" opacity="0.55"/>
<circle cx="50.62" cy="264.39" r="0.4" fill="#2244ff" opacity="0.55"/>
<circle cx="52.53" cy="261.89" r="0.4" fill="#2244ff" opacity="0.55"/>
<circle cx="49.01" cy="260.76" r="0.4" fill="#2244ff" opacity="0.55"/>
<circle cx="47.15" cy="260.90" r="0.4" fill="#2244ff" opacity="0.55"/>
<circle cx="53.87" cy="256.53" r="0.4" fill="#2244ff" opacity="0.55"/>
<circle cx="42.77" cy="262.91" r="0.4" fill="#2244ff" opacity="0.55"/>
<circle cx="45.51" cy="257.24" r="0.4" fill="#2244ff" opacity="0.55"/>
<circle cx="47.36" cy="264.48" r="0.4" fill="#2244ff" opacity="0.55"/>
<circle cx="49.74" cy="256.60" r="0.4" fill="#2244ff" opacity="0.55"/>
<circle cx="51.56" cy="259.61" r="0.4" fill="#2244ff" opacity="0.55"/>
<circle cx="57.42" cy="261.01" r="0.4" fill="#2244ff" opacity="0.55"/>
<circle cx="47.29" cy="263.89" r="0.4" fill="#2244ff" opacity="0.55"/>
<circle cx="46.71" cy="263.81" r="0.4" fill="#2244ff" opacity="0.55"/>
<circle cx="47.92" cy="259.96" r="0.4" fill="#2244ff" opacity="0.55"/>
<circle cx="55.87" cy="264.50" r="0.4" fill="#2244ff" opacity="0.55"/>
<circle cx="52.79" cy="264.94" r="0.4" fill="#2244ff" opacity="0.55"/>
<circle cx="59.68" cy="266.18" r="0.4" fill="#2244ff" opacity="0.55"/>
<circle cx="42.47" cy="259.56" r="0.4" fill="#2244ff" opacity="0.55"/>
<circle cx="52.59" cy="261.38" r="0.4" fill="#2244ff" opacity="0.55"/>
<circle cx="51.27" cy="262.78" r="0.4" fill="#2244ff" opacity="0.55"/>
<circle cx="52.92" cy="266.47" r="0.4" fill="#2244ff" opacity="0.55"/>
<circle cx="49.55" cy="262.41" r="0.4" fill="#2244ff" opacity="0.55"/>
<circle cx="56.56" cy="265.59" r="0.4" fill="#2244ff" opacity="0.55"/>
<circle cx="50.45" cy="261.19" r="0.4" fill="#2244ff" opacity="0.55"/>
<circle cx="47.23" cy="262.67" r="0.4" fill="#2244ff" opacity="0.55"/>
<circle cx="46.09" cy="258.56" r="0.4" fill="#2244ff" opacity="0.55"/>
<circle cx="51.54" cy="261.23" r="0.4" fill="#2244ff" opacity="0.55"/>
<circle cx="49.14" cy="263.94" r="0.4" fill="#2244ff" opacity="0.55"/>
<circle cx="45.36" cy="262.10" r="0.4" fill="#2244ff" opacity="0.55"/>
<circle cx="53.74" cy="262.96" r="0.4" fill="#2244ff" opacity="0.55"/>
<circle cx="38.97" cy="256.77" r="0.4" fill="#2244ff" opacity="0.55"/>
<circle cx="47.01" cy="264.32" r="0.4" fill="#2244ff" opacity="0.55"/>
<circle cx="59.65" cy="258.31" r="0.4" fill="#2244ff" opacity="0.55"/>
<circle cx="60.37" cy="261.27" r="0.4" fill="#2244ff" opacity="0.55"/>
<circle cx="51.13" cy="255.65" r="0.4" fill="#2244ff" opacity="0.55"/>
<circle cx="51.59" cy="264.23" r="0.4" fill="#2244ff" opacity="0.55"/>
<circle cx="48.47" cy="263.98" r="0.4" fill="#2244ff" opacity="0.55"/>
<circle cx="46.23" cy="263.93" r="0.4" fill="#2244ff" opacity="0.55"/>
<circle cx="41.63" cy="266.40" r="0.4" fill="#2244ff" opacity="0.55"/>
<circle cx="43.18" cy="267.47" r="0.4" fill="#2244ff" opacity="0.55"/>
<circle cx="49.91" cy="262.61" r="0.4" fill="#2244ff" opacity="0.55"/>
<circle cx="44.32" cy="265.56" r="0.4" fill="#2244ff" opacity="0.55"/>
<circle cx="48.55" cy="260.72" r="0.4" fill="#2244ff" opacity="0.55"/>
<circle cx="58.24" cy="259.05" r="0.4" fill="#2244ff" opacity="0.55"/>
<circle cx="45.54" cy="263.55" r="0.4" fill="#2244ff" opacity="0.55"/>
<circle cx="49.80" cy="264.89" r="0.4" fill="#2244ff" opacity="0.55"/>
<circle cx="48.63" cy="261.97" r="0.4" fill="#2244ff" opacity="0.55"/>
<circle cx="51.57" cy="265.46" r="0.4" fill="#2244ff" opacity="0.55"/>
<circle cx="46.55" cy="263.91" r="0.4" fill="#2244ff" opacity="0.55"/>
<circle cx="55.24" cy="263.41" r="0.4" fill="#2244ff" opacity="0.55"/>
<circle cx="39.67" cy="263.43" r="0.4" fill="#2244ff" opacity="0.55"/>
<circle cx="56.03" cy="264.15" r="0.4" fill="#2244ff" opacity="0.55"/>
<circle cx="38.68" cy="262.68" r="0.4" fill="#2244ff" opacity="0.55"/>
<circle cx="47.48" cy="262.30" r="0.4" fill="#2244ff" opacity="0.55"/>
<circle cx="38.63" cy="261.30" r="0.4" fill="#2244ff" opacity="0.55"/>
<circle cx="48.79" cy="263.21" r="0.4" fill="#2244ff" opacity="0.55"/>
<circle cx="47.58" cy="263.79" r="0.4" fill="#2244ff" opacity="0.55"/>
<circle cx="51.83" cy="263.47" r="0.4" fill="#2244ff" opacity="0.55"/>
<circle cx="52.40" cy="263.43" r="0.4" fill="#2244ff" opacity="0.55"/>
<circle cx="54.72" cy="266.77" r="0.4" fill="#2244ff" opacity="0.55"/>
<circle cx="45.73" cy="266.22" r="0.4" fill="#2244ff" opacity="0.55"/>
<circle cx="46.59" cy="260.11" r="0.4" fill="#2244ff" opacity="0.55"/>
<circle cx="47.51" cy="260.09" r="0.4" fill="#2244ff" opacity="0.55"/>
<circle cx="55.96" cy="262.44" r="0.4" fill="#2244ff" opacity="0.55"/>
<circle cx="47.74" cy="263.47" r="0.4" fill="#2244ff" opacity="0.55"/>
<circle cx="52.87" cy="256.83" r="0.4" fill="#2244ff" opacity="0.55"/>
<circle cx="54.73" cy="261.38" r="0.4" fill="#2244ff" opacity="0.55"/>
<circle cx="47.51" cy="261.42" r="0.4" fill="#2244ff" opacity="0.55"/>
<circle cx="59.57" cy="261.31" r="0.4" fill="#2244ff" opacity="0.55"/>
<circle cx="40.73" cy="261.26" r="0.4" fill="#2244ff" opacity="0.55"/>
<circle cx="48.67" cy="265.64" r="0.4" fill="#2244ff" opacity="0.55"/>
<circle cx="48.17" cy="262.72" r="0.4" fill="#2244ff" opacity="0.55"/>
<circle cx="41.27" cy="257.49" r="0.4" fill="#2244ff" opacity="0.55"/>
<circle cx="50.59" cy="260.92" r="0.4" fill="#2244ff" opacity="0.55"/>
<circle cx="49.25" cy="264.56" r="0.4" fill="#2244ff" opacity="0.55"/>
<circle cx="45.27" cy="261.23" r="0.4" fill="#2244ff" opacity="0.55"/>
<circle cx="55.80" cy="265.99" r="0.4" fill="#2244ff" opacity="0.55"/>
<circle cx="50.49" cy="260.95" r="0.4" fill="#2244ff" opacity="0.55"/>
<circle cx="59.53" cy="263.59" r="0.4" fill="#2244ff" opacity="0.55"/>
<circle cx="59.34" cy="257.05" r="0.4" fill="#2244ff" opacity="0.55"/>
<circle cx="44.24" cy="263.65" r="0.4" fill="#2244ff" opacity="0.55"/>
<circle cx="50.42" cy="264.95" r="0.4" fill="#2244ff" opacity="0.55"/>
<circle cx="41.39" cy="261.12" r="0.4" fill="#2244ff" opacity="0.55"/>
<circle cx="54.63" cy="265.70" r="0.4" fill="#2244ff" opacity="0.55"/>
<circle cx="51.18" cy="260.19" r="0.4" fill="#2244ff" opacity="0.55"/>
<circle cx="52.02" cy="267.79" r="0.4" fill="#2244ff" opacity="0.55"/>
<circle cx="56.17" cy="261.88" r="0.4" fill="#2244ff" opacity="0.55"/>
<circle cx="55.73" cy="260.62" r="0.4" fill="#2244ff" opacity="0.55"/>
<circle cx="49.23" cy="266.69" r="0.4" fill="#2244ff" opacity="0.55"/>
<circle cx="43.26" cy="263.79" r="0.4" fill="#2244ff" opacity="0.55"/>
<circle cx="55.26" cy="261.75" r="0.4" fill="#2244ff" opacity="0.55"/>
<circle cx="56.54" cy="267.18" r="0.4" fill="#2244ff" opacity="0.55"/>
<circle cx="46.81" cy="261.99" r="0.4" fill="#2244ff" opacity="0.55"/>
<circle cx="54.35" cy="266.27" r="0.4" fill="#2244ff" opacity="0.55"/>
<circle cx="50.72" cy="261.89" r="0.4" fill="#2244ff" opacity="0.55"/>
<circle cx="49.09" cy="263.46" r="0.4" fill="#2244ff" opacity="0.55"/>
<circle cx="52.22" cy="258.82" r="0.4" fill="#2244ff" opacity="0.55"/>
<circle cx="47.81" cy="264.67" r="0.4" fill="#2244ff" opacity="0.55"/>
<circle cx="48.24" cy="264.47" r="0.4" fill="#2244ff" opacity="0.55"/>
<circle cx="47.70" cy="262.89" r="0.4" fill="#2244ff" opacity="0.55"/>
<circle cx="48.94" cy="262.81" r="0.4" fill="#2244ff" opacity="0.55"/>
<circle cx="44.21" cy="262.47" r="0.4" fill="#2244ff" opacity="0.55"/>
<circle cx="49.53" cy="256.66" r="0.4" fill="#2244ff" opacity="0.55"/>
<circle cx="53.88" cy="261.65" r="0.4" fill="#2244ff" opacity="0.55"/>
<circle cx="43.74" cy="266.73" r="0.4" fill="#2244ff" opacity="0.55"/>
<circle cx="52.10" cy="262.84" r="0.4" fill="#2244ff" opacity="0.55"/>
<circle cx="48.19" cy="257.68" r="0.4" fill="#2244ff" opacity="0.55"/>
<circle cx="42.14" cy="263.64" r="0.4" fill="#2244ff" opacity="0.55"/>
<circle cx="53.65" cy="268.59" r="0.4" fill="#2244ff" opacity="0.55"/>
<circle cx="52.85" cy="262.71" r="0.4" fill="#2244ff" opacity="0.55"/>
<circle cx="57.06" cy="263.76" r="0.4" fill="#3355ff" opacity="0.5"/>
<circle cx="56.79" cy="265.27" r="0.4" fill="#3355ff" opacity="0.5"/>
<circle cx="62.23" cy="264.63" r="0.4" fill="#3355ff" opacity="0.5"/>
<circle cx="56.90" cy="264.77" r="0.4" fill="#3355ff" opacity="0.5"/>
<circle cx="56.75" cy="256.88" r="0.4" fill="#3355ff" opacity="0.5"/>
<circle cx="56.63" cy="257.85" r="0.4" fill="#3355ff" opacity="0.5"/>
<circle cx="54.19" cy="262.26" r="0.4" fill="#3355ff" opacity="0.5"/>
<circle cx="61.73" cy="262.93" r="0.4" fill="#3355ff" opacity="0.5"/>
<circle cx="54.13" cy="259.23" r="0.4" fill="#3355ff" opacity="0.5"/>
<circle cx="68.00" cy="260.88" r="0.4" fill="#3355ff" opacity="0.5"/>
<circle cx="60.59" cy="258.28" r="0.4" fill="#3355ff" opacity="0.5"/>
<circle cx="53.84" cy="261.72" r="0.4" fill="#3355ff" opacity="0.5"/>
<circle cx="53.98" cy="265.23" r="0.4" fill="#3355ff" opacity="0.5"/>
<circle cx="60.94" cy="261.52" r="0.4" fill="#3355ff" opacity="0.5"/>
<circle cx="70.69" cy="260.39" r="0.4" fill="#3355ff" opacity="0.5"/>
<circle cx="55.34" cy="262.15" r="0.4" fill="#3355ff" opacity="0.5"/>
<circle cx="63.02" cy="256.65" r="0.4" fill="#3355ff" opacity="0.5"/>
<circle cx="61.32" cy="266.15" r="0.4" fill="#3355ff" opacity="0.5"/>
<circle cx="55.67" cy="260.12" r="0.4" fill="#3355ff" opacity="0.5"/>
<circle cx="55.73" cy="265.94" r="0.4" fill="#3355ff" opacity="0.5"/>
<circle cx="56.25" cy="264.09" r="0.4" fill="#3355ff" opacity="0.5"/>
<circle cx="54.52" cy="264.56" r="0.4" fill="#3355ff" opacity="0.5"/>
<circle cx="55.49" cy="265.30" r="0.4" fill="#3355ff" opacity="0.5"/>
<circle cx="53.30" cy="262.13" r="0.4" fill="#3355ff" opacity="0.5"/>
<circle cx="63.35" cy="263.52" r="0.4" fill="#3355ff" opacity="0.5"/>
<circle cx="59.16" cy="266.59" r="0.4" fill="#3355ff" opacity="0.5"/>
<circle cx="62.74" cy="262.46" r="0.4" fill="#3355ff" opacity="0.5"/>
<circle cx="60.53" cy="265.21" r="0.4" fill="#3355ff" opacity="0.5"/>
<circle cx="66.51" cy="262.13" r="0.4" fill="#3355ff" opacity="0.5"/>
<circle cx="59.83" cy="261.32" r="0.4" fill="#3355ff" opacity="0.5"/>
<circle cx="53.91" cy="262.12" r="0.4" fill="#3355ff" opacity="0.5"/>
<circle cx="53.84" cy="264.23" r="0.4" fill="#3355ff" opacity="0.5"/>
<circle cx="56.75" cy="259.03" r="0.4" fill="#3355ff" opacity="0.5"/>
<circle cx="59.98" cy="259.99" r="0.4" fill="#3355ff" opacity="0.5"/>
<circle cx="58.78" cy="268.46" r="0.4" fill="#3355ff" opacity="0.5"/>
<circle cx="68.47" cy="266.19" r="0.4" fill="#3355ff" opacity="0.5"/>
<circle cx="63.93" cy="268.14" r="0.4" fill="#3355ff" opacity="0.5"/>
<circle cx="58.39" cy="266.56" r="0.4" fill="#3355ff" opacity="0.5"/>
<circle cx="63.94" cy="263.83" r="0.4" fill="#3355ff" opacity="0.5"/>
<circle cx="55.03" cy="260.25" r="0.4" fill="#3355ff" opacity="0.5"/>
<circle cx="61.33" cy="269.66" r="0.4" fill="#3355ff" opacity="0.5"/>
<circle cx="57.20" cy="268.01" r="0.4" fill="#3355ff" opacity="0.5"/>
<circle cx="71.98" cy="263.21" r="0.4" fill="#3355ff" opacity="0.5"/>
<circle cx="57.25" cy="268.47" r="0.4" fill="#3355ff" opacity="0.5"/>
<circle cx="60.32" cy="267.30" r="0.4" fill="#3355ff" opacity="0.5"/>
<circle cx="58.17" cy="259.18" r="0.4" fill="#3355ff" opacity="0.5"/>
<circle cx="60.37" cy="269.64" r="0.4" fill="#3355ff" opacity="0.5"/>
<circle cx="58.63" cy="262.28" r="0.4" fill="#3355ff" opacity="0.5"/>
<circle cx="59.10" cy="258.39" r="0.4" fill="#3355ff" opacity="0.5"/>
<circle cx="53.69" cy="264.16" r="0.4" fill="#3355ff" opacity="0.5"/>
<circle cx="55.78" cy="263.57" r="0.4" fill="#3355ff" opacity="0.5"/>
<circle cx="63.88" cy="257.67" r="0.4" fill="#3355ff" opacity="0.5"/>
<circle cx="63.00" cy="263.51" r="0.4" fill="#3355ff" opacity="0.5"/>
<circle cx="54.44" cy="257.14" r="0.4" fill="#3355ff" opacity="0.5"/>
<circle cx="57.72" cy="262.77" r="0.4" fill="#3355ff" opacity="0.5"/>
<circle cx="53.03" cy="262.13" r="0.4" fill="#3355ff" opacity="0.5"/>
<circle cx="63.71" cy="265.71" r="0.4" fill="#3355ff" opacity="0.5"/>
<circle cx="54.32" cy="261.61" r="0.4" fill="#3355ff" opacity="0.5"/>
<circle cx="59.37" cy="263.71" r="0.4" fill="#3355ff" opacity="0.5"/>
<circle cx="56.19" cy="265.16" r="0.4" fill="#3355ff" opacity="0.5"/>
<circle cx="56.61" cy="260.08" r="0.4" fill="#3355ff" opacity="0.5"/>
<circle cx="55.22" cy="260.75" r="0.4" fill="#3355ff" opacity="0.5"/>
<circle cx="57.16" cy="264.31" r="0.4" fill="#3355ff" opacity="0.5"/>
<circle cx="56.08" cy="259.90" r="0.4" fill="#3355ff" opacity="0.5"/>
<circle cx="64.53" cy="258.34" r="0.4" fill="#3355ff" opacity="0.5"/>
<circle cx="58.26" cy="257.92" r="0.4" fill="#3355ff" opacity="0.5"/>
<circle cx="59.13" cy="263.58" r="0.4" fill="#3355ff" opacity="0.5"/>
<circle cx="67.17" cy="262.44" r="0.4" fill="#3355ff" opacity="0.5"/>
<circle cx="55.11" cy="264.48" r="0.4" fill="#3355ff" opacity="0.5"/>
<circle cx="72.95" cy="261.43" r="0.4" fill="#3355ff" opacity="0.5"/>
<circle cx="71.30" cy="261.49" r="0.4" fill="#3355ff" opacity="0.5"/>
<circle cx="61.43" cy="266.23" r="0.4" fill="#3355ff" opacity="0.5"/>
<circle cx="57.19" cy="267.50" r="0.4" fill="#3355ff" opacity="0.5"/>
<circle cx="55.91" cy="263.69" r="0.4" fill="#3355ff" opacity="0.5"/>
<circle cx="60.63" cy="260.17" r="0.4" fill="#3355ff" opacity="0.5"/>
<circle cx="60.19" cy="263.45" r="0.4" fill="#3355ff" opacity="0.5"/>
<circle cx="55.75" cy="263.47" r="0.4" fill="#3355ff" opacity="0.5"/>
<circle cx="55.39" cy="270.87" r="0.4" fill="#3355ff" opacity="0.5"/>
<circle cx="61.00" cy="263.56" r="0.4" fill="#3355ff" opacity="0.5"/>
<circle cx="60.11" cy="266.28" r="0.4" fill="#3355ff" opacity="0.5"/>
<circle cx="64.68" cy="261.20" r="0.4" fill="#3355ff" opacity="0.5"/>
<circle cx="54.12" cy="263.63" r="0.4" fill="#3355ff" opacity="0.5"/>
<circle cx="53.54" cy="261.25" r="0.4" fill="#3355ff" opacity="0.5"/>
<circle cx="53.30" cy="266.98" r="0.4" fill="#3355ff" opacity="0.5"/>
<circle cx="56.26" cy="261.66" r="0.4" fill="#3355ff" opacity="0.5"/>
<circle cx="55.21" cy="262.64" r="0.4" fill="#3355ff" opacity="0.5"/>
<circle cx="66.96" cy="266.24" r="0.4" fill="#3355ff" opacity="0.5"/>
<circle cx="54.89" cy="262.92" r="0.4" fill="#3355ff" opacity="0.5"/>
<circle cx="53.86" cy="260.91" r="0.4" fill="#3355ff" opacity="0.5"/>
<circle cx="56.00" cy="264.54" r="0.4" fill="#3355ff" opacity="0.5"/>
<circle cx="55.11" cy="265.06" r="0.4" fill="#3355ff" opacity="0.5"/>
<circle cx="55.21" cy="260.84" r="0.4" fill="#3355ff" opacity="0.5"/>
<circle cx="59.70" cy="263.45" r="0.4" fill="#3355ff" opacity="0.5"/>
<circle cx="57.74" cy="262.16" r="0.4" fill="#3355ff" opacity="0.5"/>
<circle cx="60.67" cy="264.60" r="0.4" fill="#3355ff" opacity="0.5"/>
<circle cx="66.87" cy="267.32" r="0.4" fill="#3355ff" opacity="0.5"/>
<circle cx="58.03" cy="263.70" r="0.4" fill="#3355ff" opacity="0.5"/>
<circle cx="56.68" cy="257.31" r="0.4" fill="#3355ff" opacity="0.5"/>
<circle cx="64.93" cy="262.59" r="0.4" fill="#3355ff" opacity="0.5"/>
<circle cx="54.32" cy="262.95" r="0.4" fill="#3355ff" opacity="0.5"/>
<circle cx="54.61" cy="263.30" r="0.4" fill="#3355ff" opacity="0.5"/>
<circle cx="58.87" cy="263.06" r="0.4" fill="#3355ff" opacity="0.5"/>
<circle cx="62.48" cy="258.19" r="0.4" fill="#3355ff" opacity="0.5"/>
<circle cx="59.45" cy="258.92" r="0.4" fill="#3355ff" opacity="0.5"/>
<circle cx="55.31" cy="264.62" r="0.4" fill="#3355ff" opacity="0.5"/>
<circle cx="68.87" cy="264.48" r="0.4" fill="#3355ff" opacity="0.5"/>
<circle cx="54.61" cy="262.43" r="0.4" fill="#3355ff" opacity="0.5"/>
<circle cx="60.43" cy="260.89" r="0.4" fill="#3355ff" opacity="0.5"/>
<circle cx="56.73" cy="259.72" r="0.4" fill="#3355ff" opacity="0.5"/>
<circle cx="56.80" cy="263.33" r="0.4" fill="#3355ff" opacity="0.5"/>
<circle cx="55.60" cy="264.19" r="0.4" fill="#3355ff" opacity="0.5"/>
<circle cx="55.76" cy="265.69" r="0.4" fill="#3355ff" opacity="0.5"/>
<circle cx="62.88" cy="262.46" r="0.4" fill="#3355ff" opacity="0.5"/>
<circle cx="59.17" cy="260.60" r="0.4" fill="#3355ff" opacity="0.5"/>
<circle cx="56.09" cy="262.01" r="0.4" fill="#3355ff" opacity="0.5"/>
<circle cx="58.19" cy="260.96" r="0.4" fill="#3355ff" opacity="0.5"/>
<circle cx="54.29" cy="264.84" r="0.4" fill="#3355ff" opacity="0.5"/>
<circle cx="57.57" cy="254.49" r="0.4" fill="#3355ff" opacity="0.5"/>
<circle cx="54.26" cy="259.70" r="0.4" fill="#3355ff" opacity="0.5"/>
<circle cx="54.53" cy="259.93" r="0.4" fill="#3355ff" opacity="0.5"/>
<circle cx="67.06" cy="261.16" r="0.4" fill="#3355ff" opacity="0.5"/>
<circle cx="59.90" cy="265.97" r="0.4" fill="#3355ff" opacity="0.5"/>
<circle cx="53.04" cy="264.20" r="0.4" fill="#3355ff" opacity="0.5"/>
<circle cx="61.47" cy="260.82" r="0.4" fill="#3355ff" opacity="0.5"/>
<circle cx="59.76" cy="262.84" r="0.4" fill="#3355ff" opacity="0.5"/>
<circle cx="54.61" cy="262.38" r="0.4" fill="#3355ff" opacity="0.5"/>
<circle cx="57.91" cy="264.71" r="0.4" fill="#3355ff" opacity="0.5"/>
<circle cx="56.83" cy="263.61" r="0.4" fill="#3355ff" opacity="0.5"/>
<circle cx="54.82" cy="259.54" r="0.4" fill="#3355ff" opacity="0.5"/>
<circle cx="56.62" cy="262.27" r="0.4" fill="#3355ff" opacity="0.5"/>
<circle cx="67.62" cy="260.94" r="0.4" fill="#3355ff" opacity="0.5"/>
<circle cx="58.56" cy="267.49" r="0.4" fill="#3355ff" opacity="0.5"/>
<circle cx="58.73" cy="257.32" r="0.4" fill="#3355ff" opacity="0.5"/>
<circle cx="54.92" cy="261.30" r="0.4" fill="#3355ff" opacity="0.5"/>
<circle cx="66.70" cy="263.15" r="0.4" fill="#3355ff" opacity="0.5"/>
<circle cx="53.16" cy="262.56" r="0.4" fill="#3355ff" opacity="0.5"/>
<circle cx="58.43" cy="261.69" r="0.4" fill="#3355ff" opacity="0.5"/>
<circle cx="57.54" cy="259.92" r="0.4" fill="#3355ff" opacity="0.5"/>
<circle cx="53.89" cy="261.22" r="0.4" fill="#3355ff" opacity="0.5"/>
<circle cx="58.31" cy="260.78" r="0.4" fill="#3355ff" opacity="0.5"/>
<circle cx="62.08" cy="264.82" r="0.4" fill="#3355ff" opacity="0.5"/>
<circle cx="54.60" cy="267.49" r="0.4" fill="#3355ff" opacity="0.5"/>
<circle cx="54.26" cy="261.85" r="0.4" fill="#3355ff" opacity="0.5"/>
<circle cx="53.70" cy="258.95" r="0.4" fill="#3355ff" opacity="0.5"/>
<circle cx="54.57" cy="262.40" r="0.4" fill="#3355ff" opacity="0.5"/>
<circle cx="56.06" cy="262.43" r="0.4" fill="#3355ff" opacity="0.5"/>
<circle cx="57.93" cy="263.53" r="0.4" fill="#3355ff" opacity="0.5"/>
<circle cx="53.22" cy="264.82" r="0.4" fill="#3355ff" opacity="0.5"/>
<circle cx="61.44" cy="261.06" r="0.4" fill="#3355ff" opacity="0.5"/>
<circle cx="61.05" cy="262.84" r="0.4" fill="#3355ff" opacity="0.5"/>
<circle cx="62.46" cy="265.97" r="0.4" fill="#3355ff" opacity="0.5"/>
<circle cx="65.07" cy="262.00" r="0.4" fill="#3355ff" opacity="0.5"/>
<circle cx="56.77" cy="256.38" r="0.4" fill="#3355ff" opacity="0.5"/>
<circle cx="59.74" cy="262.76" r="0.4" fill="#3355ff" opacity="0.5"/>
<circle cx="58.29" cy="264.79" r="0.4" fill="#3355ff" opacity="0.5"/>
<circle cx="58.26" cy="261.92" r="0.4" fill="#3355ff" opacity="0.5"/>
<circle cx="60.89" cy="260.24" r="0.4" fill="#3355ff" opacity="0.5"/>
<circle cx="57.31" cy="260.68" r="0.4" fill="#3355ff" opacity="0.5"/>
<circle cx="59.08" cy="261.04" r="0.4" fill="#3355ff" opacity="0.5"/>
<circle cx="55.28" cy="264.66" r="0.4" fill="#3355ff" opacity="0.5"/>
<ellipse cx="49.50" cy="264.60" rx="6.5" ry="4.2" fill="#1a2cff" opacity="0.55"/>
<ellipse cx="50.30" cy="262.70" rx="8.4" ry="5.8" fill="url(#blob)"/>
<rect x="55.40" y="252.70" width="24.20" height="16.90" fill="none" stroke="#8a8a8a" stroke-width="0.8"/>
<text x="68.20" y="286.50" font-size="7.5" text-anchor="middle" fill="#1c1c1c">DoriVac</text>
<text x="68.20" y="295.00" font-size="7.5" text-anchor="middle" fill="#1c1c1c">3.47</text>
<text x="24.50" y="172.90" font-size="6.8" text-anchor="end" fill="#1c1c1c">10<tspan dx="0.4" dy="-2.9" font-size="5.0">7</tspan></text>
<text x="24.50" y="184.10" font-size="6.8" text-anchor="end" fill="#1c1c1c">10<tspan dx="0.4" dy="-2.9" font-size="5.0">6</tspan></text>
<text x="24.50" y="195.90" font-size="6.8" text-anchor="end" fill="#1c1c1c">10<tspan dx="0.4" dy="-2.9" font-size="5.0">5</tspan></text>
<text x="24.50" y="207.60" font-size="6.8" text-anchor="end" fill="#1c1c1c">10<tspan dx="0.4" dy="-2.9" font-size="5.0">4</tspan></text>
<text x="25.30" y="227.40" font-size="6.8" text-anchor="end" fill="#1c1c1c">0</text>
<text x="24.50" y="242.70" font-size="6.8" text-anchor="end" fill="#1c1c1c">10<tspan dx="0.4" dy="-2.9" font-size="5.0">7</tspan></text>
<text x="24.50" y="254.40" font-size="6.8" text-anchor="end" fill="#1c1c1c">10<tspan dx="0.4" dy="-2.9" font-size="5.0">6</tspan></text>
<text x="24.50" y="266.00" font-size="6.8" text-anchor="end" fill="#1c1c1c">10<tspan dx="0.4" dy="-2.9" font-size="5.0">5</tspan></text>
<text x="24.50" y="277.70" font-size="6.8" text-anchor="end" fill="#1c1c1c">10<tspan dx="0.4" dy="-2.9" font-size="5.0">4</tspan></text>
<text x="25.30" y="297.10" font-size="6.8" text-anchor="end" fill="#1c1c1c">0</text>
<text x="45.00" y="319.60" font-size="6.9" text-anchor="middle" fill="#1c1c1c">0</text>
<text x="58.60" y="319.60" font-size="6.9" text-anchor="start" fill="#1c1c1c">10<tspan dx="0.4" dy="-2.9" font-size="5.0">4</tspan></text>
<text x="70.70" y="319.60" font-size="6.9" text-anchor="start" fill="#1c1c1c">10<tspan dx="0.4" dy="-2.9" font-size="5.0">5</tspan></text>
<text x="82.00" y="319.60" font-size="6.9" text-anchor="start" fill="#1c1c1c">10<tspan dx="0.4" dy="-2.9" font-size="5.0">6</tspan></text>
<text x="93.70" y="319.60" font-size="6.9" text-anchor="start" fill="#1c1c1c">10<tspan dx="0.4" dy="-2.9" font-size="5.0">7</tspan></text>
<text x="31.30" y="332.20" font-size="8.4" text-anchor="start" fill="#1c1c1c" textLength="30.5" lengthAdjust="spacingAndGlyphs">CD107a</text>
<line x1="65.00" y1="330.20" x2="98.00" y2="330.20" stroke="#5a6b8c" stroke-width="0.9"/>
<path d="M100.3,330.2 L96.4,328.5 L96.4,331.9 Z" fill="#5a6b8c"/>
<text x="31.20" y="342.60" font-size="8.4" text-anchor="start" fill="#1c1c1c" textLength="25.6" lengthAdjust="spacingAndGlyphs">AF488</text>
<line x1="148.60" y1="203.70" x2="148.60" y2="304.50" stroke="#222222" stroke-width="0.8"/>
<line x1="148.60" y1="304.50" x2="290.60" y2="304.50" stroke="#222222" stroke-width="0.8"/>
<line x1="145.20" y1="304.50" x2="148.60" y2="304.50" stroke="#222222" stroke-width="0.8"/>
<text x="141.50" y="307.09" font-size="7.2" text-anchor="end" fill="#1c1c1c">0</text>
<line x1="145.20" y1="284.34" x2="148.60" y2="284.34" stroke="#222222" stroke-width="0.8"/>
<text x="141.50" y="286.93" font-size="7.2" text-anchor="end" fill="#1c1c1c">1</text>
<line x1="145.20" y1="264.18" x2="148.60" y2="264.18" stroke="#222222" stroke-width="0.8"/>
<text x="141.50" y="266.77" font-size="7.2" text-anchor="end" fill="#1c1c1c">2</text>
<line x1="145.20" y1="244.02" x2="148.60" y2="244.02" stroke="#222222" stroke-width="0.8"/>
<text x="141.50" y="246.61" font-size="7.2" text-anchor="end" fill="#1c1c1c">3</text>
<line x1="145.20" y1="223.86" x2="148.60" y2="223.86" stroke="#222222" stroke-width="0.8"/>
<text x="141.50" y="226.45" font-size="7.2" text-anchor="end" fill="#1c1c1c">4</text>
<line x1="145.20" y1="203.70" x2="148.60" y2="203.70" stroke="#222222" stroke-width="0.8"/>
<text x="141.50" y="206.29" font-size="7.2" text-anchor="end" fill="#1c1c1c">5</text>
<line x1="164.30" y1="304.50" x2="164.30" y2="307.30" stroke="#222222" stroke-width="0.8"/>
<text x="164.30" y="318.60" font-size="8.9" text-anchor="middle" fill="#1c1c1c">CoV-2</text>
<line x1="201.50" y1="304.50" x2="201.50" y2="307.30" stroke="#222222" stroke-width="0.8"/>
<text x="201.50" y="318.60" font-size="8.9" text-anchor="middle" fill="#1c1c1c">HIV</text>
<line x1="238.10" y1="304.50" x2="238.10" y2="307.30" stroke="#222222" stroke-width="0.8"/>
<text x="238.10" y="318.60" font-size="8.9" text-anchor="middle" fill="#1c1c1c">Ebola</text>
<line x1="274.60" y1="304.50" x2="274.60" y2="307.30" stroke="#222222" stroke-width="0.8"/>
<text x="274.60" y="318.60" font-size="8.9" text-anchor="middle" fill="#1c1c1c">NC</text>
<text transform="translate(128.8,253.5) rotate(-90)" font-size="8.3" text-anchor="middle" fill="#111">CD4<tspan dy="-2.8" font-size="5">+</tspan><tspan dy="2.8"> CD107a</tspan><tspan dy="-2.8" font-size="5">+</tspan><tspan dy="2.8"> (%)</tspan></text>
<rect x="153.80" y="277.08" width="7.80" height="27.42" fill="#fff" stroke="#111111" stroke-width="0.9"/>
<line x1="157.70" y1="265.19" x2="157.70" y2="286.36" stroke="#111111" stroke-width="0.8"/>
<line x1="156.20" y1="265.19" x2="159.20" y2="265.19" stroke="#111111" stroke-width="0.8"/>
<line x1="156.20" y1="286.36" x2="159.20" y2="286.36" stroke="#111111" stroke-width="0.8"/>
<circle cx="157.70" cy="261.76" r="2.5" fill="#111111"/>
<circle cx="154.70" cy="276.68" r="2.5" fill="#111111"/>
<circle cx="159.70" cy="277.69" r="2.5" fill="#111111"/>
<circle cx="157.70" cy="287.57" r="2.5" fill="#111111"/>
<rect x="167.70" y="249.26" width="7.80" height="55.24" fill="#fff" stroke="#f4005f" stroke-width="0.75"/>
<line x1="171.60" y1="235.96" x2="171.60" y2="267.20" stroke="#f4005f" stroke-width="0.8"/>
<line x1="170.10" y1="235.96" x2="173.10" y2="235.96" stroke="#f4005f" stroke-width="0.8"/>
<line x1="170.10" y1="267.20" x2="173.10" y2="267.20" stroke="#f4005f" stroke-width="0.8"/>
<circle cx="172.00" cy="229.30" r="2.5" fill="#f4005f"/>
<circle cx="172.00" cy="234.54" r="2.5" fill="#f4005f"/>
<circle cx="169.40" cy="264.38" r="2.5" fill="#f4005f"/>
<circle cx="174.20" cy="263.98" r="2.5" fill="#f4005f"/>
<rect x="191.00" y="267.61" width="7.80" height="36.89" fill="#fff" stroke="#111111" stroke-width="0.9"/>
<line x1="194.90" y1="261.16" x2="194.90" y2="276.28" stroke="#111111" stroke-width="0.8"/>
<line x1="193.40" y1="261.16" x2="196.40" y2="261.16" stroke="#111111" stroke-width="0.8"/>
<line x1="193.40" y1="276.28" x2="196.40" y2="276.28" stroke="#111111" stroke-width="0.8"/>
<circle cx="192.40" cy="262.16" r="2.5" fill="#111111"/>
<circle cx="197.40" cy="262.16" r="2.5" fill="#111111"/>
<circle cx="194.90" cy="267.20" r="2.5" fill="#111111"/>
<circle cx="194.90" cy="277.08" r="2.5" fill="#111111"/>
<rect x="204.90" y="246.84" width="7.80" height="57.66" fill="#fff" stroke="#f4005f" stroke-width="0.75"/>
<line x1="208.80" y1="243.01" x2="208.80" y2="251.08" stroke="#f4005f" stroke-width="0.8"/>
<line x1="207.30" y1="243.01" x2="210.30" y2="243.01" stroke="#f4005f" stroke-width="0.8"/>
<line x1="207.30" y1="251.08" x2="210.30" y2="251.08" stroke="#f4005f" stroke-width="0.8"/>
<circle cx="208.80" cy="241.40" r="2.5" fill="#f4005f"/>
<circle cx="205.80" cy="246.04" r="2.5" fill="#f4005f"/>
<circle cx="208.80" cy="249.66" r="2.5" fill="#f4005f"/>
<circle cx="212.00" cy="249.06" r="2.5" fill="#f4005f"/>
<rect x="227.60" y="274.66" width="7.80" height="29.84" fill="#fff" stroke="#111111" stroke-width="0.9"/>
<line x1="231.50" y1="269.22" x2="231.50" y2="279.30" stroke="#111111" stroke-width="0.8"/>
<line x1="230.00" y1="269.22" x2="233.00" y2="269.22" stroke="#111111" stroke-width="0.8"/>
<line x1="230.00" y1="279.30" x2="233.00" y2="279.30" stroke="#111111" stroke-width="0.8"/>
<circle cx="231.00" cy="265.79" r="2.5" fill="#111111"/>
<circle cx="228.50" cy="274.26" r="2.5" fill="#111111"/>
<circle cx="233.50" cy="277.49" r="2.5" fill="#111111"/>
<circle cx="230.00" cy="279.10" r="2.5" fill="#111111"/>
<rect x="241.50" y="262.77" width="7.80" height="41.73" fill="#fff" stroke="#f4005f" stroke-width="0.75"/>
<line x1="245.40" y1="254.10" x2="245.40" y2="272.24" stroke="#f4005f" stroke-width="0.8"/>
<line x1="243.90" y1="254.10" x2="246.90" y2="254.10" stroke="#f4005f" stroke-width="0.8"/>
<line x1="243.90" y1="272.24" x2="246.90" y2="272.24" stroke="#f4005f" stroke-width="0.8"/>
<circle cx="245.40" cy="251.08" r="2.5" fill="#f4005f"/>
<circle cx="242.90" cy="262.16" r="2.5" fill="#f4005f"/>
<circle cx="247.90" cy="265.79" r="2.5" fill="#f4005f"/>
<circle cx="244.90" cy="272.65" r="2.5" fill="#f4005f"/>
<rect x="264.10" y="284.54" width="7.80" height="19.96" fill="#fff" stroke="#17817f" stroke-width="0.9"/>
<line x1="268.00" y1="279.30" x2="268.00" y2="288.37" stroke="#17817f" stroke-width="0.8"/>
<line x1="266.50" y1="279.30" x2="269.50" y2="279.30" stroke="#17817f" stroke-width="0.8"/>
<line x1="266.50" y1="288.37" x2="269.50" y2="288.37" stroke="#17817f" stroke-width="0.8"/>
<circle cx="268.50" cy="275.07" r="2.5" fill="#17817f"/>
<circle cx="265.70" cy="282.73" r="2.5" fill="#17817f"/>
<circle cx="270.90" cy="284.54" r="2.5" fill="#17817f"/>
<circle cx="265.70" cy="287.57" r="2.5" fill="#17817f"/>
<text x="149.90" y="216.10" font-size="7.4" text-anchor="start" fill="#1c1c1c" textLength="31.9" lengthAdjust="spacingAndGlyphs"><tspan font-style="italic">P</tspan> = 0.042</text>
<polygon points="163.80,217.95 164.49,219.35 166.03,219.57 164.92,220.66 165.18,222.20 163.80,221.48 162.42,222.20 162.68,220.66 161.57,219.57 163.11,219.35" fill="#111"/>
<line x1="153.50" y1="225.60" x2="174.30" y2="225.60" stroke="#555" stroke-width="0.8"/>
<text x="181.10" y="225.70" font-size="7.4" text-anchor="start" fill="#1c1c1c" textLength="37.0" lengthAdjust="spacingAndGlyphs"><tspan font-style="italic">P</tspan> = 0.0022</text>
<polygon points="198.20,227.95 198.89,229.35 200.43,229.57 199.32,230.66 199.58,232.20 198.20,231.48 196.82,232.20 197.08,230.66 195.97,229.57 197.51,229.35" fill="#111"/>
<polygon points="203.20,227.95 203.89,229.35 205.43,229.57 204.32,230.66 204.58,232.20 203.20,231.48 201.82,232.20 202.08,230.66 200.97,229.57 202.51,229.35" fill="#111"/>
<line x1="190.20" y1="235.20" x2="212.00" y2="235.20" stroke="#555" stroke-width="0.8"/>
<circle cx="189.40" cy="174.10" r="2.4" fill="#111111"/>
<text x="196.40" y="177.20" font-size="8.6" text-anchor="start" fill="#1c1c1c">Bolus vaccine</text>
<circle cx="189.40" cy="184.40" r="2.4" fill="#f4005f"/>
<text x="196.40" y="187.50" font-size="8.6" text-anchor="start" fill="#1c1c1c">DoriVac</text>
<circle cx="189.40" cy="194.90" r="2.4" fill="#17817f"/>
<text x="196.40" y="198.00" font-size="8.6" text-anchor="start" fill="#1c1c1c">Untreated</text>
<text x="302.40" y="167.30" font-size="11.5" text-anchor="start" font-weight="bold" fill="#000">d</text>
<line x1="335.70" y1="197.70" x2="335.70" y2="304.10" stroke="#aaa" stroke-width="1.1"/>
<line x1="335.70" y1="304.10" x2="485.70" y2="304.10" stroke="#222222" stroke-width="0.8"/>
<line x1="332.30" y1="304.10" x2="335.70" y2="304.10" stroke="#222222" stroke-width="0.8"/>
<text x="327.60" y="306.76" font-size="7.4" text-anchor="end" fill="#1c1c1c">0</text>
<line x1="332.30" y1="277.50" x2="335.70" y2="277.50" stroke="#222222" stroke-width="0.8"/>
<text x="327.60" y="280.16" font-size="7.4" text-anchor="end" fill="#1c1c1c">5</text>
<line x1="332.30" y1="250.90" x2="335.70" y2="250.90" stroke="#222222" stroke-width="0.8"/>
<text x="327.60" y="253.56" font-size="7.4" text-anchor="end" fill="#1c1c1c">10</text>
<line x1="332.30" y1="224.30" x2="335.70" y2="224.30" stroke="#222222" stroke-width="0.8"/>
<text x="327.60" y="226.96" font-size="7.4" text-anchor="end" fill="#1c1c1c">15</text>
<line x1="332.30" y1="197.70" x2="335.70" y2="197.70" stroke="#222222" stroke-width="0.8"/>
<text x="327.60" y="200.36" font-size="7.4" text-anchor="end" fill="#1c1c1c">20</text>
<line x1="353.00" y1="304.10" x2="353.00" y2="306.90" stroke="#222222" stroke-width="0.8"/>
<text x="353.00" y="318.90" font-size="8.9" text-anchor="middle" fill="#1c1c1c">CoV-2</text>
<line x1="391.70" y1="304.10" x2="391.70" y2="306.90" stroke="#222222" stroke-width="0.8"/>
<text x="391.70" y="318.90" font-size="8.9" text-anchor="middle" fill="#1c1c1c">HIV</text>
<line x1="430.50" y1="304.10" x2="430.50" y2="306.90" stroke="#222222" stroke-width="0.8"/>
<text x="430.50" y="318.90" font-size="8.9" text-anchor="middle" fill="#1c1c1c">Ebola</text>
<line x1="469.30" y1="304.10" x2="469.30" y2="306.90" stroke="#222222" stroke-width="0.8"/>
<text x="469.30" y="318.90" font-size="8.9" text-anchor="middle" fill="#1c1c1c">NC</text>
<text transform="translate(313.2,250.5) rotate(-90)" font-size="8.1" text-anchor="middle" fill="#111">CD4<tspan dy="-2.8" font-size="5">+</tspan><tspan dy="2.8"> PD-1</tspan><tspan dy="-2.8" font-size="5">+</tspan><tspan dy="2.8"> (%)</tspan></text>
<rect x="341.60" y="277.50" width="8.60" height="26.60" fill="#fff" stroke="#111111" stroke-width="0.9"/>
<line x1="345.90" y1="262.34" x2="345.90" y2="291.33" stroke="#111111" stroke-width="0.8"/>
<line x1="344.40" y1="262.34" x2="347.40" y2="262.34" stroke="#111111" stroke-width="0.8"/>
<line x1="344.40" y1="291.33" x2="347.40" y2="291.33" stroke="#111111" stroke-width="0.8"/>
<circle cx="345.90" cy="255.69" r="2.5" fill="#111111"/>
<circle cx="345.90" cy="279.10" r="2.5" fill="#111111"/>
<circle cx="343.20" cy="286.01" r="2.5" fill="#111111"/>
<circle cx="348.60" cy="286.01" r="2.5" fill="#111111"/>
<rect x="355.90" y="252.23" width="8.60" height="51.87" fill="#fff" stroke="#f4005f" stroke-width="0.75"/>
<line x1="360.20" y1="247.71" x2="360.20" y2="256.22" stroke="#f4005f" stroke-width="0.8"/>
<line x1="358.70" y1="247.71" x2="361.70" y2="247.71" stroke="#f4005f" stroke-width="0.8"/>
<line x1="358.70" y1="256.22" x2="361.70" y2="256.22" stroke="#f4005f" stroke-width="0.8"/>
<circle cx="360.20" cy="243.98" r="2.5" fill="#f4005f"/>
<circle cx="357.50" cy="248.77" r="2.5" fill="#f4005f"/>
<circle cx="362.80" cy="253.03" r="2.5" fill="#f4005f"/>
<circle cx="360.20" cy="259.41" r="2.5" fill="#f4005f"/>
<rect x="380.30" y="284.42" width="8.60" height="19.68" fill="#fff" stroke="#111111" stroke-width="0.9"/>
<line x1="384.60" y1="278.03" x2="384.60" y2="288.67" stroke="#111111" stroke-width="0.8"/>
<line x1="383.10" y1="278.03" x2="386.10" y2="278.03" stroke="#111111" stroke-width="0.8"/>
<line x1="383.10" y1="288.67" x2="386.10" y2="288.67" stroke="#111111" stroke-width="0.8"/>
<circle cx="384.60" cy="275.11" r="2.5" fill="#111111"/>
<circle cx="381.90" cy="286.01" r="2.5" fill="#111111"/>
<circle cx="387.30" cy="286.01" r="2.5" fill="#111111"/>
<circle cx="384.60" cy="287.34" r="2.5" fill="#111111"/>
<rect x="394.60" y="255.90" width="8.60" height="48.20" fill="#fff" stroke="#f4005f" stroke-width="0.75"/>
<line x1="398.90" y1="237.07" x2="398.90" y2="274.84" stroke="#f4005f" stroke-width="0.8"/>
<line x1="397.40" y1="237.07" x2="400.40" y2="237.07" stroke="#f4005f" stroke-width="0.8"/>
<line x1="397.40" y1="274.84" x2="400.40" y2="274.84" stroke="#f4005f" stroke-width="0.8"/>
<circle cx="396.20" cy="239.20" r="2.5" fill="#f4005f"/>
<circle cx="401.60" cy="239.20" r="2.5" fill="#f4005f"/>
<circle cx="398.90" cy="268.24" r="2.5" fill="#f4005f"/>
<circle cx="398.60" cy="274.10" r="2.5" fill="#f4005f"/>
<rect x="419.10" y="276.44" width="8.60" height="27.66" fill="#fff" stroke="#111111" stroke-width="0.9"/>
<line x1="423.40" y1="273.78" x2="423.40" y2="280.69" stroke="#111111" stroke-width="0.8"/>
<line x1="421.90" y1="273.78" x2="424.90" y2="273.78" stroke="#111111" stroke-width="0.8"/>
<line x1="421.90" y1="280.69" x2="424.90" y2="280.69" stroke="#111111" stroke-width="0.8"/>
<circle cx="426.90" cy="273.78" r="2.5" fill="#111111"/>
<circle cx="423.20" cy="276.44" r="2.5" fill="#111111"/>
<circle cx="421.40" cy="281.76" r="2.5" fill="#111111"/>
<circle cx="425.90" cy="280.16" r="2.5" fill="#111111"/>
<rect x="433.40" y="245.31" width="8.60" height="58.79" fill="#fff" stroke="#f4005f" stroke-width="0.75"/>
<line x1="437.70" y1="229.62" x2="437.70" y2="261.01" stroke="#f4005f" stroke-width="0.8"/>
<line x1="436.20" y1="229.62" x2="439.20" y2="229.62" stroke="#f4005f" stroke-width="0.8"/>
<line x1="436.20" y1="261.01" x2="439.20" y2="261.01" stroke="#f4005f" stroke-width="0.8"/>
<circle cx="437.70" cy="226.43" r="2.5" fill="#f4005f"/>
<circle cx="437.70" cy="242.92" r="2.5" fill="#f4005f"/>
<circle cx="437.70" cy="249.84" r="2.5" fill="#f4005f"/>
<circle cx="437.70" cy="261.54" r="2.5" fill="#f4005f"/>
<rect x="457.90" y="276.97" width="8.60" height="27.13" fill="#fff" stroke="#17817f" stroke-width="0.9"/>
<line x1="462.20" y1="272.18" x2="462.20" y2="282.82" stroke="#17817f" stroke-width="0.8"/>
<line x1="460.70" y1="272.18" x2="463.70" y2="272.18" stroke="#17817f" stroke-width="0.8"/>
<line x1="460.70" y1="282.82" x2="463.70" y2="282.82" stroke="#17817f" stroke-width="0.8"/>
<circle cx="459.80" cy="272.18" r="2.5" fill="#17817f"/>
<circle cx="466.00" cy="271.65" r="2.5" fill="#17817f"/>
<circle cx="462.50" cy="277.50" r="2.5" fill="#17817f"/>
<circle cx="462.50" cy="283.88" r="2.5" fill="#17817f"/>
<text x="337.50" y="229.30" font-size="7.3" text-anchor="start" fill="#1c1c1c" textLength="33.6" lengthAdjust="spacingAndGlyphs"><tspan font-style="italic">P</tspan> = 0.0187</text>
<polygon points="355.50,232.35 356.19,233.75 357.73,233.97 356.62,235.06 356.88,236.60 355.50,235.88 354.12,236.60 354.38,235.06 353.27,233.97 354.81,233.75" fill="#111"/>
<line x1="344.80" y1="239.40" x2="367.00" y2="239.40" stroke="#555" stroke-width="0.8"/>
<text x="369.40" y="219.20" font-size="7.3" text-anchor="start" fill="#1c1c1c" textLength="35.3" lengthAdjust="spacingAndGlyphs">P = 0.0275</text>
<polygon points="390.10,222.35 390.79,223.75 392.33,223.97 391.22,225.06 391.48,226.60 390.10,225.88 388.72,226.60 388.98,225.06 387.87,223.97 389.41,223.75" fill="#111"/>
<line x1="379.30" y1="229.70" x2="400.90" y2="229.70" stroke="#555" stroke-width="0.8"/>
<text x="408.00" y="212.10" font-size="7.3" text-anchor="start" fill="#1c1c1c" textLength="36.1" lengthAdjust="spacingAndGlyphs">P = 0.0042</text>
<polygon points="423.10,214.95 423.79,216.35 425.33,216.57 424.22,217.66 424.48,219.20 423.10,218.48 421.72,219.20 421.98,217.66 420.87,216.57 422.41,216.35" fill="#111"/>
<polygon points="428.10,214.95 428.79,216.35 430.33,216.57 429.22,217.66 429.48,219.20 428.10,218.48 426.72,219.20 426.98,217.66 425.87,216.57 427.41,216.35" fill="#111"/>
<line x1="416.20" y1="221.60" x2="437.20" y2="221.60" stroke="#555" stroke-width="0.8"/>
<circle cx="380.60" cy="173.90" r="2.4" fill="#111111"/>
<text x="387.50" y="177.00" font-size="8.6" text-anchor="start" fill="#1c1c1c">Bolus vaccine</text>
<circle cx="380.60" cy="184.50" r="2.4" fill="#f4005f"/>
<text x="387.50" y="187.60" font-size="8.6" text-anchor="start" fill="#1c1c1c">DoriVac</text>
<circle cx="380.60" cy="194.80" r="2.4" fill="#17817f"/>
<text x="387.50" y="197.90" font-size="8.6" text-anchor="start" fill="#1c1c1c">Untreated</text>
<text x="501.80" y="167.30" font-size="11.5" text-anchor="start" font-weight="bold" fill="#000">e</text>
<line x1="532.30" y1="195.40" x2="532.30" y2="304.60" stroke="#222222" stroke-width="0.8"/>
<line x1="532.30" y1="304.60" x2="685.00" y2="304.60" stroke="#222222" stroke-width="0.8"/>
<line x1="528.90" y1="304.60" x2="532.30" y2="304.60" stroke="#222222" stroke-width="0.8"/>
<text x="524.60" y="307.26" font-size="7.4" text-anchor="end" fill="#1c1c1c">0</text>
<line x1="528.90" y1="277.30" x2="532.30" y2="277.30" stroke="#222222" stroke-width="0.8"/>
<text x="524.60" y="279.96" font-size="7.4" text-anchor="end" fill="#1c1c1c">1</text>
<line x1="528.90" y1="250.00" x2="532.30" y2="250.00" stroke="#222222" stroke-width="0.8"/>
<text x="524.60" y="252.66" font-size="7.4" text-anchor="end" fill="#1c1c1c">2</text>
<line x1="528.90" y1="222.70" x2="532.30" y2="222.70" stroke="#222222" stroke-width="0.8"/>
<text x="524.60" y="225.36" font-size="7.4" text-anchor="end" fill="#1c1c1c">3</text>
<line x1="528.90" y1="195.40" x2="532.30" y2="195.40" stroke="#222222" stroke-width="0.8"/>
<text x="524.60" y="198.06" font-size="7.4" text-anchor="end" fill="#1c1c1c">4</text>
<line x1="550.00" y1="304.60" x2="550.00" y2="307.40" stroke="#222222" stroke-width="0.8"/>
<text x="550.00" y="318.90" font-size="8.9" text-anchor="middle" fill="#1c1c1c">CoV-2</text>
<line x1="589.20" y1="304.60" x2="589.20" y2="307.40" stroke="#222222" stroke-width="0.8"/>
<text x="589.20" y="318.90" font-size="8.9" text-anchor="middle" fill="#1c1c1c">HIV</text>
<line x1="628.60" y1="304.60" x2="628.60" y2="307.40" stroke="#222222" stroke-width="0.8"/>
<text x="628.60" y="318.90" font-size="8.9" text-anchor="middle" fill="#1c1c1c">Ebola</text>
<line x1="667.40" y1="304.60" x2="667.40" y2="307.40" stroke="#222222" stroke-width="0.8"/>
<text x="667.40" y="318.90" font-size="8.9" text-anchor="middle" fill="#1c1c1c">NC</text>
<text transform="translate(513.6,250.0) rotate(-90)" font-size="8.9" text-anchor="middle" fill="#111">CD4<tspan dy="-2.8" font-size="5">+</tspan><tspan dy="2.8"> T</tspan><tspan dy="1.8" font-size="5">reg</tspan><tspan dy="-1.8"> cells (%)</tspan></text>
<rect x="538.40" y="247.54" width="8.60" height="57.06" fill="#fff" stroke="#111111" stroke-width="0.9"/>
<line x1="542.70" y1="222.43" x2="542.70" y2="272.39" stroke="#111111" stroke-width="0.8"/>
<line x1="541.20" y1="222.43" x2="544.20" y2="222.43" stroke="#111111" stroke-width="0.8"/>
<line x1="541.20" y1="272.39" x2="544.20" y2="272.39" stroke="#111111" stroke-width="0.8"/>
<circle cx="542.70" cy="218.06" r="2.5" fill="#111111"/>
<circle cx="540.00" cy="245.09" r="2.5" fill="#111111"/>
<circle cx="545.40" cy="247.00" r="2.5" fill="#111111"/>
<circle cx="542.90" cy="278.94" r="2.5" fill="#111111"/>
<rect x="552.80" y="276.75" width="8.60" height="27.85" fill="#fff" stroke="#f4005f" stroke-width="0.75"/>
<line x1="557.10" y1="271.84" x2="557.10" y2="280.03" stroke="#f4005f" stroke-width="0.8"/>
<line x1="555.60" y1="271.84" x2="558.60" y2="271.84" stroke="#f4005f" stroke-width="0.8"/>
<line x1="555.60" y1="280.03" x2="558.60" y2="280.03" stroke="#f4005f" stroke-width="0.8"/>
<circle cx="557.10" cy="266.93" r="2.5" fill="#f4005f"/>
<circle cx="554.50" cy="276.48" r="2.5" fill="#f4005f"/>
<circle cx="559.70" cy="276.48" r="2.5" fill="#f4005f"/>
<circle cx="557.10" cy="277.03" r="2.5" fill="#f4005f"/>
<rect x="577.60" y="247.54" width="8.60" height="57.06" fill="#fff" stroke="#111111" stroke-width="0.9"/>
<line x1="581.90" y1="243.18" x2="581.90" y2="252.73" stroke="#111111" stroke-width="0.8"/>
<line x1="580.40" y1="243.18" x2="583.40" y2="243.18" stroke="#111111" stroke-width="0.8"/>
<line x1="580.40" y1="252.73" x2="583.40" y2="252.73" stroke="#111111" stroke-width="0.8"/>
<circle cx="580.20" cy="243.72" r="2.5" fill="#111111"/>
<circle cx="585.00" cy="243.72" r="2.5" fill="#111111"/>
<circle cx="581.70" cy="249.73" r="2.5" fill="#111111"/>
<circle cx="583.60" cy="253.28" r="2.5" fill="#111111"/>
<rect x="592.00" y="270.20" width="8.60" height="34.40" fill="#fff" stroke="#f4005f" stroke-width="0.75"/>
<line x1="596.30" y1="266.93" x2="596.30" y2="273.21" stroke="#f4005f" stroke-width="0.8"/>
<line x1="594.80" y1="266.93" x2="597.80" y2="266.93" stroke="#f4005f" stroke-width="0.8"/>
<line x1="594.80" y1="273.21" x2="597.80" y2="273.21" stroke="#f4005f" stroke-width="0.8"/>
<circle cx="594.00" cy="266.38" r="2.5" fill="#f4005f"/>
<circle cx="598.70" cy="268.29" r="2.5" fill="#f4005f"/>
<circle cx="596.90" cy="274.02" r="2.5" fill="#f4005f"/>
<circle cx="596.30" cy="269.11" r="2.5" fill="#f4005f"/>
<rect x="617.00" y="241.81" width="8.60" height="62.79" fill="#fff" stroke="#111111" stroke-width="0.9"/>
<line x1="621.30" y1="226.25" x2="621.30" y2="255.46" stroke="#111111" stroke-width="0.8"/>
<line x1="619.80" y1="226.25" x2="622.80" y2="226.25" stroke="#111111" stroke-width="0.8"/>
<line x1="619.80" y1="255.46" x2="622.80" y2="255.46" stroke="#111111" stroke-width="0.8"/>
<circle cx="618.30" cy="230.62" r="2.5" fill="#111111"/>
<circle cx="624.30" cy="227.89" r="2.5" fill="#111111"/>
<circle cx="621.60" cy="243.45" r="2.5" fill="#111111"/>
<circle cx="621.60" cy="260.65" r="2.5" fill="#111111"/>
<rect x="631.40" y="269.66" width="8.60" height="34.94" fill="#fff" stroke="#f4005f" stroke-width="0.75"/>
<line x1="635.70" y1="267.47" x2="635.70" y2="271.29" stroke="#f4005f" stroke-width="0.8"/>
<line x1="634.20" y1="267.47" x2="637.20" y2="267.47" stroke="#f4005f" stroke-width="0.8"/>
<line x1="634.20" y1="271.29" x2="637.20" y2="271.29" stroke="#f4005f" stroke-width="0.8"/>
<circle cx="633.40" cy="269.66" r="2.5" fill="#f4005f"/>
<circle cx="636.10" cy="268.29" r="2.5" fill="#f4005f"/>
<circle cx="638.80" cy="264.74" r="2.5" fill="#f4005f"/>
<circle cx="635.20" cy="269.93" r="2.5" fill="#f4005f"/>
<rect x="655.80" y="239.90" width="8.60" height="64.70" fill="#fff" stroke="#111111" stroke-width="0.9"/>
<circle cx="657.10" cy="238.53" r="2.5" fill="#17817f"/>
<circle cx="660.40" cy="239.90" r="2.5" fill="#17817f"/>
<circle cx="663.10" cy="238.53" r="2.5" fill="#17817f"/>
<circle cx="658.60" cy="241.81" r="2.5" fill="#17817f"/>
<text x="570.00" y="227.20" font-size="7.3" text-anchor="start" fill="#1c1c1c" textLength="37.2" lengthAdjust="spacingAndGlyphs"><tspan font-style="italic">P</tspan> = 0.0002</text>
<polygon points="585.70,230.95 586.39,232.35 587.93,232.57 586.82,233.66 587.08,235.20 585.70,234.48 584.32,235.20 584.58,233.66 583.47,232.57 585.01,232.35" fill="#111"/>
<polygon points="590.50,230.95 591.19,232.35 592.73,232.57 591.62,233.66 591.88,235.20 590.50,234.48 589.12,235.20 589.38,233.66 588.27,232.57 589.81,232.35" fill="#111"/>
<polygon points="595.30,230.95 595.99,232.35 597.53,232.57 596.42,233.66 596.68,235.20 595.30,234.48 593.92,235.20 594.18,233.66 593.07,232.57 594.61,232.35" fill="#111"/>
<line x1="578.80" y1="238.50" x2="601.40" y2="238.50" stroke="#555" stroke-width="0.8"/>
<text x="609.00" y="212.90" font-size="7.3" text-anchor="start" fill="#1c1c1c" textLength="33.5" lengthAdjust="spacingAndGlyphs"><tspan font-style="italic">P</tspan> = 0.0114</text>
<polygon points="627.70,215.05 628.39,216.45 629.93,216.67 628.82,217.76 629.08,219.30 627.70,218.58 626.32,219.30 626.58,217.76 625.47,216.67 627.01,216.45" fill="#111"/>
<line x1="617.00" y1="221.00" x2="639.10" y2="221.00" stroke="#555" stroke-width="0.8"/>
<circle cx="578.10" cy="173.90" r="2.4" fill="#111111"/>
<text x="585.20" y="177.00" font-size="8.6" text-anchor="start" fill="#1c1c1c">Bolus vaccine</text>
<circle cx="578.10" cy="184.50" r="2.4" fill="#f4005f"/>
<text x="585.20" y="187.60" font-size="8.6" text-anchor="start" fill="#1c1c1c">DoriVac</text>
<circle cx="578.10" cy="194.80" r="2.4" fill="#17817f"/>
<text x="585.20" y="197.90" font-size="8.6" text-anchor="start" fill="#1c1c1c">Untreated</text>
<text x="104.60" y="354.50" font-size="13.2" text-anchor="start" font-weight="bold" fill="#000">f</text>
<text x="188.80" y="373.20" font-size="8.3" text-anchor="middle" fill="#1c1c1c" textLength="55.8" lengthAdjust="spacingAndGlyphs">Bolus vaccine</text>
<text x="305.50" y="373.40" font-size="8.4" text-anchor="middle" fill="#1c1c1c" textLength="32.3" lengthAdjust="spacingAndGlyphs">DoriVac</text>
<text x="130.30" y="393.90" font-size="9.0" text-anchor="end" fill="#1c1c1c">CoV-2</text>
<text x="130.30" y="423.70" font-size="9.0" text-anchor="end" fill="#1c1c1c">HIV</text>
<text x="130.30" y="454.80" font-size="9.0" text-anchor="end" fill="#1c1c1c">Ebola</text>
<circle cx="147.20" cy="390.70" r="13.80" fill="url(#gL)"/>
<circle cx="147.10" cy="384.92" r="0.25" fill="#40408a" opacity="0.52"/>
<circle cx="157.80" cy="394.65" r="0.39" fill="#40408a" opacity="0.27"/>
<circle cx="143.50" cy="382.39" r="0.36" fill="#40408a" opacity="0.68"/>
<circle cx="155.38" cy="390.02" r="0.41" fill="#40408a" opacity="0.60"/>
<circle cx="149.34" cy="390.32" r="0.43" fill="#40408a" opacity="0.35"/>
<circle cx="154.02" cy="397.91" r="0.41" fill="#40408a" opacity="0.68"/>
<circle cx="139.52" cy="399.49" r="0.21" fill="#40408a" opacity="0.69"/>
<circle cx="144.65" cy="399.81" r="0.23" fill="#40408a" opacity="0.27"/>
<circle cx="157.13" cy="391.18" r="0.34" fill="#40408a" opacity="0.62"/>
<circle cx="152.16" cy="383.98" r="0.41" fill="#40408a" opacity="0.34"/>
<circle cx="151.91" cy="386.33" r="0.43" fill="#40408a" opacity="0.42"/>
<circle cx="138.89" cy="394.74" r="0.21" fill="#40408a" opacity="0.28"/>
<circle cx="136.78" cy="387.68" r="0.21" fill="#40408a" opacity="0.43"/>
<circle cx="139.44" cy="398.97" r="0.45" fill="#40408a" opacity="0.29"/>
<circle cx="143.21" cy="389.58" r="0.40" fill="#40408a" opacity="0.67"/>
<circle cx="144.78" cy="382.09" r="0.52" fill="#30307a" opacity="0.49"/>
<circle cx="175.30" cy="390.70" r="13.80" fill="url(#gL)"/>
<circle cx="168.90" cy="382.06" r="0.44" fill="#40408a" opacity="0.34"/>
<circle cx="185.98" cy="395.35" r="0.28" fill="#40408a" opacity="0.42"/>
<circle cx="177.48" cy="385.65" r="0.43" fill="#40408a" opacity="0.47"/>
<circle cx="186.38" cy="396.03" r="0.34" fill="#40408a" opacity="0.29"/>
<circle cx="181.27" cy="381.11" r="0.39" fill="#40408a" opacity="0.55"/>
<circle cx="176.71" cy="390.64" r="0.44" fill="#40408a" opacity="0.54"/>
<circle cx="175.11" cy="400.74" r="0.28" fill="#40408a" opacity="0.54"/>
<circle cx="172.67" cy="381.79" r="0.22" fill="#40408a" opacity="0.43"/>
<circle cx="171.73" cy="401.22" r="0.43" fill="#40408a" opacity="0.60"/>
<circle cx="170.10" cy="389.69" r="0.38" fill="#40408a" opacity="0.37"/>
<circle cx="180.64" cy="390.61" r="0.44" fill="#40408a" opacity="0.26"/>
<circle cx="176.70" cy="383.28" r="0.34" fill="#40408a" opacity="0.44"/>
<circle cx="172.28" cy="398.63" r="0.40" fill="#40408a" opacity="0.41"/>
<circle cx="168.02" cy="399.40" r="0.24" fill="#40408a" opacity="0.41"/>
<circle cx="166.12" cy="389.75" r="0.24" fill="#40408a" opacity="0.59"/>
<circle cx="171.76" cy="390.94" r="0.67" fill="#30307a" opacity="0.47"/>
<circle cx="203.20" cy="390.70" r="13.80" fill="url(#gL)"/>
<circle cx="206.72" cy="393.73" r="0.35" fill="#40408a" opacity="0.33"/>
<circle cx="209.08" cy="397.17" r="0.30" fill="#40408a" opacity="0.35"/>
<circle cx="194.05" cy="398.11" r="0.23" fill="#40408a" opacity="0.33"/>
<circle cx="209.39" cy="391.79" r="0.22" fill="#40408a" opacity="0.69"/>
<circle cx="198.16" cy="402.43" r="0.23" fill="#40408a" opacity="0.66"/>
<circle cx="192.54" cy="390.27" r="0.37" fill="#40408a" opacity="0.37"/>
<circle cx="204.36" cy="401.22" r="0.23" fill="#40408a" opacity="0.26"/>
<circle cx="204.55" cy="380.58" r="0.27" fill="#40408a" opacity="0.48"/>
<circle cx="208.92" cy="387.07" r="0.23" fill="#40408a" opacity="0.44"/>
<circle cx="207.06" cy="397.46" r="0.21" fill="#40408a" opacity="0.59"/>
<circle cx="205.93" cy="383.34" r="0.29" fill="#40408a" opacity="0.37"/>
<circle cx="214.72" cy="387.26" r="0.37" fill="#40408a" opacity="0.33"/>
<circle cx="208.47" cy="400.63" r="0.25" fill="#40408a" opacity="0.56"/>
<circle cx="201.21" cy="391.78" r="0.25" fill="#40408a" opacity="0.66"/>
<circle cx="198.57" cy="400.17" r="0.39" fill="#40408a" opacity="0.43"/>
<circle cx="191.30" cy="390.77" r="0.38" fill="#40408a" opacity="0.48"/>
<circle cx="194.94" cy="388.32" r="0.31" fill="#40408a" opacity="0.55"/>
<circle cx="203.68" cy="402.63" r="0.27" fill="#40408a" opacity="0.35"/>
<circle cx="204.74" cy="390.34" r="0.30" fill="#40408a" opacity="0.50"/>
<circle cx="192.34" cy="395.01" r="0.37" fill="#40408a" opacity="0.48"/>
<circle cx="214.84" cy="390.96" r="0.68" fill="#30307a" opacity="0.59"/>
<circle cx="204.19" cy="395.80" r="0.55" fill="#30307a" opacity="0.50"/>
<circle cx="231.00" cy="390.70" r="13.80" fill="url(#gL)"/>
<circle cx="223.79" cy="388.45" r="0.41" fill="#40408a" opacity="0.38"/>
<circle cx="223.49" cy="390.21" r="0.30" fill="#40408a" opacity="0.69"/>
<circle cx="237.80" cy="395.89" r="0.26" fill="#40408a" opacity="0.41"/>
<circle cx="238.36" cy="390.64" r="0.35" fill="#40408a" opacity="0.44"/>
<circle cx="229.95" cy="382.18" r="0.24" fill="#40408a" opacity="0.45"/>
<circle cx="263.80" cy="390.70" r="13.80" fill="url(#gB1)"/>
<circle cx="257.68" cy="389.17" r="1.85" fill="#5058b8" opacity="0.38"/>
<circle cx="265.28" cy="396.46" r="2.44" fill="#5058b8" opacity="0.38"/>
<circle cx="272.40" cy="390.09" r="1.29" fill="#28286a" opacity="0.80"/>
<circle cx="263.96" cy="394.12" r="0.54" fill="#28286a" opacity="0.73"/>
<circle cx="253.94" cy="383.58" r="1.27" fill="#28286a" opacity="0.64"/>
<circle cx="260.58" cy="389.98" r="0.42" fill="#28286a" opacity="0.71"/>
<circle cx="258.58" cy="380.92" r="0.91" fill="#28286a" opacity="0.65"/>
<circle cx="256.07" cy="381.51" r="0.50" fill="#28286a" opacity="0.57"/>
<circle cx="259.60" cy="401.47" r="1.19" fill="#28286a" opacity="0.46"/>
<circle cx="269.28" cy="393.73" r="0.68" fill="#28286a" opacity="0.70"/>
<circle cx="254.53" cy="396.61" r="0.67" fill="#28286a" opacity="0.59"/>
<circle cx="267.77" cy="400.10" r="0.86" fill="#28286a" opacity="0.74"/>
<circle cx="272.48" cy="387.79" r="0.46" fill="#28286a" opacity="0.77"/>
<circle cx="272.02" cy="387.73" r="0.84" fill="#28286a" opacity="0.77"/>
<circle cx="263.65" cy="397.12" r="1.03" fill="#28286a" opacity="0.65"/>
<circle cx="259.28" cy="380.07" r="0.86" fill="#28286a" opacity="0.54"/>
<circle cx="264.70" cy="396.49" r="0.73" fill="#28286a" opacity="0.54"/>
<circle cx="263.15" cy="380.72" r="0.86" fill="#28286a" opacity="0.52"/>
<circle cx="258.26" cy="385.13" r="1.12" fill="#28286a" opacity="0.64"/>
<circle cx="261.16" cy="383.41" r="0.87" fill="#28286a" opacity="0.67"/>
<circle cx="272.69" cy="388.22" r="0.69" fill="#28286a" opacity="0.66"/>
<circle cx="269.17" cy="395.71" r="0.43" fill="#28286a" opacity="0.60"/>
<circle cx="263.61" cy="398.64" r="1.11" fill="#28286a" opacity="0.64"/>
<circle cx="272.02" cy="392.64" r="0.41" fill="#28286a" opacity="0.72"/>
<circle cx="252.09" cy="390.96" r="0.64" fill="#28286a" opacity="0.72"/>
<circle cx="271.42" cy="399.74" r="0.75" fill="#28286a" opacity="0.38"/>
<circle cx="273.80" cy="384.80" r="0.57" fill="#28286a" opacity="0.61"/>
<circle cx="259.06" cy="391.41" r="0.78" fill="#28286a" opacity="0.79"/>
<circle cx="255.71" cy="398.24" r="1.08" fill="#28286a" opacity="0.70"/>
<circle cx="254.62" cy="382.88" r="0.71" fill="#28286a" opacity="0.57"/>
<circle cx="259.98" cy="392.01" r="0.84" fill="#28286a" opacity="0.69"/>
<circle cx="259.02" cy="388.30" r="0.62" fill="#28286a" opacity="0.57"/>
<circle cx="268.28" cy="394.21" r="1.07" fill="#28286a" opacity="0.40"/>
<circle cx="267.61" cy="394.03" r="0.87" fill="#28286a" opacity="0.36"/>
<circle cx="260.09" cy="381.89" r="1.08" fill="#28286a" opacity="0.70"/>
<circle cx="262.29" cy="381.69" r="0.67" fill="#28286a" opacity="0.62"/>
<circle cx="267.38" cy="395.60" r="1.03" fill="#28286a" opacity="0.62"/>
<circle cx="269.28" cy="397.13" r="0.94" fill="#28286a" opacity="0.45"/>
<circle cx="260.95" cy="386.83" r="0.55" fill="#28286a" opacity="0.54"/>
<circle cx="261.26" cy="401.16" r="0.77" fill="#28286a" opacity="0.48"/>
<circle cx="268.64" cy="380.16" r="1.10" fill="#28286a" opacity="0.40"/>
<circle cx="263.25" cy="394.64" r="1.07" fill="#28286a" opacity="0.56"/>
<circle cx="274.05" cy="397.47" r="0.47" fill="#28286a" opacity="0.37"/>
<circle cx="270.72" cy="385.69" r="1.17" fill="#28286a" opacity="0.61"/>
<circle cx="269.56" cy="397.36" r="1.09" fill="#28286a" opacity="0.36"/>
<circle cx="265.08" cy="383.29" r="0.86" fill="#28286a" opacity="0.49"/>
<circle cx="265.91" cy="382.13" r="0.81" fill="#28286a" opacity="0.38"/>
<circle cx="291.50" cy="390.70" r="13.80" fill="url(#gB)"/>
<circle cx="295.42" cy="391.00" r="2.43" fill="#5058b8" opacity="0.39"/>
<circle cx="294.03" cy="393.71" r="2.17" fill="#5058b8" opacity="0.40"/>
<circle cx="297.57" cy="398.77" r="2.86" fill="#5058b8" opacity="0.28"/>
<circle cx="283.85" cy="388.96" r="2.46" fill="#5058b8" opacity="0.45"/>
<circle cx="293.01" cy="391.70" r="1.25" fill="#28286a" opacity="0.53"/>
<circle cx="293.82" cy="397.62" r="0.73" fill="#28286a" opacity="0.78"/>
<circle cx="292.96" cy="396.43" r="0.93" fill="#28286a" opacity="0.60"/>
<circle cx="302.64" cy="387.37" r="0.72" fill="#28286a" opacity="0.44"/>
<circle cx="298.02" cy="379.89" r="0.43" fill="#28286a" opacity="0.68"/>
<circle cx="298.44" cy="383.16" r="0.60" fill="#28286a" opacity="0.71"/>
<circle cx="290.79" cy="385.16" r="0.98" fill="#28286a" opacity="0.45"/>
<circle cx="298.61" cy="392.59" r="0.70" fill="#28286a" opacity="0.53"/>
<circle cx="284.49" cy="381.45" r="1.27" fill="#28286a" opacity="0.79"/>
<circle cx="302.77" cy="390.24" r="0.68" fill="#28286a" opacity="0.43"/>
<circle cx="284.82" cy="384.12" r="1.01" fill="#28286a" opacity="0.39"/>
<circle cx="295.79" cy="402.11" r="0.94" fill="#28286a" opacity="0.66"/>
<circle cx="298.12" cy="395.24" r="1.22" fill="#28286a" opacity="0.64"/>
<circle cx="297.13" cy="390.40" r="0.81" fill="#28286a" opacity="0.71"/>
<circle cx="280.90" cy="394.54" r="0.91" fill="#28286a" opacity="0.40"/>
<circle cx="301.74" cy="398.03" r="0.51" fill="#28286a" opacity="0.44"/>
<circle cx="286.03" cy="399.92" r="1.17" fill="#28286a" opacity="0.56"/>
<circle cx="280.23" cy="390.83" r="0.65" fill="#28286a" opacity="0.52"/>
<circle cx="283.81" cy="384.11" r="0.43" fill="#28286a" opacity="0.40"/>
<circle cx="298.50" cy="398.94" r="1.02" fill="#28286a" opacity="0.79"/>
<circle cx="292.20" cy="384.33" r="1.09" fill="#28286a" opacity="0.79"/>
<circle cx="290.72" cy="391.79" r="0.74" fill="#28286a" opacity="0.48"/>
<circle cx="292.71" cy="393.11" r="0.51" fill="#28286a" opacity="0.74"/>
<circle cx="300.96" cy="393.77" r="0.59" fill="#28286a" opacity="0.44"/>
<circle cx="294.48" cy="384.43" r="0.57" fill="#28286a" opacity="0.55"/>
<circle cx="288.38" cy="382.05" r="1.17" fill="#28286a" opacity="0.53"/>
<circle cx="280.87" cy="389.08" r="0.82" fill="#28286a" opacity="0.67"/>
<circle cx="286.96" cy="391.66" r="0.51" fill="#28286a" opacity="0.70"/>
<circle cx="291.10" cy="378.38" r="1.02" fill="#28286a" opacity="0.61"/>
<circle cx="297.39" cy="400.84" r="0.51" fill="#28286a" opacity="0.54"/>
<circle cx="296.47" cy="396.76" r="0.68" fill="#28286a" opacity="0.54"/>
<circle cx="289.24" cy="381.63" r="0.62" fill="#28286a" opacity="0.70"/>
<circle cx="290.42" cy="379.20" r="0.43" fill="#28286a" opacity="0.63"/>
<circle cx="296.61" cy="386.75" r="0.58" fill="#28286a" opacity="0.72"/>
<circle cx="286.22" cy="396.77" r="1.14" fill="#28286a" opacity="0.52"/>
<circle cx="293.37" cy="396.27" r="0.71" fill="#28286a" opacity="0.66"/>
<circle cx="283.96" cy="398.91" r="0.46" fill="#28286a" opacity="0.46"/>
<circle cx="285.28" cy="384.49" r="0.85" fill="#28286a" opacity="0.77"/>
<circle cx="290.57" cy="396.03" r="0.43" fill="#28286a" opacity="0.57"/>
<circle cx="288.95" cy="399.06" r="0.41" fill="#28286a" opacity="0.35"/>
<circle cx="283.46" cy="398.28" r="0.67" fill="#28286a" opacity="0.76"/>
<circle cx="284.42" cy="386.84" r="1.10" fill="#28286a" opacity="0.45"/>
<circle cx="282.28" cy="383.53" r="0.89" fill="#28286a" opacity="0.49"/>
<circle cx="299.42" cy="396.16" r="0.57" fill="#28286a" opacity="0.52"/>
<circle cx="279.62" cy="387.45" r="1.01" fill="#28286a" opacity="0.58"/>
<circle cx="295.94" cy="385.22" r="0.75" fill="#28286a" opacity="0.65"/>
<circle cx="285.87" cy="388.70" r="0.77" fill="#28286a" opacity="0.72"/>
<circle cx="292.02" cy="401.35" r="0.44" fill="#28286a" opacity="0.78"/>
<circle cx="288.59" cy="384.09" r="1.28" fill="#28286a" opacity="0.71"/>
<circle cx="297.36" cy="393.09" r="0.84" fill="#28286a" opacity="0.80"/>
<circle cx="293.26" cy="392.84" r="0.68" fill="#28286a" opacity="0.37"/>
<circle cx="283.67" cy="395.75" r="0.80" fill="#28286a" opacity="0.41"/>
<circle cx="302.76" cy="392.35" r="0.80" fill="#28286a" opacity="0.57"/>
<circle cx="281.09" cy="392.15" r="1.21" fill="#28286a" opacity="0.72"/>
<circle cx="290.44" cy="383.39" r="0.55" fill="#28286a" opacity="0.39"/>
<circle cx="293.42" cy="388.36" r="0.91" fill="#28286a" opacity="0.76"/>
<circle cx="288.03" cy="397.82" r="0.78" fill="#28286a" opacity="0.78"/>
<circle cx="286.83" cy="380.05" r="0.43" fill="#28286a" opacity="0.68"/>
<circle cx="283.83" cy="393.14" r="1.13" fill="#28286a" opacity="0.68"/>
<circle cx="300.73" cy="384.88" r="1.22" fill="#28286a" opacity="0.54"/>
<circle cx="280.94" cy="386.82" r="0.81" fill="#28286a" opacity="0.41"/>
<circle cx="281.32" cy="384.64" r="1.18" fill="#28286a" opacity="0.41"/>
<circle cx="287.05" cy="394.83" r="0.71" fill="#28286a" opacity="0.78"/>
<circle cx="285.25" cy="394.08" r="0.65" fill="#28286a" opacity="0.55"/>
<circle cx="287.91" cy="384.20" r="0.57" fill="#28286a" opacity="0.45"/>
<circle cx="290.75" cy="402.76" r="0.55" fill="#28286a" opacity="0.69"/>
<circle cx="300.25" cy="397.78" r="0.64" fill="#28286a" opacity="0.70"/>
<circle cx="288.27" cy="392.17" r="0.49" fill="#28286a" opacity="0.71"/>
<circle cx="282.96" cy="388.39" r="0.72" fill="#28286a" opacity="0.66"/>
<circle cx="288.36" cy="391.05" r="0.94" fill="#28286a" opacity="0.49"/>
<circle cx="296.87" cy="382.98" r="1.10" fill="#28286a" opacity="0.40"/>
<circle cx="288.86" cy="381.14" r="1.17" fill="#28286a" opacity="0.75"/>
<circle cx="282.24" cy="387.60" r="1.09" fill="#28286a" opacity="0.47"/>
<circle cx="280.68" cy="387.56" r="0.94" fill="#28286a" opacity="0.59"/>
<circle cx="299.24" cy="380.83" r="0.63" fill="#28286a" opacity="0.38"/>
<circle cx="319.20" cy="390.70" r="13.80" fill="url(#gB3)"/>
<circle cx="323.99" cy="393.23" r="2.29" fill="#5058b8" opacity="0.43"/>
<circle cx="309.25" cy="390.93" r="1.96" fill="#5058b8" opacity="0.35"/>
<circle cx="323.88" cy="383.63" r="3.31" fill="#5058b8" opacity="0.43"/>
<circle cx="318.98" cy="390.93" r="3.01" fill="#5058b8" opacity="0.28"/>
<circle cx="329.21" cy="391.29" r="3.15" fill="#5058b8" opacity="0.42"/>
<circle cx="324.24" cy="389.18" r="1.93" fill="#5058b8" opacity="0.27"/>
<circle cx="323.41" cy="390.11" r="0.54" fill="#28286a" opacity="0.36"/>
<circle cx="321.57" cy="391.46" r="0.72" fill="#28286a" opacity="0.42"/>
<circle cx="314.72" cy="402.09" r="0.55" fill="#28286a" opacity="0.72"/>
<circle cx="318.50" cy="381.15" r="0.92" fill="#28286a" opacity="0.70"/>
<circle cx="314.01" cy="387.54" r="0.70" fill="#28286a" opacity="0.46"/>
<circle cx="308.96" cy="398.07" r="0.78" fill="#28286a" opacity="0.38"/>
<circle cx="307.88" cy="392.37" r="0.80" fill="#28286a" opacity="0.67"/>
<circle cx="321.87" cy="392.41" r="1.00" fill="#28286a" opacity="0.37"/>
<circle cx="316.67" cy="398.16" r="0.57" fill="#28286a" opacity="0.37"/>
<circle cx="331.57" cy="391.22" r="1.02" fill="#28286a" opacity="0.78"/>
<circle cx="306.81" cy="391.35" r="1.18" fill="#28286a" opacity="0.63"/>
<circle cx="310.26" cy="389.27" r="0.60" fill="#28286a" opacity="0.52"/>
<circle cx="318.25" cy="385.17" r="1.16" fill="#28286a" opacity="0.58"/>
<circle cx="310.07" cy="383.69" r="0.98" fill="#28286a" opacity="0.41"/>
<circle cx="319.21" cy="391.11" r="0.42" fill="#28286a" opacity="0.78"/>
<circle cx="308.78" cy="383.81" r="1.10" fill="#28286a" opacity="0.49"/>
<circle cx="331.14" cy="388.20" r="0.81" fill="#28286a" opacity="0.39"/>
<circle cx="317.04" cy="395.41" r="0.73" fill="#28286a" opacity="0.39"/>
<circle cx="316.32" cy="378.47" r="0.59" fill="#28286a" opacity="0.70"/>
<circle cx="311.59" cy="386.24" r="1.22" fill="#28286a" opacity="0.52"/>
<circle cx="320.22" cy="388.57" r="1.27" fill="#28286a" opacity="0.43"/>
<circle cx="331.12" cy="390.98" r="1.05" fill="#28286a" opacity="0.65"/>
<circle cx="319.98" cy="382.94" r="0.50" fill="#28286a" opacity="0.49"/>
<circle cx="331.25" cy="387.09" r="0.61" fill="#28286a" opacity="0.55"/>
<circle cx="307.70" cy="394.39" r="0.40" fill="#28286a" opacity="0.72"/>
<circle cx="319.00" cy="400.11" r="0.52" fill="#28286a" opacity="0.39"/>
<circle cx="325.88" cy="384.66" r="1.27" fill="#28286a" opacity="0.74"/>
<circle cx="319.25" cy="387.23" r="0.93" fill="#28286a" opacity="0.80"/>
<circle cx="315.94" cy="390.64" r="0.57" fill="#28286a" opacity="0.79"/>
<circle cx="325.44" cy="389.79" r="0.69" fill="#28286a" opacity="0.67"/>
<circle cx="313.74" cy="390.44" r="1.29" fill="#28286a" opacity="0.63"/>
<circle cx="317.95" cy="392.11" r="0.86" fill="#28286a" opacity="0.69"/>
<circle cx="320.84" cy="394.07" r="1.05" fill="#28286a" opacity="0.76"/>
<circle cx="312.95" cy="396.80" r="0.97" fill="#28286a" opacity="0.58"/>
<circle cx="323.81" cy="395.51" r="0.59" fill="#28286a" opacity="0.44"/>
<circle cx="325.95" cy="394.88" r="0.60" fill="#28286a" opacity="0.73"/>
<circle cx="313.75" cy="401.91" r="1.13" fill="#28286a" opacity="0.47"/>
<circle cx="324.64" cy="398.61" r="0.83" fill="#28286a" opacity="0.59"/>
<circle cx="325.82" cy="397.17" r="1.08" fill="#28286a" opacity="0.55"/>
<circle cx="318.80" cy="402.89" r="0.67" fill="#28286a" opacity="0.80"/>
<circle cx="346.40" cy="390.70" r="13.80" fill="url(#gB1)"/>
<circle cx="337.97" cy="386.71" r="3.11" fill="#5058b8" opacity="0.31"/>
<circle cx="340.00" cy="381.67" r="3.25" fill="#5058b8" opacity="0.29"/>
<circle cx="341.06" cy="383.19" r="2.61" fill="#5058b8" opacity="0.44"/>
<circle cx="338.06" cy="389.20" r="1.25" fill="#28286a" opacity="0.64"/>
<circle cx="344.16" cy="397.40" r="0.85" fill="#28286a" opacity="0.37"/>
<circle cx="337.90" cy="383.89" r="0.78" fill="#28286a" opacity="0.73"/>
<circle cx="354.91" cy="386.56" r="1.01" fill="#28286a" opacity="0.40"/>
<circle cx="358.20" cy="395.03" r="0.66" fill="#28286a" opacity="0.45"/>
<circle cx="355.16" cy="384.05" r="0.51" fill="#28286a" opacity="0.49"/>
<circle cx="346.70" cy="397.32" r="0.41" fill="#28286a" opacity="0.59"/>
<circle cx="343.73" cy="398.21" r="0.57" fill="#28286a" opacity="0.40"/>
<circle cx="358.01" cy="393.14" r="1.07" fill="#28286a" opacity="0.60"/>
<circle cx="349.89" cy="394.14" r="0.51" fill="#28286a" opacity="0.49"/>
<circle cx="352.63" cy="393.06" r="0.58" fill="#28286a" opacity="0.44"/>
<circle cx="341.51" cy="383.63" r="0.83" fill="#28286a" opacity="0.51"/>
<circle cx="335.49" cy="387.97" r="0.68" fill="#28286a" opacity="0.38"/>
<circle cx="338.64" cy="391.62" r="1.10" fill="#28286a" opacity="0.40"/>
<circle cx="347.48" cy="389.59" r="0.89" fill="#28286a" opacity="0.55"/>
<circle cx="341.62" cy="401.68" r="1.03" fill="#28286a" opacity="0.42"/>
<circle cx="336.47" cy="391.02" r="0.43" fill="#28286a" opacity="0.39"/>
<circle cx="337.70" cy="384.23" r="0.82" fill="#28286a" opacity="0.54"/>
<circle cx="339.93" cy="390.42" r="1.19" fill="#28286a" opacity="0.78"/>
<circle cx="344.59" cy="390.91" r="0.76" fill="#28286a" opacity="0.71"/>
<circle cx="344.53" cy="394.38" r="0.57" fill="#28286a" opacity="0.67"/>
<circle cx="341.51" cy="385.99" r="0.96" fill="#28286a" opacity="0.69"/>
<circle cx="357.71" cy="388.25" r="0.79" fill="#28286a" opacity="0.71"/>
<circle cx="356.96" cy="385.35" r="1.08" fill="#28286a" opacity="0.61"/>
<circle cx="334.72" cy="389.86" r="0.96" fill="#28286a" opacity="0.67"/>
<circle cx="346.93" cy="394.52" r="0.64" fill="#28286a" opacity="0.61"/>
<circle cx="341.33" cy="388.20" r="0.57" fill="#28286a" opacity="0.78"/>
<circle cx="357.41" cy="396.01" r="1.09" fill="#28286a" opacity="0.61"/>
<circle cx="356.86" cy="390.41" r="0.41" fill="#28286a" opacity="0.77"/>
<circle cx="336.00" cy="396.99" r="1.13" fill="#28286a" opacity="0.41"/>
<circle cx="348.18" cy="391.15" r="1.10" fill="#28286a" opacity="0.71"/>
<circle cx="346.99" cy="394.92" r="0.73" fill="#28286a" opacity="0.71"/>
<circle cx="345.71" cy="378.90" r="1.27" fill="#28286a" opacity="0.69"/>
<circle cx="347.23" cy="389.30" r="0.41" fill="#28286a" opacity="0.74"/>
<circle cx="341.07" cy="385.77" r="0.52" fill="#28286a" opacity="0.50"/>
<circle cx="341.65" cy="398.27" r="0.80" fill="#28286a" opacity="0.44"/>
<circle cx="351.38" cy="393.52" r="0.52" fill="#28286a" opacity="0.40"/>
<circle cx="342.47" cy="393.04" r="1.12" fill="#28286a" opacity="0.60"/>
<circle cx="336.57" cy="393.22" r="0.61" fill="#28286a" opacity="0.36"/>
<circle cx="352.89" cy="394.20" r="0.73" fill="#28286a" opacity="0.46"/>
<circle cx="342.37" cy="401.57" r="0.41" fill="#28286a" opacity="0.55"/>
<circle cx="341.40" cy="395.22" r="1.05" fill="#28286a" opacity="0.45"/>
<circle cx="351.29" cy="392.03" r="1.28" fill="#28286a" opacity="0.51"/>
<circle cx="355.68" cy="399.09" r="0.98" fill="#28286a" opacity="0.78"/>
<circle cx="340.81" cy="400.66" r="0.44" fill="#28286a" opacity="0.46"/>
<circle cx="348.93" cy="381.94" r="1.11" fill="#28286a" opacity="0.52"/>
<circle cx="348.92" cy="388.22" r="0.96" fill="#28286a" opacity="0.43"/>
<circle cx="350.13" cy="402.03" r="0.79" fill="#28286a" opacity="0.72"/>
<circle cx="344.10" cy="401.30" r="1.22" fill="#28286a" opacity="0.63"/>
<circle cx="347.40" cy="401.03" r="1.26" fill="#28286a" opacity="0.71"/>
<circle cx="338.87" cy="393.47" r="0.49" fill="#28286a" opacity="0.70"/>
<circle cx="349.63" cy="395.68" r="0.43" fill="#28286a" opacity="0.42"/>
<circle cx="339.87" cy="396.55" r="0.56" fill="#28286a" opacity="0.54"/>
<circle cx="346.60" cy="386.75" r="0.52" fill="#28286a" opacity="0.59"/>
<circle cx="356.41" cy="383.80" r="0.91" fill="#28286a" opacity="0.39"/>
<circle cx="147.20" cy="421.00" r="13.80" fill="url(#gL)"/>
<circle cx="137.54" cy="419.22" r="0.41" fill="#40408a" opacity="0.65"/>
<circle cx="152.92" cy="415.77" r="0.44" fill="#40408a" opacity="0.44"/>
<circle cx="145.84" cy="424.70" r="0.33" fill="#40408a" opacity="0.32"/>
<circle cx="145.68" cy="430.91" r="0.39" fill="#40408a" opacity="0.59"/>
<circle cx="149.92" cy="422.64" r="0.26" fill="#40408a" opacity="0.50"/>
<circle cx="153.28" cy="411.26" r="0.43" fill="#40408a" opacity="0.51"/>
<circle cx="142.67" cy="415.75" r="0.28" fill="#40408a" opacity="0.34"/>
<circle cx="137.44" cy="418.80" r="0.34" fill="#40408a" opacity="0.43"/>
<circle cx="175.30" cy="421.00" r="13.80" fill="url(#gL)"/>
<circle cx="164.70" cy="417.65" r="0.39" fill="#40408a" opacity="0.64"/>
<circle cx="172.48" cy="433.29" r="0.34" fill="#40408a" opacity="0.59"/>
<circle cx="175.68" cy="408.63" r="0.27" fill="#40408a" opacity="0.41"/>
<circle cx="173.30" cy="411.39" r="0.39" fill="#40408a" opacity="0.41"/>
<circle cx="176.61" cy="420.62" r="0.38" fill="#40408a" opacity="0.42"/>
<circle cx="185.71" cy="422.66" r="0.21" fill="#40408a" opacity="0.36"/>
<circle cx="172.99" cy="425.53" r="0.24" fill="#40408a" opacity="0.28"/>
<circle cx="177.40" cy="417.96" r="0.24" fill="#40408a" opacity="0.28"/>
<circle cx="203.20" cy="421.00" r="13.80" fill="url(#gL)"/>
<circle cx="197.16" cy="432.20" r="0.44" fill="#40408a" opacity="0.66"/>
<circle cx="206.18" cy="409.37" r="0.20" fill="#40408a" opacity="0.53"/>
<circle cx="203.36" cy="431.97" r="0.31" fill="#40408a" opacity="0.50"/>
<circle cx="193.81" cy="418.41" r="0.41" fill="#40408a" opacity="0.69"/>
<circle cx="196.69" cy="430.51" r="0.42" fill="#40408a" opacity="0.43"/>
<circle cx="209.66" cy="427.34" r="0.39" fill="#40408a" opacity="0.49"/>
<circle cx="207.51" cy="430.88" r="0.28" fill="#40408a" opacity="0.65"/>
<circle cx="208.05" cy="429.62" r="0.30" fill="#40408a" opacity="0.69"/>
<circle cx="210.95" cy="430.21" r="0.30" fill="#40408a" opacity="0.42"/>
<circle cx="205.55" cy="429.72" r="0.43" fill="#40408a" opacity="0.70"/>
<circle cx="212.52" cy="417.28" r="0.26" fill="#40408a" opacity="0.48"/>
<circle cx="199.09" cy="415.36" r="0.45" fill="#40408a" opacity="0.29"/>
<circle cx="231.00" cy="421.00" r="13.80" fill="url(#gL)"/>
<circle cx="229.39" cy="417.46" r="0.35" fill="#40408a" opacity="0.63"/>
<circle cx="235.67" cy="413.06" r="0.36" fill="#40408a" opacity="0.42"/>
<circle cx="226.85" cy="420.26" r="0.37" fill="#40408a" opacity="0.52"/>
<circle cx="229.43" cy="428.74" r="0.38" fill="#40408a" opacity="0.45"/>
<circle cx="243.24" cy="417.82" r="0.41" fill="#40408a" opacity="0.29"/>
<circle cx="237.14" cy="424.14" r="0.29" fill="#40408a" opacity="0.57"/>
<circle cx="235.47" cy="412.48" r="0.36" fill="#40408a" opacity="0.51"/>
<circle cx="240.10" cy="422.98" r="0.25" fill="#40408a" opacity="0.44"/>
<circle cx="263.80" cy="421.00" r="13.80" fill="url(#gL)"/>
<circle cx="258.42" cy="414.54" r="0.38" fill="#40408a" opacity="0.28"/>
<circle cx="261.27" cy="413.56" r="0.35" fill="#40408a" opacity="0.33"/>
<circle cx="260.09" cy="426.49" r="0.28" fill="#40408a" opacity="0.58"/>
<circle cx="251.39" cy="423.12" r="0.35" fill="#40408a" opacity="0.35"/>
<circle cx="256.72" cy="414.93" r="0.24" fill="#40408a" opacity="0.49"/>
<circle cx="271.63" cy="421.58" r="0.33" fill="#40408a" opacity="0.56"/>
<circle cx="273.54" cy="418.46" r="0.21" fill="#40408a" opacity="0.46"/>
<circle cx="263.79" cy="432.09" r="0.42" fill="#40408a" opacity="0.29"/>
<circle cx="264.66" cy="414.71" r="0.59" fill="#30307a" opacity="0.63"/>
<circle cx="291.50" cy="421.00" r="13.80" fill="url(#gL)"/>
<circle cx="293.49" cy="428.72" r="0.25" fill="#40408a" opacity="0.43"/>
<circle cx="281.98" cy="417.04" r="0.26" fill="#40408a" opacity="0.41"/>
<circle cx="296.54" cy="431.43" r="0.27" fill="#40408a" opacity="0.65"/>
<circle cx="292.57" cy="421.53" r="0.31" fill="#40408a" opacity="0.44"/>
<circle cx="291.67" cy="409.05" r="0.33" fill="#40408a" opacity="0.38"/>
<circle cx="289.67" cy="412.49" r="0.26" fill="#40408a" opacity="0.39"/>
<circle cx="302.31" cy="421.04" r="0.21" fill="#40408a" opacity="0.33"/>
<circle cx="284.12" cy="414.10" r="0.35" fill="#40408a" opacity="0.54"/>
<circle cx="295.42" cy="409.16" r="0.44" fill="#40408a" opacity="0.42"/>
<circle cx="288.69" cy="424.81" r="0.31" fill="#40408a" opacity="0.33"/>
<circle cx="300.81" cy="416.89" r="0.62" fill="#30307a" opacity="0.73"/>
<circle cx="319.20" cy="421.00" r="13.80" fill="url(#gL)"/>
<circle cx="307.58" cy="424.09" r="0.21" fill="#40408a" opacity="0.38"/>
<circle cx="329.36" cy="418.51" r="0.23" fill="#40408a" opacity="0.41"/>
<circle cx="325.40" cy="415.16" r="0.21" fill="#40408a" opacity="0.65"/>
<circle cx="326.24" cy="428.49" r="0.35" fill="#40408a" opacity="0.46"/>
<circle cx="324.44" cy="419.72" r="0.35" fill="#40408a" opacity="0.30"/>
<circle cx="323.97" cy="419.95" r="0.33" fill="#40408a" opacity="0.62"/>
<circle cx="346.40" cy="421.00" r="13.80" fill="url(#gL)"/>
<circle cx="341.88" cy="425.19" r="0.24" fill="#40408a" opacity="0.66"/>
<circle cx="336.99" cy="415.99" r="0.34" fill="#40408a" opacity="0.42"/>
<circle cx="345.28" cy="411.32" r="0.40" fill="#40408a" opacity="0.55"/>
<circle cx="350.93" cy="413.80" r="0.24" fill="#40408a" opacity="0.32"/>
<circle cx="345.52" cy="415.82" r="0.36" fill="#40408a" opacity="0.53"/>
<circle cx="356.98" cy="425.15" r="0.21" fill="#40408a" opacity="0.64"/>
<circle cx="349.63" cy="415.99" r="0.38" fill="#40408a" opacity="0.58"/>
<circle cx="353.83" cy="428.43" r="0.23" fill="#40408a" opacity="0.66"/>
<circle cx="341.64" cy="409.22" r="0.21" fill="#40408a" opacity="0.39"/>
<circle cx="339.10" cy="414.15" r="0.25" fill="#40408a" opacity="0.65"/>
<circle cx="350.42" cy="415.21" r="0.24" fill="#40408a" opacity="0.55"/>
<circle cx="337.67" cy="426.76" r="0.32" fill="#40408a" opacity="0.43"/>
<circle cx="350.67" cy="421.58" r="0.73" fill="#30307a" opacity="0.74"/>
<circle cx="147.20" cy="451.50" r="13.80" fill="url(#gL)"/>
<circle cx="145.90" cy="449.94" r="0.27" fill="#40408a" opacity="0.35"/>
<circle cx="146.30" cy="440.98" r="0.42" fill="#40408a" opacity="0.29"/>
<circle cx="145.25" cy="452.54" r="0.25" fill="#40408a" opacity="0.48"/>
<circle cx="152.84" cy="452.45" r="0.36" fill="#40408a" opacity="0.50"/>
<circle cx="149.02" cy="461.18" r="0.40" fill="#40408a" opacity="0.25"/>
<circle cx="150.88" cy="441.43" r="0.29" fill="#40408a" opacity="0.32"/>
<circle cx="154.38" cy="449.52" r="0.22" fill="#40408a" opacity="0.29"/>
<circle cx="152.93" cy="443.34" r="0.40" fill="#40408a" opacity="0.58"/>
<circle cx="134.87" cy="448.64" r="0.29" fill="#40408a" opacity="0.50"/>
<circle cx="152.03" cy="442.64" r="0.42" fill="#40408a" opacity="0.51"/>
<circle cx="146.43" cy="448.86" r="0.26" fill="#40408a" opacity="0.38"/>
<circle cx="152.63" cy="454.48" r="0.23" fill="#40408a" opacity="0.38"/>
<circle cx="142.10" cy="445.66" r="0.29" fill="#40408a" opacity="0.34"/>
<circle cx="145.88" cy="463.85" r="0.36" fill="#40408a" opacity="0.52"/>
<circle cx="152.41" cy="461.14" r="0.24" fill="#40408a" opacity="0.42"/>
<circle cx="156.56" cy="450.88" r="0.78" fill="#30307a" opacity="0.72"/>
<circle cx="175.30" cy="451.50" r="13.80" fill="url(#gL)"/>
<circle cx="185.70" cy="454.07" r="0.24" fill="#40408a" opacity="0.46"/>
<circle cx="169.90" cy="441.43" r="0.31" fill="#40408a" opacity="0.47"/>
<circle cx="183.68" cy="452.51" r="0.29" fill="#40408a" opacity="0.63"/>
<circle cx="164.63" cy="448.25" r="0.31" fill="#40408a" opacity="0.33"/>
<circle cx="182.18" cy="442.13" r="0.29" fill="#40408a" opacity="0.29"/>
<circle cx="166.29" cy="450.79" r="0.39" fill="#40408a" opacity="0.52"/>
<circle cx="165.58" cy="451.09" r="0.29" fill="#40408a" opacity="0.27"/>
<circle cx="186.85" cy="456.17" r="0.41" fill="#40408a" opacity="0.38"/>
<circle cx="182.40" cy="445.53" r="0.23" fill="#40408a" opacity="0.64"/>
<circle cx="164.61" cy="445.23" r="0.37" fill="#40408a" opacity="0.29"/>
<circle cx="167.14" cy="443.56" r="0.42" fill="#40408a" opacity="0.40"/>
<circle cx="164.73" cy="449.56" r="0.24" fill="#40408a" opacity="0.63"/>
<circle cx="175.85" cy="448.68" r="0.35" fill="#40408a" opacity="0.42"/>
<circle cx="179.20" cy="460.68" r="0.44" fill="#40408a" opacity="0.50"/>
<circle cx="182.14" cy="457.40" r="0.39" fill="#40408a" opacity="0.68"/>
<circle cx="174.78" cy="449.17" r="0.98" fill="#30307a" opacity="0.69"/>
<circle cx="203.20" cy="451.50" r="13.80" fill="url(#gL2)"/>
<circle cx="195.27" cy="456.64" r="0.42" fill="#40408a" opacity="0.33"/>
<circle cx="203.54" cy="453.66" r="0.23" fill="#40408a" opacity="0.25"/>
<circle cx="208.29" cy="459.16" r="0.45" fill="#40408a" opacity="0.56"/>
<circle cx="197.30" cy="457.15" r="0.37" fill="#40408a" opacity="0.40"/>
<circle cx="213.74" cy="456.75" r="0.35" fill="#40408a" opacity="0.30"/>
<circle cx="206.77" cy="453.18" r="0.44" fill="#40408a" opacity="0.30"/>
<circle cx="194.28" cy="442.55" r="0.21" fill="#40408a" opacity="0.42"/>
<circle cx="191.04" cy="453.25" r="0.25" fill="#40408a" opacity="0.37"/>
<circle cx="203.24" cy="454.35" r="0.37" fill="#40408a" opacity="0.62"/>
<circle cx="200.90" cy="452.47" r="0.38" fill="#40408a" opacity="0.58"/>
<circle cx="199.01" cy="445.46" r="0.41" fill="#40408a" opacity="0.53"/>
<circle cx="195.23" cy="446.45" r="0.26" fill="#40408a" opacity="0.46"/>
<circle cx="206.10" cy="441.29" r="0.29" fill="#40408a" opacity="0.62"/>
<circle cx="204.63" cy="449.23" r="0.24" fill="#40408a" opacity="0.35"/>
<circle cx="214.29" cy="452.52" r="0.36" fill="#40408a" opacity="0.49"/>
<circle cx="210.86" cy="451.24" r="0.25" fill="#40408a" opacity="0.30"/>
<circle cx="196.90" cy="461.41" r="0.35" fill="#40408a" opacity="0.28"/>
<circle cx="200.63" cy="452.65" r="0.36" fill="#40408a" opacity="0.31"/>
<circle cx="207.61" cy="460.79" r="0.41" fill="#40408a" opacity="0.53"/>
<circle cx="200.40" cy="461.42" r="0.27" fill="#40408a" opacity="0.25"/>
<circle cx="201.61" cy="462.03" r="0.36" fill="#40408a" opacity="0.34"/>
<circle cx="209.51" cy="441.65" r="0.27" fill="#40408a" opacity="0.68"/>
<circle cx="202.94" cy="454.76" r="0.33" fill="#40408a" opacity="0.64"/>
<circle cx="195.51" cy="445.94" r="0.32" fill="#40408a" opacity="0.38"/>
<circle cx="200.69" cy="459.25" r="0.34" fill="#40408a" opacity="0.67"/>
<circle cx="231.00" cy="451.50" r="13.80" fill="url(#gL)"/>
<circle cx="229.77" cy="460.38" r="0.22" fill="#40408a" opacity="0.40"/>
<circle cx="232.21" cy="452.09" r="0.27" fill="#40408a" opacity="0.30"/>
<circle cx="226.86" cy="461.76" r="0.21" fill="#40408a" opacity="0.53"/>
<circle cx="238.57" cy="460.08" r="0.38" fill="#40408a" opacity="0.34"/>
<circle cx="237.28" cy="442.63" r="0.22" fill="#40408a" opacity="0.43"/>
<circle cx="227.22" cy="439.76" r="0.24" fill="#40408a" opacity="0.36"/>
<circle cx="232.98" cy="439.06" r="0.22" fill="#40408a" opacity="0.29"/>
<circle cx="231.05" cy="444.27" r="0.30" fill="#40408a" opacity="0.64"/>
<circle cx="230.72" cy="441.07" r="0.42" fill="#40408a" opacity="0.58"/>
<circle cx="234.80" cy="441.94" r="0.35" fill="#40408a" opacity="0.28"/>
<circle cx="241.33" cy="444.91" r="0.29" fill="#40408a" opacity="0.53"/>
<circle cx="240.02" cy="452.46" r="0.36" fill="#40408a" opacity="0.38"/>
<circle cx="221.79" cy="456.99" r="0.57" fill="#30307a" opacity="0.63"/>
<circle cx="263.80" cy="451.50" r="13.80" fill="url(#gL)"/>
<circle cx="270.00" cy="446.26" r="0.35" fill="#40408a" opacity="0.64"/>
<circle cx="265.04" cy="460.63" r="0.35" fill="#40408a" opacity="0.68"/>
<circle cx="267.10" cy="452.18" r="0.28" fill="#40408a" opacity="0.62"/>
<circle cx="266.41" cy="447.56" r="0.43" fill="#40408a" opacity="0.49"/>
<circle cx="275.96" cy="449.01" r="0.22" fill="#40408a" opacity="0.69"/>
<circle cx="258.77" cy="452.18" r="0.32" fill="#40408a" opacity="0.28"/>
<circle cx="263.73" cy="442.03" r="0.23" fill="#40408a" opacity="0.35"/>
<circle cx="252.49" cy="451.03" r="0.27" fill="#40408a" opacity="0.30"/>
<circle cx="261.74" cy="454.17" r="0.28" fill="#40408a" opacity="0.64"/>
<circle cx="266.65" cy="457.95" r="0.39" fill="#40408a" opacity="0.34"/>
<circle cx="268.19" cy="455.36" r="0.81" fill="#30307a" opacity="0.73"/>
<circle cx="291.50" cy="451.50" r="13.80" fill="url(#gL)"/>
<circle cx="286.47" cy="458.25" r="0.31" fill="#40408a" opacity="0.40"/>
<circle cx="283.48" cy="450.87" r="0.21" fill="#40408a" opacity="0.44"/>
<circle cx="295.56" cy="452.11" r="0.27" fill="#40408a" opacity="0.68"/>
<circle cx="282.07" cy="452.60" r="0.43" fill="#40408a" opacity="0.65"/>
<circle cx="285.89" cy="448.96" r="0.33" fill="#40408a" opacity="0.41"/>
<circle cx="293.76" cy="450.89" r="0.29" fill="#40408a" opacity="0.56"/>
<circle cx="283.78" cy="445.82" r="0.39" fill="#40408a" opacity="0.36"/>
<circle cx="298.12" cy="441.16" r="0.21" fill="#40408a" opacity="0.40"/>
<circle cx="286.32" cy="457.53" r="0.34" fill="#40408a" opacity="0.36"/>
<circle cx="284.35" cy="441.81" r="0.43" fill="#40408a" opacity="0.63"/>
<circle cx="293.67" cy="462.36" r="0.39" fill="#40408a" opacity="0.52"/>
<circle cx="288.38" cy="445.38" r="0.39" fill="#40408a" opacity="0.36"/>
<circle cx="319.20" cy="451.50" r="13.80" fill="url(#gL)"/>
<circle cx="314.75" cy="450.11" r="0.38" fill="#40408a" opacity="0.39"/>
<circle cx="324.42" cy="449.37" r="0.39" fill="#40408a" opacity="0.32"/>
<circle cx="330.92" cy="448.96" r="0.23" fill="#40408a" opacity="0.54"/>
<circle cx="321.03" cy="460.50" r="0.41" fill="#40408a" opacity="0.32"/>
<circle cx="319.91" cy="454.90" r="0.22" fill="#40408a" opacity="0.47"/>
<circle cx="321.59" cy="455.44" r="0.37" fill="#40408a" opacity="0.38"/>
<circle cx="315.24" cy="457.82" r="0.41" fill="#40408a" opacity="0.37"/>
<circle cx="311.78" cy="441.55" r="0.34" fill="#40408a" opacity="0.38"/>
<circle cx="346.40" cy="451.50" r="13.80" fill="url(#gL)"/>
<circle cx="353.93" cy="454.87" r="0.23" fill="#40408a" opacity="0.59"/>
<circle cx="343.55" cy="451.30" r="0.21" fill="#40408a" opacity="0.58"/>
<circle cx="352.62" cy="460.57" r="0.36" fill="#40408a" opacity="0.48"/>
<circle cx="352.55" cy="443.66" r="0.34" fill="#40408a" opacity="0.43"/>
<circle cx="346.44" cy="456.27" r="0.31" fill="#40408a" opacity="0.42"/>
<circle cx="347.34" cy="444.92" r="0.30" fill="#40408a" opacity="0.68"/>
<circle cx="338.81" cy="444.34" r="0.37" fill="#40408a" opacity="0.66"/>
<circle cx="349.46" cy="462.34" r="0.22" fill="#40408a" opacity="0.36"/>
<circle cx="340.43" cy="447.40" r="0.32" fill="#40408a" opacity="0.35"/>
<circle cx="346.12" cy="459.98" r="0.35" fill="#40408a" opacity="0.56"/>
<text x="388.00" y="354.80" font-size="12.6" text-anchor="start" font-weight="bold" fill="#000">g</text>
<line x1="434.30" y1="364.15" x2="434.30" y2="477.40" stroke="#222222" stroke-width="0.8"/>
<line x1="434.30" y1="477.40" x2="510.40" y2="477.40" stroke="#222222" stroke-width="0.8"/>
<line x1="429.80" y1="477.40" x2="434.30" y2="477.40" stroke="#222222" stroke-width="0.8"/>
<text x="425.80" y="480.21" font-size="7.8" text-anchor="end" fill="#1c1c1c">0</text>
<line x1="429.80" y1="454.75" x2="434.30" y2="454.75" stroke="#222222" stroke-width="0.8"/>
<text x="425.80" y="457.56" font-size="7.8" text-anchor="end" fill="#1c1c1c">50</text>
<line x1="429.80" y1="432.10" x2="434.30" y2="432.10" stroke="#222222" stroke-width="0.8"/>
<text x="425.80" y="434.91" font-size="7.8" text-anchor="end" fill="#1c1c1c">100</text>
<line x1="429.80" y1="409.45" x2="434.30" y2="409.45" stroke="#222222" stroke-width="0.8"/>
<text x="425.80" y="412.26" font-size="7.8" text-anchor="end" fill="#1c1c1c">150</text>
<line x1="429.80" y1="386.80" x2="434.30" y2="386.80" stroke="#222222" stroke-width="0.8"/>
<text x="425.80" y="389.61" font-size="7.8" text-anchor="end" fill="#1c1c1c">200</text>
<line x1="429.80" y1="364.15" x2="434.30" y2="364.15" stroke="#222222" stroke-width="0.8"/>
<text x="425.80" y="366.96" font-size="7.8" text-anchor="end" fill="#1c1c1c">250</text>
<line x1="449.00" y1="477.40" x2="449.00" y2="480.20" stroke="#222222" stroke-width="0.8"/>
<line x1="472.10" y1="477.40" x2="472.10" y2="480.20" stroke="#222222" stroke-width="0.8"/>
<line x1="494.20" y1="477.40" x2="494.20" y2="480.20" stroke="#222222" stroke-width="0.8"/>
<text transform="translate(395.3,420.7) rotate(-90)" font-size="8.8" text-anchor="middle" fill="#111" textLength="119.5" lengthAdjust="spacingAndGlyphs">Peptide-specific IFNγ ELISPOT</text>
<text transform="translate(406.4,420.7) rotate(-90)" font-size="8.8" text-anchor="middle" fill="#111" textLength="72.5" lengthAdjust="spacingAndGlyphs">SFUs fold increase</text>
<line x1="449.00" y1="366.50" x2="470.20" y2="366.50" stroke="#555" stroke-width="0.7"/>
<line x1="449.00" y1="366.50" x2="449.00" y2="472.70" stroke="#555" stroke-width="0.7"/>
<line x1="470.20" y1="366.50" x2="470.20" y2="372.40" stroke="#555" stroke-width="0.7"/>
<line x1="474.70" y1="366.50" x2="495.30" y2="366.50" stroke="#555" stroke-width="0.7"/>
<line x1="474.70" y1="366.50" x2="474.70" y2="372.40" stroke="#555" stroke-width="0.7"/>
<line x1="495.30" y1="366.50" x2="495.30" y2="474.10" stroke="#555" stroke-width="0.7"/>
<polygon points="455.90,359.75 456.59,361.15 458.13,361.37 457.02,362.46 457.28,364.00 455.90,363.28 454.52,364.00 454.78,362.46 453.67,361.37 455.21,361.15" fill="#111"/>
<polygon points="460.90,359.75 461.59,361.15 463.13,361.37 462.02,362.46 462.28,364.00 460.90,363.28 459.52,364.00 459.78,362.46 458.67,361.37 460.21,361.15" fill="#111"/>
<polygon points="484.40,359.75 485.09,361.15 486.63,361.37 485.52,362.46 485.78,364.00 484.40,363.28 483.02,364.00 483.28,362.46 482.17,361.37 483.71,361.15" fill="#111"/>
<text x="432.50" y="355.80" font-size="7.2" text-anchor="start" fill="#1c1c1c" textLength="37.7" lengthAdjust="spacingAndGlyphs"><tspan font-style="italic">P</tspan> = 0.0048</text>
<text x="475.00" y="355.80" font-size="7.2" text-anchor="start" fill="#1c1c1c" textLength="35.4" lengthAdjust="spacingAndGlyphs"><tspan font-style="italic">P</tspan> = 0.0341</text>
<line x1="472.10" y1="381.36" x2="472.10" y2="433.01" stroke="#f29bbf" stroke-width="0.8"/>
<line x1="469.85" y1="381.36" x2="474.35" y2="381.36" stroke="#f29bbf" stroke-width="0.8"/>
<line x1="469.85" y1="433.01" x2="474.35" y2="433.01" stroke="#f29bbf" stroke-width="0.8"/>
<rect x="465.20" y="407.18" width="13.80" height="70.22" fill="#fff" stroke="#f4005f" stroke-width="0.75"/>
<line x1="472.10" y1="407.18" x2="472.10" y2="433.01" stroke="#f29bbf" stroke-width="0.8"/>
<line x1="469.80" y1="433.01" x2="474.40" y2="433.01" stroke="#f29bbf" stroke-width="0.8"/>
<circle cx="472.10" cy="381.36" r="2.5" fill="#f4005f"/>
<circle cx="472.10" cy="395.41" r="2.5" fill="#f4005f"/>
<circle cx="472.10" cy="405.37" r="2.5" fill="#f4005f"/>
<circle cx="472.10" cy="442.97" r="2.5" fill="#f4005f"/>
<circle cx="445.20" cy="477.10" r="2.5" fill="#111111"/>
<circle cx="448.10" cy="474.40" r="2.5" fill="#111111"/>
<circle cx="451.10" cy="475.00" r="2.5" fill="#111111"/>
<circle cx="454.50" cy="475.00" r="2.5" fill="#111111"/>
<line x1="486.80" y1="477.20" x2="501.60" y2="477.20" stroke="#17817f" stroke-width="0.9"/>
<circle cx="494.20" cy="477.10" r="2.5" fill="#17817f"/>
<circle cx="511.90" cy="406.30" r="2.4" fill="#111111"/>
<text x="518.70" y="409.40" font-size="8.6" text-anchor="start" fill="#1c1c1c">Bolus vaccine</text>
<circle cx="511.90" cy="416.60" r="2.4" fill="#f4005f"/>
<text x="518.70" y="419.70" font-size="8.6" text-anchor="start" fill="#1c1c1c">DoriVac</text>
<circle cx="511.90" cy="426.90" r="2.4" fill="#17817f"/>
<text x="518.70" y="430.00" font-size="8.6" text-anchor="start" fill="#1c1c1c">Untreated</text>
</g></svg>
</body></html>
